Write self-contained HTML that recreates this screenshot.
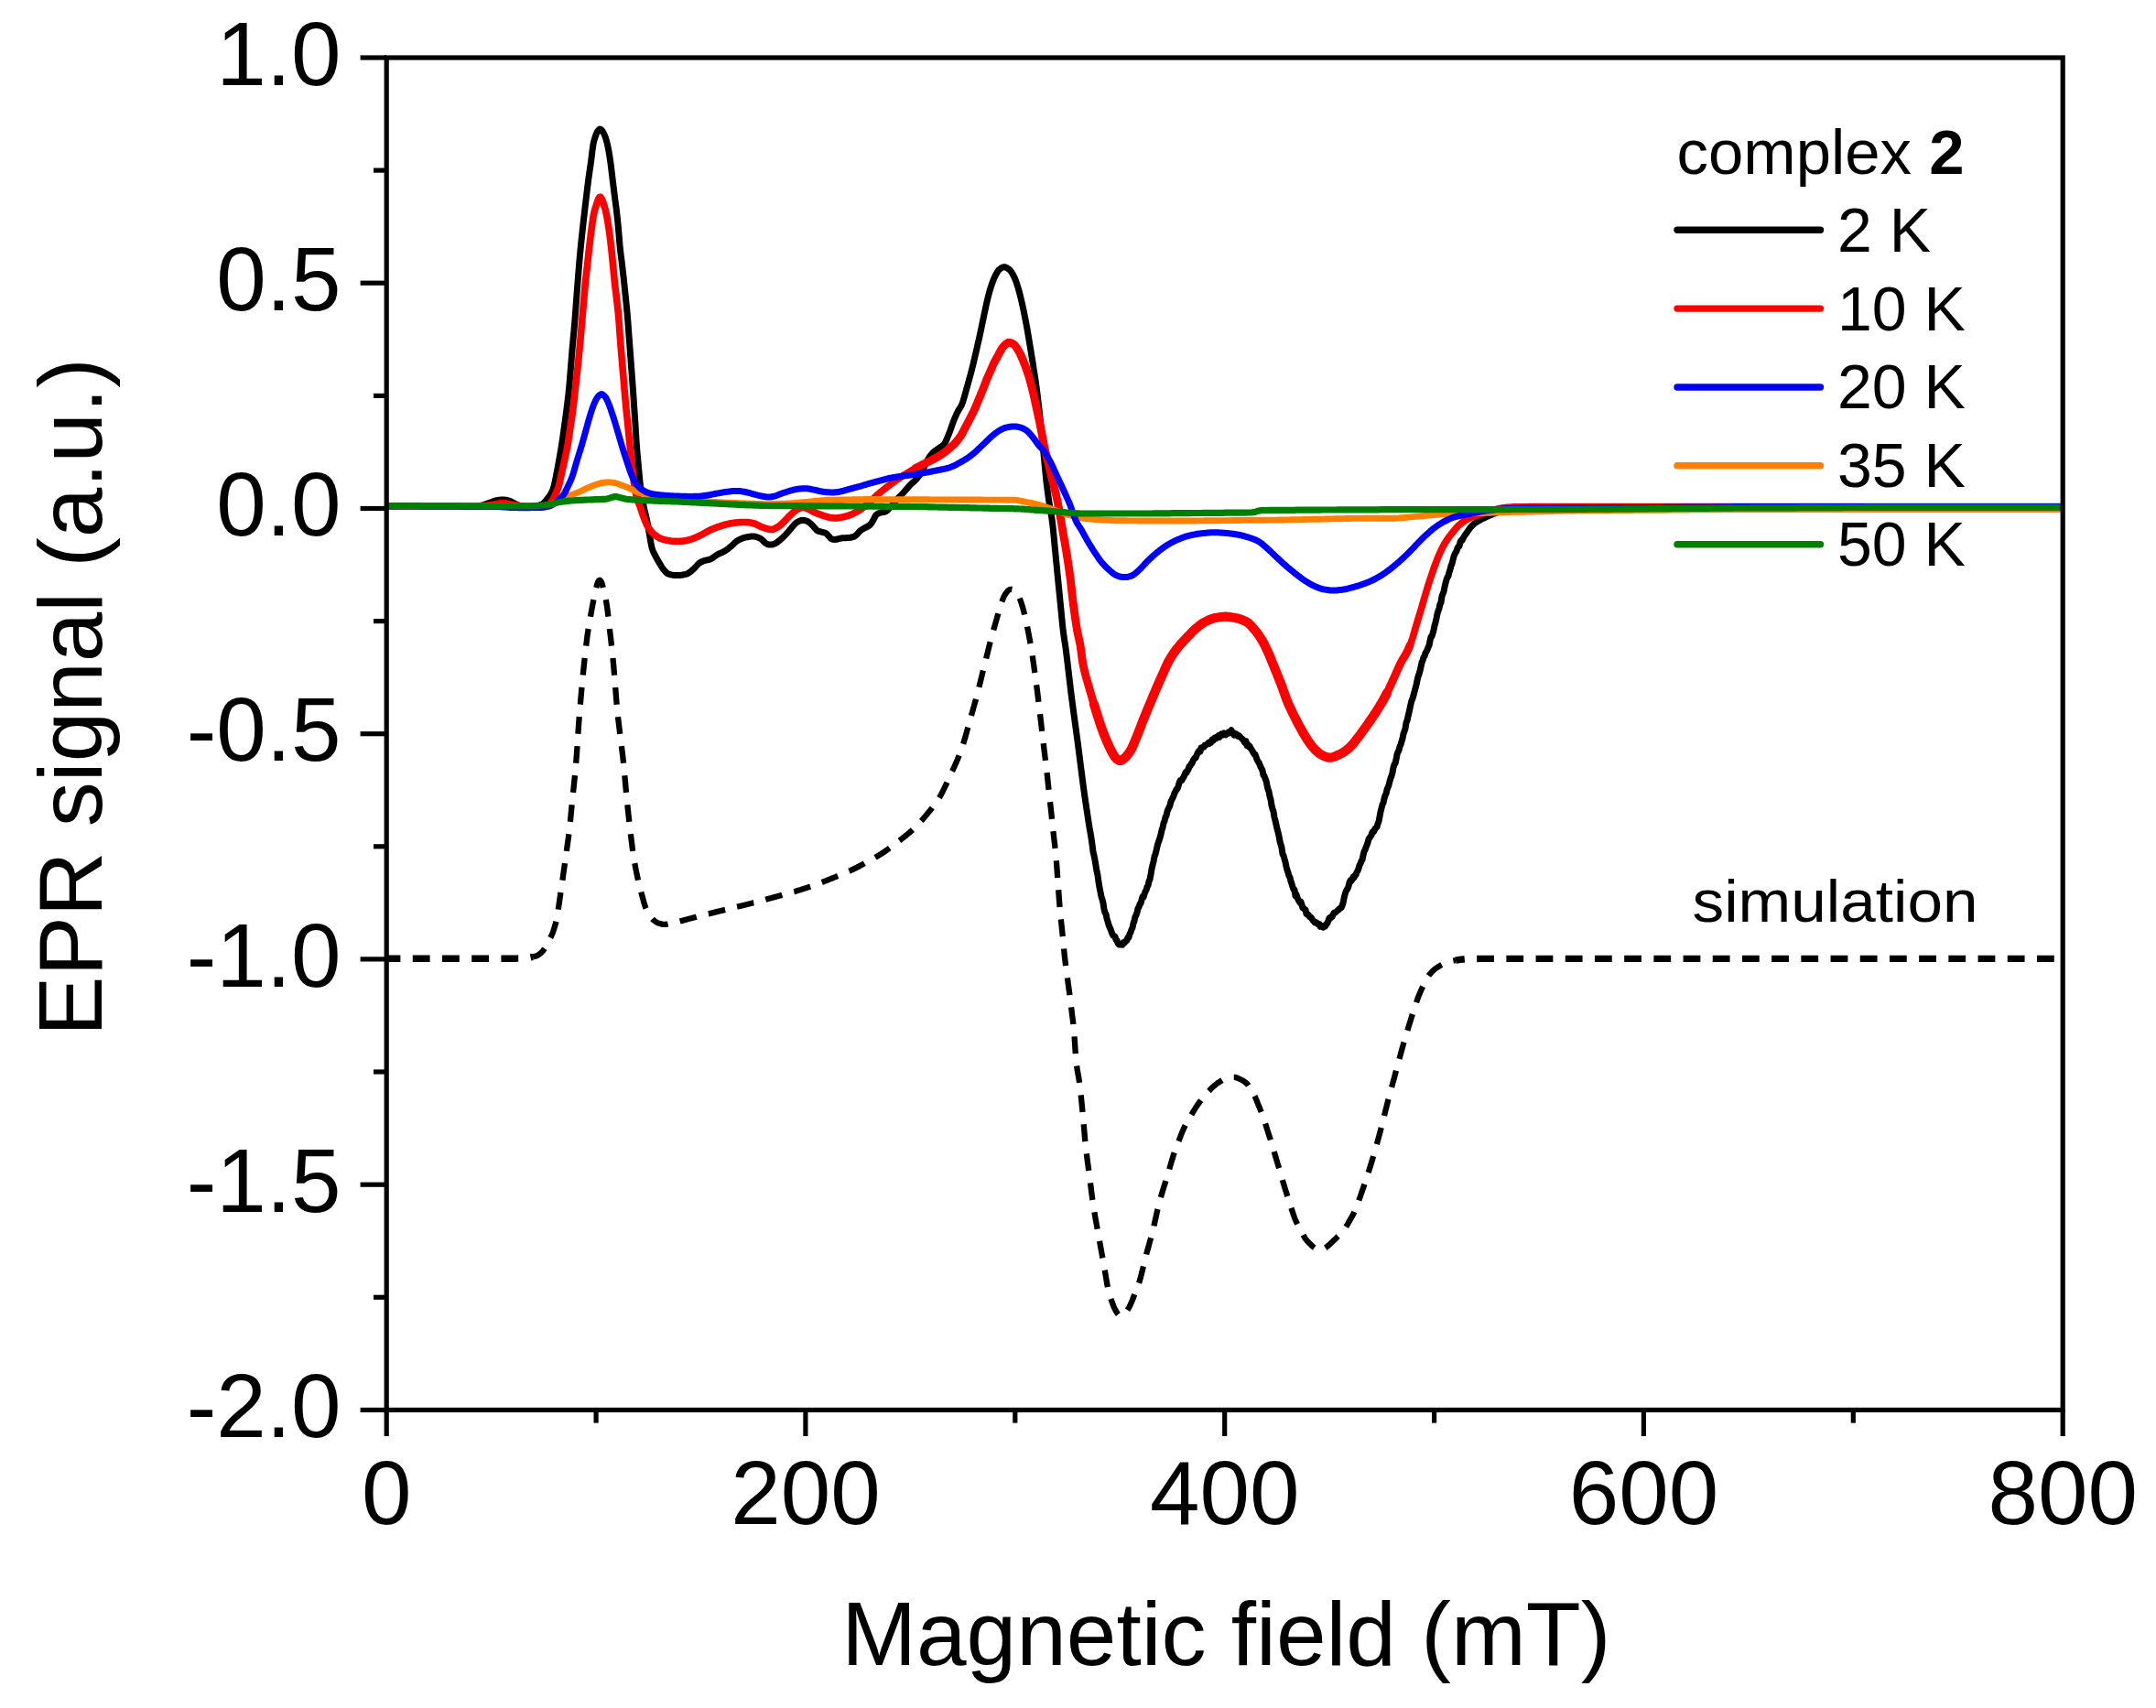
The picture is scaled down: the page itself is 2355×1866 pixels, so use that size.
<!DOCTYPE html>
<html><head><meta charset="utf-8"><title>EPR signal</title>
<style>html,body{margin:0;padding:0;background:#fff}svg{display:block}text{font-family:"Liberation Sans",sans-serif;fill:#000}</style></head><body>
<svg width="2355" height="1866" viewBox="0 0 2355 1866">
<rect width="2355" height="1866" fill="#fff"/>
<g fill="none" stroke-linejoin="round" stroke-linecap="butt">
<path d="M422.0 1047.2 L423.0 1047.2 L424.0 1047.2 L425.0 1047.2 L426.0 1047.2 L427.0 1047.2 L428.0 1047.2 L429.0 1047.2 L430.0 1047.2 L431.0 1047.2 L432.0 1047.2 L433.0 1047.2 L434.0 1047.2 L435.0 1047.2 L436.0 1047.2 L437.0 1047.2 L438.0 1047.2 L439.0 1047.2 L440.0 1047.2 L441.0 1047.2 L442.0 1047.2 L443.0 1047.2 L444.0 1047.2 L445.0 1047.2 L446.0 1047.2 L447.0 1047.2 L448.0 1047.2 L449.0 1047.2 L450.0 1047.2 L451.0 1047.2 L452.0 1047.2 L453.0 1047.2 L454.0 1047.2 L455.0 1047.2 L456.0 1047.2 L457.0 1047.2 L458.0 1047.2 L459.0 1047.2 L460.0 1047.2 L461.0 1047.2 L462.0 1047.2 L463.0 1047.2 L464.0 1047.2 L465.0 1047.2 L466.0 1047.2 L467.0 1047.2 L468.0 1047.2 L469.0 1047.2 L470.0 1047.2 L471.0 1047.2 L472.0 1047.2 L473.0 1047.2 L474.0 1047.2 L475.0 1047.2 L476.0 1047.2 L477.0 1047.2 L478.0 1047.2 L479.0 1047.2 L480.0 1047.2 L481.0 1047.2 L482.0 1047.2 L483.0 1047.2 L484.0 1047.2 L485.0 1047.2 L486.0 1047.2 L487.0 1047.2 L488.0 1047.2 L489.0 1047.2 L490.0 1047.2 L491.0 1047.2 L492.0 1047.2 L493.0 1047.2 L494.0 1047.2 L495.0 1047.2 L496.0 1047.2 L497.0 1047.2 L498.0 1047.2 L499.0 1047.2 L500.0 1047.2 L501.0 1047.2 L502.0 1047.2 L503.0 1047.2 L504.0 1047.2 L505.0 1047.2 L506.0 1047.2 L507.0 1047.2 L508.0 1047.2 L509.0 1047.2 L510.0 1047.2 L511.0 1047.2 L512.0 1047.2 L513.0 1047.2 L514.0 1047.2 L515.0 1047.2 L516.0 1047.2 L517.0 1047.2 L518.0 1047.2 L519.0 1047.2 L520.0 1047.2 L521.0 1047.2 L522.0 1047.2 L523.0 1047.2 L524.0 1047.2 L525.0 1047.2 L526.0 1047.2 L527.0 1047.2 L528.0 1047.2 L529.0 1047.2 L530.0 1047.2 L531.0 1047.2 L532.0 1047.2 L533.0 1047.2 L534.0 1047.2 L535.0 1047.2 L536.0 1047.2 L537.0 1047.2 L538.0 1047.2 L539.0 1047.2 L540.0 1047.2 L541.0 1047.2 L542.0 1047.2 L543.0 1047.2 L544.0 1047.2 L545.0 1047.2 L546.0 1047.2 L547.0 1047.2 L548.0 1047.2 L549.0 1047.2 L550.0 1047.2 L551.0 1047.2 L552.0 1047.2 L553.0 1047.2 L554.0 1047.2 L555.0 1047.2 L556.0 1047.2 L557.0 1047.2 L558.0 1047.2 L559.0 1047.2 L560.0 1047.2 L561.0 1047.2 L562.0 1047.2 L563.0 1047.2 L564.0 1047.1 L565.0 1047.1 L566.0 1047.0 L567.0 1047.0 L568.0 1046.9 L569.0 1046.9 L570.0 1046.8 L571.0 1046.7 L572.0 1046.7 L573.0 1046.6 L574.0 1046.6 L575.0 1046.5 L576.0 1046.4 L577.0 1046.3 L578.0 1046.2 L579.0 1046.0 L580.0 1045.8 L581.0 1045.6 L582.0 1045.4" stroke="#000" stroke-width="7.4" stroke-dasharray="18.8 13.4" stroke-dashoffset="3.40"/>
<path d="M582.0 1045.4 L583.0 1045.1 L584.0 1044.9 L585.0 1044.6 L586.0 1044.4 L587.0 1043.9 L588.0 1043.3 L589.0 1042.6 L590.0 1041.8 L591.0 1040.9 L592.0 1040.0 L593.0 1038.9 L594.0 1037.5 L595.0 1035.9 L596.0 1034.2 L597.0 1032.5 L598.0 1030.7 L599.0 1028.9 L600.0 1027.0 L601.0 1025.0 L602.0 1023.0 L603.0 1020.8 L604.0 1018.4 L605.0 1015.3 L606.0 1012.0 L607.0 1008.7 L608.0 1004.8 L609.0 998.9 L610.0 992.0 L611.0 985.1 L612.0 978.1 L613.0 971.1 L614.0 964.2 L615.0 957.2 L616.0 950.1 L617.0 943.0 L618.0 935.8 L619.0 928.6 L620.0 921.4 L621.0 914.4 L622.0 906.5 L623.0 896.6 L624.0 886.0 L625.0 876.0 L626.0 866.2 L627.0 856.7 L628.0 847.0 L629.0 836.2 L630.0 823.2 L631.0 808.2 L632.0 792.6 L633.0 779.8 L634.0 768.0 L635.0 756.4 L636.0 745.4 L637.0 735.1 L638.0 725.2 L639.0 716.0 L640.0 707.2 L641.0 698.8 L642.0 691.2 L643.0 684.8 L644.0 678.9 L645.0 673.4 L646.0 668.0 L647.0 662.5 L648.0 657.1 L649.0 652.0 L650.0 647.2 L651.0 642.9 L652.0 639.2 L653.0 636.1 L654.0 634.3 L655.0 633.8 L656.0 634.4 L657.0 636.0 L658.0 638.9 L659.0 642.9 L660.0 647.0 L661.0 651.4 L662.0 656.4 L663.0 662.3 L664.0 670.0 L665.0 679.0 L666.0 688.0 L667.0 696.5 L668.0 705.2 L669.0 714.4 L670.0 724.8 L671.0 736.6 L672.0 748.7 L673.0 761.7 L674.0 773.5 L675.0 783.1 L676.0 791.6 L677.0 800.0 L678.0 808.2 L679.0 816.1 L680.0 824.2 L681.0 833.0 L682.0 843.3 L683.0 854.7 L684.0 865.8 L685.0 876.0 L686.0 885.7 L687.0 894.9 L688.0 903.7 L689.0 912.2 L690.0 920.5 L691.0 928.4 L692.0 935.5 L693.0 941.6 L694.0 947.0 L695.0 952.0 L696.0 956.9 L697.0 961.6 L698.0 965.9 L699.0 969.9 L700.0 973.6 L701.0 977.2 L702.0 980.8 L703.0 984.6 L704.0 988.1 L705.0 991.1 L706.0 993.4 L707.0 995.5 L708.0 997.4 L709.0 999.0 L710.0 1000.5 L711.0 1002.0 L712.0 1003.3 L713.0 1004.4 L714.0 1005.3 L715.0 1006.1 L716.0 1006.9 L717.0 1007.5 L718.0 1008.1 L719.0 1008.5 L720.0 1008.8 L721.0 1009.1 L722.0 1009.4 L723.0 1009.6 L724.0 1009.8 L725.0 1009.9 L726.0 1009.9 L727.0 1009.8 L728.0 1009.7 L729.0 1009.6 L730.0 1009.4 L731.0 1009.2 L732.0 1009.0 L733.0 1008.8 L734.0 1008.6 L735.0 1008.4 L736.0 1008.2 L737.0 1008.0 L738.0 1007.7 L739.0 1007.5 L740.0 1007.2 L741.0 1007.0 L742.0 1006.7 L743.0 1006.4 L744.0 1006.2 L745.0 1005.9 L746.0 1005.6 L747.0 1005.4 L748.0 1005.1 L749.0 1004.8 L750.0 1004.6 L751.0 1004.3 L752.0 1004.0 L753.0 1003.7 L754.0 1003.5 L755.0 1003.2 L756.0 1002.9 L757.0 1002.7 L758.0 1002.4 L759.0 1002.1 L760.0 1001.9 L761.0 1001.6 L762.0 1001.4 L763.0 1001.1 L764.0 1000.8 L765.0 1000.6 L766.0 1000.3 L767.0 1000.1 L768.0 999.8 L769.0 999.6 L770.0 999.3 L771.0 999.1 L772.0 998.8 L773.0 998.6 L774.0 998.4 L775.0 998.1 L776.0 997.9 L777.0 997.6 L778.0 997.4 L779.0 997.1 L780.0 996.9 L781.0 996.6 L782.0 996.4 L783.0 996.1 L784.0 995.9 L785.0 995.6 L786.0 995.4 L787.0 995.2 L788.0 994.9 L789.0 994.7 L790.0 994.4 L791.0 994.2 L792.0 993.9 L793.0 993.7 L794.0 993.4 L795.0 993.2 L796.0 992.9 L797.0 992.7 L798.0 992.5 L799.0 992.2 L800.0 992.0 L801.0 991.7 L802.0 991.5 L803.0 991.2 L804.0 991.0 L805.0 990.7 L806.0 990.5 L807.0 990.2 L808.0 990.0 L809.0 989.8 L810.0 989.5 L811.0 989.3 L812.0 989.0 L813.0 988.8 L814.0 988.5 L815.0 988.3 L816.0 988.0 L817.0 987.8 L818.0 987.5 L819.0 987.3 L820.0 987.0 L821.0 986.8 L822.0 986.5 L823.0 986.2 L824.0 986.0 L825.0 985.7 L826.0 985.5 L827.0 985.2 L828.0 984.9 L829.0 984.7 L830.0 984.4 L831.0 984.1 L832.0 983.9 L833.0 983.6 L834.0 983.3 L835.0 983.1 L836.0 982.8 L837.0 982.5 L838.0 982.3 L839.0 982.0 L840.0 981.7 L841.0 981.5 L842.0 981.2 L843.0 980.9 L844.0 980.6 L845.0 980.4 L846.0 980.1 L847.0 979.8 L848.0 979.6 L849.0 979.3 L850.0 979.0 L851.0 978.7 L852.0 978.4 L853.0 978.2 L854.0 977.9 L855.0 977.6 L856.0 977.3 L857.0 977.1 L858.0 976.8 L859.0 976.5 L860.0 976.2 L861.0 975.9 L862.0 975.7 L863.0 975.4 L864.0 975.1 L865.0 974.8 L866.0 974.5 L867.0 974.2 L868.0 974.0 L869.0 973.7 L870.0 973.4 L871.0 973.1 L872.0 972.8 L873.0 972.5 L874.0 972.2 L875.0 971.9 L876.0 971.6 L877.0 971.2 L878.0 970.9 L879.0 970.6 L880.0 970.3 L881.0 970.0 L882.0 969.6 L883.0 969.3 L884.0 969.0 L885.0 968.6 L886.0 968.3 L887.0 967.9 L888.0 967.6 L889.0 967.2 L890.0 966.8 L891.0 966.5 L892.0 966.1 L893.0 965.7 L894.0 965.4 L895.0 965.0 L896.0 964.6 L897.0 964.3 L898.0 963.9 L899.0 963.5 L900.0 963.1 L901.0 962.7 L902.0 962.3 L903.0 961.9 L904.0 961.5 L905.0 961.1 L906.0 960.7 L907.0 960.3 L908.0 959.9 L909.0 959.5 L910.0 959.1 L911.0 958.7 L912.0 958.3 L913.0 957.9 L914.0 957.5 L915.0 957.1 L916.0 956.7 L917.0 956.3 L918.0 955.8 L919.0 955.4 L920.0 955.0 L921.0 954.6 L922.0 954.1 L923.0 953.7 L924.0 953.3 L925.0 952.8 L926.0 952.4 L927.0 951.9 L928.0 951.5 L929.0 951.0 L930.0 950.5 L931.0 950.1 L932.0 949.6 L933.0 949.1 L934.0 948.6 L935.0 948.1 L936.0 947.6 L937.0 947.1 L938.0 946.6 L939.0 946.1 L940.0 945.5 L941.0 945.0 L942.0 944.5 L943.0 943.9 L944.0 943.4 L945.0 942.8 L946.0 942.3 L947.0 941.7 L948.0 941.2 L949.0 940.7 L950.0 940.1 L951.0 939.6 L952.0 939.0 L953.0 938.5 L954.0 937.9 L955.0 937.3 L956.0 936.8 L957.0 936.2 L958.0 935.6 L959.0 935.0 L960.0 934.4 L961.0 933.8 L962.0 933.2 L963.0 932.6 L964.0 931.9 L965.0 931.2 L966.0 930.6 L967.0 929.9 L968.0 929.2 L969.0 928.5 L970.0 927.8 L971.0 927.0 L972.0 926.3 L973.0 925.6 L974.0 924.8 L975.0 924.1 L976.0 923.3 L977.0 922.5 L978.0 921.8 L979.0 921.0 L980.0 920.3 L981.0 919.5 L982.0 918.7 L983.0 918.0 L984.0 917.2 L985.0 916.4 L986.0 915.6 L987.0 914.9 L988.0 914.1 L989.0 913.3 L990.0 912.4 L991.0 911.6 L992.0 910.8 L993.0 910.0 L994.0 909.1 L995.0 908.2 L996.0 907.4 L997.0 906.5 L998.0 905.6 L999.0 904.6 L1000.0 903.7 L1001.0 902.7 L1002.0 901.7 L1003.0 900.7 L1004.0 899.6 L1005.0 898.5 L1006.0 897.3 L1007.0 896.2 L1008.0 895.0 L1009.0 893.8 L1010.0 892.6 L1011.0 891.4 L1012.0 890.2 L1013.0 889.0 L1014.0 887.8 L1015.0 886.6 L1016.0 885.4 L1017.0 884.1 L1018.0 882.9 L1019.0 881.6 L1020.0 880.3 L1021.0 879.0 L1022.0 877.6 L1023.0 876.2 L1024.0 874.7 L1025.0 873.2 L1026.0 871.6 L1027.0 869.9 L1028.0 868.0 L1029.0 866.1 L1030.0 864.1 L1031.0 862.0 L1032.0 860.0 L1033.0 858.0 L1034.0 855.9 L1035.0 853.7 L1036.0 851.6 L1037.0 849.4 L1038.0 847.3 L1039.0 845.1 L1040.0 842.9 L1041.0 840.7 L1042.0 838.5 L1043.0 836.3 L1044.0 834.0 L1045.0 831.7 L1046.0 829.4 L1047.0 827.0 L1048.0 824.6 L1049.0 822.0 L1050.0 819.3 L1051.0 816.3 L1052.0 813.1 L1053.0 809.9 L1054.0 806.5 L1055.0 803.1 L1056.0 799.5 L1057.0 795.9 L1058.0 792.3 L1059.0 788.7 L1060.0 785.2 L1061.0 781.6 L1062.0 778.1 L1063.0 774.5 L1064.0 771.0 L1065.0 767.4 L1066.0 763.8 L1067.0 760.0 L1068.0 756.2 L1069.0 752.3 L1070.0 748.3 L1071.0 744.3 L1072.0 740.2 L1073.0 736.1 L1074.0 732.0 L1075.0 728.0 L1076.0 723.9 L1077.0 719.9 L1078.0 715.9 L1079.0 711.9 L1080.0 707.9 L1081.0 703.8 L1082.0 699.8 L1083.0 696.0 L1084.0 692.4 L1085.0 688.9 L1086.0 685.5 L1087.0 682.1 L1088.0 678.7 L1089.0 675.2 L1090.0 671.6 L1091.0 667.9 L1092.0 664.3 L1093.0 661.1 L1094.0 658.2 L1095.0 655.6 L1096.0 653.1 L1097.0 651.0 L1098.0 649.2 L1099.0 647.8 L1100.0 646.5 L1101.0 645.4 L1102.0 644.5 L1103.0 644.0 L1104.0 643.8 L1105.0 643.8 L1106.0 644.0 L1107.0 644.3 L1108.0 644.8 L1109.0 645.6 L1110.0 646.7 L1111.0 647.9 L1112.0 649.5 L1113.0 651.6 L1114.0 654.2 L1115.0 657.0 L1116.0 660.0 L1117.0 663.3 L1118.0 667.0 L1119.0 671.0 L1120.0 675.1 L1121.0 679.6 L1122.0 684.5 L1123.0 689.5 L1124.0 694.6 L1125.0 700.0 L1126.0 705.6 L1127.0 711.7 L1128.0 718.5 L1129.0 725.4 L1130.0 732.6 L1131.0 739.9 L1132.0 747.3 L1133.0 755.0 L1134.0 763.1 L1135.0 771.5 L1136.0 780.0 L1137.0 788.6 L1138.0 797.3 L1139.0 806.0 L1140.0 814.6 L1141.0 822.9 L1142.0 831.0 L1143.0 839.4 L1144.0 848.2 L1145.0 857.7 L1146.0 867.3 L1147.0 876.0 L1148.0 884.9 L1149.0 894.5 L1150.0 904.2 L1151.0 913.5 L1152.0 921.9 L1153.0 930.9 L1154.0 942.2 L1155.0 956.1 L1156.0 969.9 L1157.0 983.8 L1158.0 995.7 L1159.0 1005.7 L1160.0 1015.1 L1161.0 1025.2 L1162.0 1035.8 L1163.0 1045.7 L1164.0 1054.1 L1165.0 1061.6 L1166.0 1069.0 L1167.0 1076.4 L1168.0 1083.7 L1169.0 1091.4 L1170.0 1099.6 L1171.0 1108.0 L1172.0 1115.7 L1173.0 1124.3 L1174.0 1138.7 L1175.0 1154.6 L1176.0 1164.0 L1177.0 1170.4 L1178.0 1175.9 L1179.0 1182.1 L1180.0 1190.4 L1181.0 1199.6 L1182.0 1209.6 L1183.0 1219.9 L1184.0 1231.5 L1185.0 1243.5 L1186.0 1253.5 L1187.0 1261.9 L1188.0 1269.6 L1189.0 1277.0 L1190.0 1284.5 L1191.0 1292.5 L1192.0 1300.5 L1193.0 1308.3 L1194.0 1315.4 L1195.0 1321.8 L1196.0 1327.8 L1197.0 1333.5 L1198.0 1339.0 L1199.0 1344.5 L1200.0 1350.1 L1201.0 1355.7 L1202.0 1361.3 L1203.0 1366.8 L1204.0 1372.3 L1205.0 1377.8 L1206.0 1383.4 L1207.0 1389.3 L1208.0 1395.3 L1209.0 1401.1 L1210.0 1406.5 L1211.0 1411.0 L1212.0 1414.7 L1213.0 1417.8 L1214.0 1420.7 L1215.0 1423.4 L1216.0 1426.1 L1217.0 1428.7 L1218.0 1430.7 L1219.0 1432.4 L1220.0 1434.1 L1221.0 1435.5 L1222.0 1436.7 L1223.0 1437.5 L1224.0 1437.7 L1225.0 1437.5 L1226.0 1437.0 L1227.0 1436.3 L1228.0 1435.5 L1229.0 1434.5 L1230.0 1433.3 L1231.0 1432.0 L1232.0 1430.5 L1233.0 1428.8 L1234.0 1427.0 L1235.0 1424.9 L1236.0 1422.5 L1237.0 1420.1 L1238.0 1417.5 L1239.0 1415.0 L1240.0 1412.5 L1241.0 1410.0 L1242.0 1407.5 L1243.0 1404.8 L1244.0 1401.9 L1245.0 1398.8 L1246.0 1395.2 L1247.0 1391.3 L1248.0 1387.2 L1249.0 1383.2 L1250.0 1379.0 L1251.0 1374.8 L1252.0 1370.8 L1253.0 1367.2 L1254.0 1363.6 L1255.0 1360.1 L1256.0 1356.5 L1257.0 1353.0 L1258.0 1349.4 L1259.0 1345.5 L1260.0 1341.3 L1261.0 1336.8 L1262.0 1332.3 L1263.0 1327.8 L1264.0 1323.2 L1265.0 1318.7 L1266.0 1314.6 L1267.0 1311.0 L1268.0 1307.6 L1269.0 1304.3 L1270.0 1301.0 L1271.0 1297.8 L1272.0 1294.6 L1273.0 1291.5 L1274.0 1288.3 L1275.0 1285.0 L1276.0 1281.6 L1277.0 1278.1 L1278.0 1274.7 L1279.0 1271.3 L1280.0 1267.9 L1281.0 1264.5 L1282.0 1261.3 L1283.0 1258.3 L1284.0 1255.5 L1285.0 1252.9 L1286.0 1250.3 L1287.0 1247.8 L1288.0 1245.3 L1289.0 1242.7 L1290.0 1240.2 L1291.0 1237.7 L1292.0 1235.2 L1293.0 1232.9 L1294.0 1230.8 L1295.0 1228.8 L1296.0 1227.0 L1297.0 1225.2 L1298.0 1223.5 L1299.0 1221.8 L1300.0 1220.2 L1301.0 1218.5 L1302.0 1216.8 L1303.0 1215.1 L1304.0 1213.5 L1305.0 1211.8 L1306.0 1210.2 L1307.0 1208.7 L1308.0 1207.2 L1309.0 1205.8 L1310.0 1204.4 L1311.0 1203.1 L1312.0 1201.8 L1313.0 1200.6 L1314.0 1199.3 L1315.0 1198.1 L1316.0 1197.0 L1317.0 1195.8 L1318.0 1194.7 L1319.0 1193.5 L1320.0 1192.4 L1321.0 1191.4 L1322.0 1190.3 L1323.0 1189.3 L1324.0 1188.3 L1325.0 1187.4 L1326.0 1186.5 L1327.0 1185.7 L1328.0 1184.9 L1329.0 1184.1 L1330.0 1183.3 L1331.0 1182.6 L1332.0 1182.0 L1333.0 1181.4 L1334.0 1180.8 L1335.0 1180.2 L1336.0 1179.6 L1337.0 1179.1 L1338.0 1178.6 L1339.0 1178.3 L1340.0 1177.9 L1341.0 1177.6 L1342.0 1177.4 L1343.0 1177.2 L1344.0 1177.0 L1345.0 1176.9 L1346.0 1176.8 L1347.0 1176.8 L1348.0 1176.8 L1349.0 1176.9 L1350.0 1177.1 L1351.0 1177.5 L1352.0 1177.9 L1353.0 1178.3 L1354.0 1178.8 L1355.0 1179.2 L1356.0 1179.7 L1357.0 1180.2 L1358.0 1180.8 L1359.0 1181.4 L1360.0 1182.2 L1361.0 1183.0 L1362.0 1183.9 L1363.0 1185.1 L1364.0 1186.6 L1365.0 1188.1 L1366.0 1189.6 L1367.0 1191.1 L1368.0 1192.8 L1369.0 1194.5 L1370.0 1196.4 L1371.0 1198.5 L1372.0 1200.9 L1373.0 1203.3 L1374.0 1205.8 L1375.0 1208.2 L1376.0 1210.7 L1377.0 1213.1 L1378.0 1215.6 L1379.0 1218.3 L1380.0 1221.0 L1381.0 1224.0 L1382.0 1227.1 L1383.0 1230.3 L1384.0 1233.4 L1385.0 1236.6 L1386.0 1239.7 L1387.0 1242.8 L1388.0 1246.0 L1389.0 1249.2 L1390.0 1252.4 L1391.0 1255.8 L1392.0 1259.2 L1393.0 1262.6 L1394.0 1266.0 L1395.0 1269.3 L1396.0 1272.6 L1397.0 1275.9 L1398.0 1279.2 L1399.0 1282.7 L1400.0 1286.1 L1401.0 1289.6 L1402.0 1293.0 L1403.0 1296.3 L1404.0 1299.6 L1405.0 1302.8 L1406.0 1306.0 L1407.0 1309.2 L1408.0 1312.4 L1409.0 1315.5 L1410.0 1318.5 L1411.0 1321.5 L1412.0 1324.5 L1413.0 1327.5 L1414.0 1330.3 L1415.0 1332.8 L1416.0 1335.0 L1417.0 1337.1 L1418.0 1339.0 L1419.0 1340.9 L1420.0 1342.8 L1421.0 1344.6 L1422.0 1346.5 L1423.0 1348.4 L1424.0 1350.2 L1425.0 1351.9 L1426.0 1353.4 L1427.0 1354.7 L1428.0 1355.9 L1429.0 1357.0 L1430.0 1358.0 L1431.0 1359.0 L1432.0 1359.9 L1433.0 1360.9 L1434.0 1361.8 L1435.0 1362.6 L1436.0 1363.3 L1437.0 1363.9 L1438.0 1364.6 L1439.0 1365.2 L1440.0 1365.6 L1441.0 1365.9 L1442.0 1366.0 L1443.0 1365.9 L1444.0 1365.5 L1445.0 1365.1 L1446.0 1364.5 L1447.0 1363.9 L1448.0 1363.2 L1449.0 1362.4 L1450.0 1361.5 L1451.0 1360.7 L1452.0 1359.8 L1453.0 1358.9 L1454.0 1358.0 L1455.0 1357.0 L1456.0 1356.1 L1457.0 1355.1 L1458.0 1354.2 L1459.0 1353.2 L1460.0 1352.2 L1461.0 1351.2 L1462.0 1350.3 L1463.0 1349.3 L1464.0 1348.3 L1465.0 1347.2 L1466.0 1346.1 L1467.0 1345.0 L1468.0 1343.8 L1469.0 1342.4 L1470.0 1340.9 L1471.0 1339.2 L1472.0 1337.5 L1473.0 1335.7 L1474.0 1333.9 L1475.0 1332.1 L1476.0 1330.4 L1477.0 1328.6 L1478.0 1326.7 L1479.0 1324.8 L1480.0 1322.7 L1481.0 1320.5 L1482.0 1318.1 L1483.0 1315.3 L1484.0 1312.4 L1485.0 1309.5 L1486.0 1306.7 L1487.0 1303.8 L1488.0 1300.9 L1489.0 1298.0 L1490.0 1295.1 L1491.0 1292.1 L1492.0 1289.1 L1493.0 1286.1 L1494.0 1283.0 L1495.0 1279.9 L1496.0 1276.7 L1497.0 1273.5 L1498.0 1270.3 L1499.0 1267.0 L1500.0 1263.7 L1501.0 1260.3 L1502.0 1256.8 L1503.0 1253.2 L1504.0 1249.6 L1505.0 1245.9 L1506.0 1242.2 L1507.0 1238.6 L1508.0 1234.8 L1509.0 1231.0 L1510.0 1227.1 L1511.0 1223.1 L1512.0 1219.0 L1513.0 1215.0 L1514.0 1210.9 L1515.0 1206.9 L1516.0 1203.0 L1517.0 1199.2 L1518.0 1195.5 L1519.0 1191.9 L1520.0 1188.2 L1521.0 1184.5 L1522.0 1180.9 L1523.0 1177.2 L1524.0 1173.5 L1525.0 1169.8 L1526.0 1166.1 L1527.0 1162.4 L1528.0 1158.7 L1529.0 1155.0 L1530.0 1151.3 L1531.0 1147.7 L1532.0 1144.0 L1533.0 1140.5 L1534.0 1137.0 L1535.0 1133.7 L1536.0 1130.3 L1537.0 1127.0 L1538.0 1123.7 L1539.0 1120.4 L1540.0 1117.2 L1541.0 1114.0 L1542.0 1110.8 L1543.0 1107.7 L1544.0 1104.6 L1545.0 1101.5 L1546.0 1098.5 L1547.0 1095.4 L1548.0 1092.5 L1549.0 1089.6 L1550.0 1087.1 L1551.0 1084.7 L1552.0 1082.4 L1553.0 1080.2 L1554.0 1078.1 L1555.0 1076.1 L1556.0 1074.1 L1557.0 1072.1 L1558.0 1070.2 L1559.0 1068.3 L1560.0 1066.7 L1561.0 1065.3 L1562.0 1064.1 L1563.0 1062.9 L1564.0 1061.8 L1565.0 1060.8 L1566.0 1059.9 L1567.0 1059.0 L1568.0 1058.2 L1569.0 1057.5 L1570.0 1056.8 L1571.0 1056.2 L1572.0 1055.6 L1573.0 1055.0 L1574.0 1054.4 L1575.0 1053.9 L1576.0 1053.4 L1577.0 1052.9 L1578.0 1052.5 L1579.0 1052.2 L1580.0 1051.8 L1581.0 1051.4 L1582.0 1051.1 L1583.0 1050.8 L1584.0 1050.5 L1585.0 1050.2 L1586.0 1049.9 L1587.0 1049.7 L1588.0 1049.5 L1589.0 1049.3 L1590.0 1049.2" stroke="#000" stroke-width="6.3" stroke-dasharray="18.8 13.4" stroke-dashoffset="2.52"/>
<path d="M1590.0 1049.2 L1591.0 1049.0 L1592.0 1048.8 L1593.0 1048.7 L1594.0 1048.5 L1595.0 1048.4 L1596.0 1048.2 L1597.0 1048.1 L1598.0 1048.0 L1599.0 1048.0 L1600.0 1047.9 L1601.0 1047.9 L1602.0 1047.8 L1603.0 1047.8 L1604.0 1047.8 L1605.0 1047.7 L1606.0 1047.7 L1607.0 1047.7 L1608.0 1047.6 L1609.0 1047.6 L1610.0 1047.6 L1611.0 1047.5 L1612.0 1047.5 L1613.0 1047.5 L1614.0 1047.5 L1615.0 1047.4 L1616.0 1047.4 L1617.0 1047.4 L1618.0 1047.4 L1619.0 1047.4 L1620.0 1047.4 L1621.0 1047.4 L1622.0 1047.4 L1623.0 1047.4 L1624.0 1047.4 L1625.0 1047.4 L1626.0 1047.4 L1627.0 1047.4 L1628.0 1047.4 L1629.0 1047.4 L1630.0 1047.4 L1631.0 1047.4 L1632.0 1047.4 L1633.0 1047.4 L1634.0 1047.4 L1635.0 1047.4 L1636.0 1047.4 L1637.0 1047.4 L1638.0 1047.4 L1639.0 1047.4 L1640.0 1047.4 L1641.0 1047.4 L1642.0 1047.4 L1643.0 1047.4 L1644.0 1047.4 L1645.0 1047.4 L1646.0 1047.4 L1647.0 1047.4 L1648.0 1047.4 L1649.0 1047.4 L1650.0 1047.4 L1651.0 1047.4 L1652.0 1047.4 L1653.0 1047.4 L1654.0 1047.4 L1655.0 1047.4 L1656.0 1047.4 L1657.0 1047.4 L1658.0 1047.4 L1659.0 1047.4 L1660.0 1047.4 L1661.0 1047.4 L1662.0 1047.4 L1663.0 1047.4 L1664.0 1047.4 L1665.0 1047.4 L1666.0 1047.4 L1667.0 1047.4 L1668.0 1047.4 L1669.0 1047.4 L1670.0 1047.4 L1671.0 1047.4 L1672.0 1047.4 L1673.0 1047.4 L1674.0 1047.4 L1675.0 1047.4 L1676.0 1047.4 L1677.0 1047.4 L1678.0 1047.4 L1679.0 1047.4 L1680.0 1047.4 L1681.0 1047.4 L1682.0 1047.4 L1683.0 1047.4 L1684.0 1047.4 L1685.0 1047.4 L1686.0 1047.4 L1687.0 1047.4 L1688.0 1047.4 L1689.0 1047.4 L1690.0 1047.4 L1691.0 1047.4 L1692.0 1047.4 L1693.0 1047.4 L1694.0 1047.4 L1695.0 1047.4 L1696.0 1047.4 L1697.0 1047.4 L1698.0 1047.4 L1699.0 1047.4 L1700.0 1047.4 L1701.0 1047.4 L1702.0 1047.4 L1703.0 1047.4 L1704.0 1047.4 L1705.0 1047.4 L1706.0 1047.4 L1707.0 1047.4 L1708.0 1047.4 L1709.0 1047.4 L1710.0 1047.4 L1711.0 1047.4 L1712.0 1047.4 L1713.0 1047.4 L1714.0 1047.4 L1715.0 1047.4 L1716.0 1047.4 L1717.0 1047.4 L1718.0 1047.4 L1719.0 1047.4 L1720.0 1047.4 L1721.0 1047.4 L1722.0 1047.4 L1723.0 1047.4 L1724.0 1047.4 L1725.0 1047.4 L1726.0 1047.4 L1727.0 1047.4 L1728.0 1047.4 L1729.0 1047.4 L1730.0 1047.4 L1731.0 1047.4 L1732.0 1047.4 L1733.0 1047.4 L1734.0 1047.4 L1735.0 1047.4 L1736.0 1047.4 L1737.0 1047.4 L1738.0 1047.4 L1739.0 1047.4 L1740.0 1047.4 L1741.0 1047.4 L1742.0 1047.4 L1743.0 1047.4 L1744.0 1047.4 L1745.0 1047.4 L1746.0 1047.4 L1747.0 1047.4 L1748.0 1047.4 L1749.0 1047.4 L1750.0 1047.4 L1751.0 1047.4 L1752.0 1047.4 L1753.0 1047.4 L1754.0 1047.4 L1755.0 1047.4 L1756.0 1047.4 L1757.0 1047.4 L1758.0 1047.4 L1759.0 1047.4 L1760.0 1047.4 L1761.0 1047.4 L1762.0 1047.4 L1763.0 1047.4 L1764.0 1047.4 L1765.0 1047.4 L1766.0 1047.4 L1767.0 1047.4 L1768.0 1047.4 L1769.0 1047.4 L1770.0 1047.4 L1771.0 1047.4 L1772.0 1047.4 L1773.0 1047.4 L1774.0 1047.4 L1775.0 1047.4 L1776.0 1047.4 L1777.0 1047.4 L1778.0 1047.4 L1779.0 1047.4 L1780.0 1047.4 L1781.0 1047.4 L1782.0 1047.4 L1783.0 1047.4 L1784.0 1047.4 L1785.0 1047.4 L1786.0 1047.4 L1787.0 1047.4 L1788.0 1047.4 L1789.0 1047.4 L1790.0 1047.4 L1791.0 1047.4 L1792.0 1047.4 L1793.0 1047.4 L1794.0 1047.4 L1795.0 1047.4 L1796.0 1047.4 L1797.0 1047.4 L1798.0 1047.4 L1799.0 1047.4 L1800.0 1047.4 L1801.0 1047.4 L1802.0 1047.4 L1803.0 1047.4 L1804.0 1047.4 L1805.0 1047.4 L1806.0 1047.4 L1807.0 1047.4 L1808.0 1047.4 L1809.0 1047.4 L1810.0 1047.4 L1811.0 1047.4 L1812.0 1047.4 L1813.0 1047.4 L1814.0 1047.4 L1815.0 1047.4 L1816.0 1047.4 L1817.0 1047.4 L1818.0 1047.4 L1819.0 1047.4 L1820.0 1047.4 L1821.0 1047.4 L1822.0 1047.4 L1823.0 1047.4 L1824.0 1047.4 L1825.0 1047.4 L1826.0 1047.4 L1827.0 1047.4 L1828.0 1047.4 L1829.0 1047.4 L1830.0 1047.4 L1831.0 1047.4 L1832.0 1047.4 L1833.0 1047.4 L1834.0 1047.4 L1835.0 1047.4 L1836.0 1047.4 L1837.0 1047.4 L1838.0 1047.4 L1839.0 1047.4 L1840.0 1047.4 L1841.0 1047.4 L1842.0 1047.4 L1843.0 1047.4 L1844.0 1047.4 L1845.0 1047.4 L1846.0 1047.4 L1847.0 1047.4 L1848.0 1047.4 L1849.0 1047.4 L1850.0 1047.4 L1851.0 1047.4 L1852.0 1047.4 L1853.0 1047.4 L1854.0 1047.4 L1855.0 1047.4 L1856.0 1047.4 L1857.0 1047.4 L1858.0 1047.4 L1859.0 1047.4 L1860.0 1047.4 L1861.0 1047.4 L1862.0 1047.4 L1863.0 1047.4 L1864.0 1047.4 L1865.0 1047.4 L1866.0 1047.4 L1867.0 1047.4 L1868.0 1047.4 L1869.0 1047.4 L1870.0 1047.4 L1871.0 1047.4 L1872.0 1047.4 L1873.0 1047.4 L1874.0 1047.4 L1875.0 1047.4 L1876.0 1047.4 L1877.0 1047.4 L1878.0 1047.4 L1879.0 1047.4 L1880.0 1047.4 L1881.0 1047.4 L1882.0 1047.4 L1883.0 1047.4 L1884.0 1047.4 L1885.0 1047.4 L1886.0 1047.4 L1887.0 1047.4 L1888.0 1047.4 L1889.0 1047.4 L1890.0 1047.4 L1891.0 1047.4 L1892.0 1047.4 L1893.0 1047.4 L1894.0 1047.4 L1895.0 1047.4 L1896.0 1047.4 L1897.0 1047.4 L1898.0 1047.4 L1899.0 1047.4 L1900.0 1047.4 L1901.0 1047.4 L1902.0 1047.4 L1903.0 1047.4 L1904.0 1047.4 L1905.0 1047.4 L1906.0 1047.4 L1907.0 1047.4 L1908.0 1047.4 L1909.0 1047.4 L1910.0 1047.4 L1911.0 1047.4 L1912.0 1047.4 L1913.0 1047.4 L1914.0 1047.4 L1915.0 1047.4 L1916.0 1047.4 L1917.0 1047.4 L1918.0 1047.4 L1919.0 1047.4 L1920.0 1047.4 L1921.0 1047.4 L1922.0 1047.4 L1923.0 1047.4 L1924.0 1047.4 L1925.0 1047.4 L1926.0 1047.4 L1927.0 1047.4 L1928.0 1047.4 L1929.0 1047.4 L1930.0 1047.4 L1931.0 1047.4 L1932.0 1047.4 L1933.0 1047.4 L1934.0 1047.4 L1935.0 1047.4 L1936.0 1047.4 L1937.0 1047.4 L1938.0 1047.4 L1939.0 1047.4 L1940.0 1047.4 L1941.0 1047.4 L1942.0 1047.4 L1943.0 1047.4 L1944.0 1047.4 L1945.0 1047.4 L1946.0 1047.4 L1947.0 1047.4 L1948.0 1047.4 L1949.0 1047.4 L1950.0 1047.4 L1951.0 1047.4 L1952.0 1047.4 L1953.0 1047.4 L1954.0 1047.4 L1955.0 1047.4 L1956.0 1047.4 L1957.0 1047.4 L1958.0 1047.4 L1959.0 1047.4 L1960.0 1047.4 L1961.0 1047.4 L1962.0 1047.4 L1963.0 1047.4 L1964.0 1047.4 L1965.0 1047.4 L1966.0 1047.4 L1967.0 1047.4 L1968.0 1047.4 L1969.0 1047.4 L1970.0 1047.4 L1971.0 1047.4 L1972.0 1047.4 L1973.0 1047.4 L1974.0 1047.4 L1975.0 1047.4 L1976.0 1047.4 L1977.0 1047.4 L1978.0 1047.4 L1979.0 1047.4 L1980.0 1047.4 L1981.0 1047.4 L1982.0 1047.4 L1983.0 1047.4 L1984.0 1047.4 L1985.0 1047.4 L1986.0 1047.4 L1987.0 1047.4 L1988.0 1047.4 L1989.0 1047.4 L1990.0 1047.4 L1991.0 1047.4 L1992.0 1047.4 L1993.0 1047.4 L1994.0 1047.4 L1995.0 1047.4 L1996.0 1047.4 L1997.0 1047.4 L1998.0 1047.4 L1999.0 1047.4 L2000.0 1047.4 L2001.0 1047.4 L2002.0 1047.4 L2003.0 1047.4 L2004.0 1047.4 L2005.0 1047.4 L2006.0 1047.4 L2007.0 1047.4 L2008.0 1047.4 L2009.0 1047.4 L2010.0 1047.4 L2011.0 1047.4 L2012.0 1047.4 L2013.0 1047.4 L2014.0 1047.4 L2015.0 1047.4 L2016.0 1047.4 L2017.0 1047.4 L2018.0 1047.4 L2019.0 1047.4 L2020.0 1047.4 L2021.0 1047.4 L2022.0 1047.4 L2023.0 1047.4 L2024.0 1047.4 L2025.0 1047.4 L2026.0 1047.4 L2027.0 1047.4 L2028.0 1047.4 L2029.0 1047.4 L2030.0 1047.4 L2031.0 1047.4 L2032.0 1047.4 L2033.0 1047.4 L2034.0 1047.4 L2035.0 1047.4 L2036.0 1047.4 L2037.0 1047.4 L2038.0 1047.4 L2039.0 1047.4 L2040.0 1047.4 L2041.0 1047.4 L2042.0 1047.4 L2043.0 1047.4 L2044.0 1047.4 L2045.0 1047.4 L2046.0 1047.4 L2047.0 1047.4 L2048.0 1047.4 L2049.0 1047.4 L2050.0 1047.4 L2051.0 1047.4 L2052.0 1047.4 L2053.0 1047.4 L2054.0 1047.4 L2055.0 1047.4 L2056.0 1047.4 L2057.0 1047.4 L2058.0 1047.4 L2059.0 1047.4 L2060.0 1047.4 L2061.0 1047.4 L2062.0 1047.4 L2063.0 1047.4 L2064.0 1047.4 L2065.0 1047.4 L2066.0 1047.4 L2067.0 1047.4 L2068.0 1047.4 L2069.0 1047.4 L2070.0 1047.4 L2071.0 1047.4 L2072.0 1047.4 L2073.0 1047.4 L2074.0 1047.4 L2075.0 1047.4 L2076.0 1047.4 L2077.0 1047.4 L2078.0 1047.4 L2079.0 1047.4 L2080.0 1047.4 L2081.0 1047.4 L2082.0 1047.4 L2083.0 1047.4 L2084.0 1047.4 L2085.0 1047.4 L2086.0 1047.4 L2087.0 1047.4 L2088.0 1047.4 L2089.0 1047.4 L2090.0 1047.4 L2091.0 1047.4 L2092.0 1047.4 L2093.0 1047.4 L2094.0 1047.4 L2095.0 1047.4 L2096.0 1047.4 L2097.0 1047.4 L2098.0 1047.4 L2099.0 1047.4 L2100.0 1047.4 L2101.0 1047.4 L2102.0 1047.4 L2103.0 1047.4 L2104.0 1047.4 L2105.0 1047.4 L2106.0 1047.4 L2107.0 1047.4 L2108.0 1047.4 L2109.0 1047.4 L2110.0 1047.4 L2111.0 1047.4 L2112.0 1047.4 L2113.0 1047.4 L2114.0 1047.4 L2115.0 1047.4 L2116.0 1047.4 L2117.0 1047.4 L2118.0 1047.4 L2119.0 1047.4 L2120.0 1047.4 L2121.0 1047.4 L2122.0 1047.4 L2123.0 1047.4 L2124.0 1047.4 L2125.0 1047.4 L2126.0 1047.4 L2127.0 1047.4 L2128.0 1047.4 L2129.0 1047.4 L2130.0 1047.4 L2131.0 1047.4 L2132.0 1047.4 L2133.0 1047.4 L2134.0 1047.4 L2135.0 1047.4 L2136.0 1047.4 L2137.0 1047.4 L2138.0 1047.4 L2139.0 1047.4 L2140.0 1047.4 L2141.0 1047.4 L2142.0 1047.4 L2143.0 1047.4 L2144.0 1047.4 L2145.0 1047.4 L2146.0 1047.4 L2147.0 1047.4 L2148.0 1047.4 L2149.0 1047.4 L2150.0 1047.4 L2151.0 1047.4 L2152.0 1047.4 L2153.0 1047.4 L2154.0 1047.4 L2155.0 1047.4 L2156.0 1047.4 L2157.0 1047.4 L2158.0 1047.4 L2159.0 1047.4 L2160.0 1047.4 L2161.0 1047.4 L2162.0 1047.4 L2163.0 1047.4 L2164.0 1047.4 L2165.0 1047.4 L2166.0 1047.4 L2167.0 1047.4 L2168.0 1047.4 L2169.0 1047.4 L2170.0 1047.4 L2171.0 1047.4 L2172.0 1047.4 L2173.0 1047.4 L2174.0 1047.4 L2175.0 1047.4 L2176.0 1047.4 L2177.0 1047.4 L2178.0 1047.4 L2179.0 1047.4 L2180.0 1047.4 L2181.0 1047.4 L2182.0 1047.4 L2183.0 1047.4 L2184.0 1047.4 L2185.0 1047.4 L2186.0 1047.4 L2187.0 1047.4 L2188.0 1047.4 L2189.0 1047.4 L2190.0 1047.4 L2191.0 1047.4 L2192.0 1047.4 L2193.0 1047.4 L2194.0 1047.4 L2195.0 1047.4 L2196.0 1047.4 L2197.0 1047.4 L2198.0 1047.4 L2199.0 1047.4 L2200.0 1047.4 L2201.0 1047.4 L2202.0 1047.4 L2203.0 1047.4 L2204.0 1047.4 L2205.0 1047.4 L2206.0 1047.4 L2207.0 1047.4 L2208.0 1047.4 L2209.0 1047.4 L2210.0 1047.4 L2211.0 1047.4 L2212.0 1047.4 L2213.0 1047.4 L2214.0 1047.4 L2215.0 1047.4 L2216.0 1047.4 L2217.0 1047.4 L2218.0 1047.4 L2219.0 1047.4 L2220.0 1047.4 L2221.0 1047.4 L2222.0 1047.4 L2223.0 1047.4 L2224.0 1047.4 L2225.0 1047.4 L2226.0 1047.4 L2227.0 1047.4 L2228.0 1047.4 L2229.0 1047.4 L2230.0 1047.4 L2231.0 1047.4 L2232.0 1047.4 L2233.0 1047.4 L2234.0 1047.4 L2235.0 1047.4 L2236.0 1047.4 L2237.0 1047.4 L2238.0 1047.4 L2239.0 1047.4 L2240.0 1047.4 L2241.0 1047.4 L2242.0 1047.4 L2243.0 1047.4 L2244.0 1047.4 L2245.0 1047.4 L2246.0 1047.4 L2247.0 1047.4 L2248.0 1047.4 L2249.0 1047.4 L2250.0 1047.4 L2251.0 1047.4 L2252.0 1047.4 L2253.0 1047.4" stroke="#000" stroke-width="7.4" stroke-dasharray="18.8 13.4" stroke-dashoffset="8.91"/>
<path d="M422.0 553.0 L423.0 553.0 L424.0 553.0 L425.0 553.0 L426.0 553.0 L427.0 553.0 L428.0 553.0 L429.0 553.0 L430.0 553.0 L431.0 553.0 L432.0 553.0 L433.0 553.0 L434.0 553.0 L435.0 553.0 L436.0 553.0 L437.0 553.0 L438.0 553.0 L439.0 553.0 L440.0 553.0 L441.0 553.0 L442.0 553.0 L443.0 553.0 L444.0 553.0 L445.0 553.0 L446.0 553.0 L447.0 553.0 L448.0 553.0 L449.0 553.0 L450.0 553.0 L451.0 553.0 L452.0 553.0 L453.0 553.0 L454.0 553.0 L455.0 553.0 L456.0 553.0 L457.0 553.0 L458.0 553.0 L459.0 553.0 L460.0 553.0 L461.0 553.0 L462.0 553.0 L463.0 553.0 L464.0 553.0 L465.0 553.0 L466.0 553.0 L467.0 553.0 L468.0 553.0 L469.0 553.0 L470.0 553.0 L471.0 553.0 L472.0 553.0 L473.0 553.0 L474.0 553.0 L475.0 553.0 L476.0 553.0 L477.0 553.0 L478.0 553.0 L479.0 553.0 L480.0 553.0 L481.0 553.0 L482.0 553.0 L483.0 553.0 L484.0 553.0 L485.0 553.0 L486.0 553.0 L487.0 553.0 L488.0 553.0 L489.0 553.0 L490.0 553.0 L491.0 553.0 L492.0 553.0 L493.0 553.0 L494.0 553.0 L495.0 553.0 L496.0 553.0 L497.0 553.0 L498.0 553.0 L499.0 553.0 L500.0 553.0 L501.0 553.0 L502.0 553.0 L503.0 553.0 L504.0 553.0 L505.0 553.0 L506.0 553.0 L507.0 553.0 L508.0 553.0 L509.0 553.0 L510.0 553.0 L511.0 553.0 L512.0 553.0 L513.0 553.0 L514.0 553.0 L515.0 552.9 L516.0 552.9 L517.0 552.9 L518.0 552.8 L519.0 552.8 L520.0 552.7 L521.0 552.7 L522.0 552.6 L523.0 552.6 L524.0 552.5 L525.0 552.4 L526.0 552.2 L527.0 551.9 L528.0 551.6 L529.0 551.3 L530.0 550.9 L531.0 550.6 L532.0 550.2 L533.0 549.8 L534.0 549.5 L535.0 549.2 L536.0 548.8 L537.0 548.4 L538.0 548.0 L539.0 547.7 L540.0 547.3 L541.0 547.0 L542.0 546.8 L543.0 546.6 L544.0 546.4 L545.0 546.3 L546.0 546.2 L547.0 546.1 L548.0 546.0 L549.0 546.0 L550.0 546.0 L551.0 546.1 L552.0 546.2 L553.0 546.3 L554.0 546.5 L555.0 546.8 L556.0 547.0 L557.0 547.3 L558.0 547.8 L559.0 548.3 L560.0 548.9 L561.0 549.5 L562.0 550.0 L563.0 550.5 L564.0 550.9 L565.0 551.4 L566.0 551.8 L567.0 552.2 L568.0 552.5 L569.0 552.8 L570.0 553.0 L571.0 553.1 L572.0 553.2 L573.0 553.3 L574.0 553.3 L575.0 553.4 L576.0 553.4 L577.0 553.4 L578.0 553.3 L579.0 553.3 L580.0 553.3 L581.0 553.2 L582.0 553.1 L583.0 553.1 L584.0 553.0 L585.0 552.9 L586.0 552.8 L587.0 552.6 L588.0 552.3 L589.0 552.1 L590.0 551.7 L591.0 551.4 L592.0 551.0 L593.0 550.4 L594.0 549.5 L595.0 548.4 L596.0 547.2 L597.0 546.0 L598.0 544.8 L599.0 543.6 L600.0 542.2 L601.0 540.8 L602.0 539.1 L603.0 537.0 L604.0 534.4 L605.0 531.3 L606.0 527.3 L607.0 522.2 L608.0 517.0 L609.0 511.8 L610.0 506.4 L611.0 500.9 L612.0 495.2 L613.0 489.3 L614.0 482.9 L615.0 475.9 L616.0 468.7 L617.0 461.6 L618.0 454.3 L619.0 446.7 L620.0 438.7 L621.0 429.9 L622.0 419.5 L623.0 407.4 L624.0 394.9 L625.0 382.4 L626.0 371.6 L627.0 360.6 L628.0 348.7 L629.0 335.6 L630.0 322.0 L631.0 308.8 L632.0 296.2 L633.0 284.3 L634.0 273.1 L635.0 263.1 L636.0 253.7 L637.0 244.7 L638.0 235.9 L639.0 227.2 L640.0 218.7 L641.0 210.4 L642.0 202.1 L643.0 194.3 L644.0 187.2 L645.0 180.5 L646.0 173.0 L647.0 164.4 L648.0 157.5 L649.0 153.2 L650.0 150.0 L651.0 147.3 L652.0 144.8 L653.0 143.0 L654.0 141.9 L655.0 141.1 L656.0 141.3 L657.0 142.1 L658.0 143.2 L659.0 144.8 L660.0 146.8 L661.0 149.1 L662.0 152.2 L663.0 155.9 L664.0 160.2 L665.0 165.4 L666.0 171.6 L667.0 178.3 L668.0 186.5 L669.0 195.0 L670.0 203.2 L671.0 211.3 L672.0 219.1 L673.0 226.7 L674.0 235.0 L675.0 244.7 L676.0 255.6 L677.0 267.9 L678.0 277.1 L679.0 284.9 L680.0 293.3 L681.0 302.1 L682.0 311.3 L683.0 321.1 L684.0 330.8 L685.0 340.6 L686.0 352.8 L687.0 366.7 L688.0 379.8 L689.0 393.0 L690.0 406.4 L691.0 420.0 L692.0 434.6 L693.0 449.3 L694.0 464.0 L695.0 480.9 L696.0 494.1 L697.0 504.7 L698.0 515.6 L699.0 526.7 L700.0 535.1 L701.0 541.6 L702.0 547.3 L703.0 552.6 L704.0 557.3 L705.0 561.4 L706.0 565.4 L707.0 570.0 L708.0 575.6 L709.0 581.6 L710.0 587.4 L711.0 593.4 L712.0 598.3 L713.0 601.4 L714.0 603.7 L715.0 605.6 L716.0 607.5 L717.0 609.4 L718.0 611.2 L719.0 613.0 L720.0 614.7 L721.0 616.3 L722.0 618.0 L723.0 619.6 L724.0 621.1 L725.0 622.4 L726.0 623.6 L727.0 624.7 L728.0 625.7 L729.0 626.5 L730.0 627.0 L731.0 627.3 L732.0 627.6 L733.0 627.9 L734.0 628.1 L735.0 628.3 L736.0 628.4 L737.0 628.5 L738.0 628.6 L739.0 628.6 L740.0 628.6 L741.0 628.6 L742.0 628.5 L743.0 628.4 L744.0 628.3 L745.0 628.2 L746.0 628.0 L747.0 627.8 L748.0 627.6 L749.0 627.4 L750.0 627.1 L751.0 626.7 L752.0 626.1 L753.0 625.4 L754.0 624.7 L755.0 623.9 L756.0 623.1 L757.0 622.2 L758.0 621.3 L759.0 620.2 L760.0 619.1 L761.0 618.0 L762.0 616.9 L763.0 615.9 L764.0 615.1 L765.0 614.5 L766.0 614.0 L767.0 613.5 L768.0 613.1 L769.0 612.7 L770.0 612.4 L771.0 612.1 L772.0 611.9 L773.0 611.7 L774.0 611.5 L775.0 611.3 L776.0 610.9 L777.0 610.4 L778.0 609.8 L779.0 609.1 L780.0 608.4 L781.0 607.7 L782.0 607.0 L783.0 606.3 L784.0 605.7 L785.0 605.2 L786.0 604.7 L787.0 604.3 L788.0 603.8 L789.0 603.4 L790.0 602.9 L791.0 602.4 L792.0 601.8 L793.0 601.2 L794.0 600.5 L795.0 599.7 L796.0 598.9 L797.0 598.1 L798.0 597.2 L799.0 596.4 L800.0 595.5 L801.0 594.6 L802.0 593.6 L803.0 592.7 L804.0 591.8 L805.0 591.0 L806.0 590.4 L807.0 589.8 L808.0 589.3 L809.0 588.9 L810.0 588.5 L811.0 588.1 L812.0 587.7 L813.0 587.4 L814.0 587.2 L815.0 586.9 L816.0 586.7 L817.0 586.5 L818.0 586.4 L819.0 586.2 L820.0 586.1 L821.0 586.0 L822.0 586.0 L823.0 586.0 L824.0 586.1 L825.0 586.3 L826.0 586.5 L827.0 586.8 L828.0 587.2 L829.0 587.6 L830.0 588.1 L831.0 588.6 L832.0 589.3 L833.0 590.2 L834.0 591.3 L835.0 592.3 L836.0 593.2 L837.0 593.8 L838.0 594.3 L839.0 594.8 L840.0 595.0 L841.0 595.1 L842.0 595.1 L843.0 595.0 L844.0 594.8 L845.0 594.5 L846.0 594.1 L847.0 593.7 L848.0 593.1 L849.0 592.4 L850.0 591.6 L851.0 590.8 L852.0 589.9 L853.0 589.1 L854.0 588.2 L855.0 587.3 L856.0 586.3 L857.0 585.3 L858.0 584.3 L859.0 583.2 L860.0 582.1 L861.0 580.9 L862.0 579.8 L863.0 578.6 L864.0 577.4 L865.0 576.1 L866.0 574.9 L867.0 573.7 L868.0 572.7 L869.0 571.8 L870.0 571.0 L871.0 570.3 L872.0 569.7 L873.0 569.3 L874.0 568.9 L875.0 568.6 L876.0 568.4 L877.0 568.3 L878.0 568.4 L879.0 568.6 L880.0 568.9 L881.0 569.2 L882.0 569.6 L883.0 570.2 L884.0 570.9 L885.0 571.7 L886.0 572.6 L887.0 573.7 L888.0 574.8 L889.0 575.8 L890.0 576.9 L891.0 578.0 L892.0 579.1 L893.0 579.8 L894.0 580.3 L895.0 580.6 L896.0 580.8 L897.0 581.0 L898.0 581.3 L899.0 581.6 L900.0 581.8 L901.0 582.1 L902.0 582.5 L903.0 583.2 L904.0 584.2 L905.0 585.4 L906.0 586.6 L907.0 587.8 L908.0 588.7 L909.0 589.0 L910.0 589.2 L911.0 589.4 L912.0 589.4 L913.0 589.3 L914.0 589.2 L915.0 589.0 L916.0 588.7 L917.0 588.4 L918.0 588.2 L919.0 588.0 L920.0 587.8 L921.0 587.7 L922.0 587.7 L923.0 587.7 L924.0 587.7 L925.0 587.6 L926.0 587.6 L927.0 587.5 L928.0 587.4 L929.0 587.2 L930.0 587.0 L931.0 586.8 L932.0 586.6 L933.0 586.2 L934.0 585.6 L935.0 584.8 L936.0 584.0 L937.0 582.9 L938.0 581.6 L939.0 580.4 L940.0 579.5 L941.0 578.9 L942.0 578.2 L943.0 577.7 L944.0 577.1 L945.0 576.5 L946.0 576.0 L947.0 575.5 L948.0 575.0 L949.0 574.5 L950.0 573.8 L951.0 572.7 L952.0 571.3 L953.0 569.8 L954.0 568.1 L955.0 566.0 L956.0 563.9 L957.0 562.5 L958.0 561.8 L959.0 561.2 L960.0 560.7 L961.0 560.3 L962.0 560.0 L963.0 559.8 L964.0 559.6 L965.0 559.5 L966.0 559.3 L967.0 559.0 L968.0 558.5 L969.0 557.8 L970.0 556.9 L971.0 555.8 L972.0 554.7 L973.0 553.6 L974.0 552.4 L975.0 551.3 L976.0 550.1 L977.0 548.8 L978.0 547.6 L979.0 546.5 L980.0 545.3 L981.0 544.3 L982.0 543.2 L983.0 542.2 L984.0 541.2 L985.0 540.1 L986.0 539.1 L987.0 538.0 L988.0 536.9 L989.0 535.7 L990.0 534.6 L991.0 533.4 L992.0 532.2 L993.0 531.1 L994.0 530.0 L995.0 529.0 L996.0 528.1 L997.0 527.2 L998.0 526.4 L999.0 525.5 L1000.0 524.5 L1001.0 523.4 L1002.0 522.2 L1003.0 520.9 L1004.0 519.5 L1005.0 518.0 L1006.0 516.4 L1007.0 514.6 L1008.0 512.8 L1009.0 510.9 L1010.0 509.0 L1011.0 507.1 L1012.0 505.0 L1013.0 503.0 L1014.0 501.1 L1015.0 499.5 L1016.0 498.1 L1017.0 496.8 L1018.0 495.7 L1019.0 494.6 L1020.0 493.7 L1021.0 492.9 L1022.0 492.2 L1023.0 491.5 L1024.0 490.7 L1025.0 490.0 L1026.0 489.3 L1027.0 488.6 L1028.0 488.0 L1029.0 487.3 L1030.0 486.5 L1031.0 485.6 L1032.0 484.3 L1033.0 482.4 L1034.0 480.2 L1035.0 477.7 L1036.0 475.2 L1037.0 472.8 L1038.0 470.1 L1039.0 467.3 L1040.0 464.4 L1041.0 461.6 L1042.0 459.0 L1043.0 456.6 L1044.0 454.3 L1045.0 452.1 L1046.0 450.0 L1047.0 448.2 L1048.0 446.6 L1049.0 445.1 L1050.0 443.3 L1051.0 441.0 L1052.0 438.1 L1053.0 434.8 L1054.0 431.2 L1055.0 427.6 L1056.0 424.0 L1057.0 420.5 L1058.0 416.9 L1059.0 413.3 L1060.0 409.6 L1061.0 405.8 L1062.0 401.9 L1063.0 397.8 L1064.0 393.6 L1065.0 389.3 L1066.0 385.0 L1067.0 380.7 L1068.0 376.3 L1069.0 371.9 L1070.0 367.4 L1071.0 362.7 L1072.0 358.0 L1073.0 353.1 L1074.0 348.4 L1075.0 343.6 L1076.0 338.9 L1077.0 334.2 L1078.0 329.7 L1079.0 325.6 L1080.0 321.7 L1081.0 318.0 L1082.0 314.6 L1083.0 311.5 L1084.0 308.7 L1085.0 306.0 L1086.0 303.5 L1087.0 301.5 L1088.0 299.7 L1089.0 297.9 L1090.0 296.3 L1091.0 294.9 L1092.0 294.0 L1093.0 293.3 L1094.0 292.7 L1095.0 292.2 L1096.0 291.8 L1097.0 291.7 L1098.0 291.8 L1099.0 292.2 L1100.0 292.8 L1101.0 293.4 L1102.0 294.1 L1103.0 294.9 L1104.0 296.1 L1105.0 297.5 L1106.0 299.2 L1107.0 301.1 L1108.0 303.0 L1109.0 305.3 L1110.0 308.0 L1111.0 311.1 L1112.0 314.3 L1113.0 317.7 L1114.0 321.5 L1115.0 325.5 L1116.0 329.8 L1117.0 334.2 L1118.0 338.8 L1119.0 343.7 L1120.0 348.7 L1121.0 354.0 L1122.0 359.5 L1123.0 365.4 L1124.0 371.4 L1125.0 377.4 L1126.0 383.4 L1127.0 389.6 L1128.0 395.8 L1129.0 402.2 L1130.0 408.7 L1131.0 415.3 L1132.0 422.4 L1133.0 430.0 L1134.0 438.3 L1135.0 447.0 L1136.0 456.3 L1137.0 466.1 L1138.0 476.0 L1139.0 485.9 L1140.0 496.0 L1141.0 506.1 L1142.0 516.6 L1143.0 526.4 L1144.0 534.6 L1145.0 541.9 L1146.0 548.7 L1147.0 555.1 L1148.0 560.8 L1149.0 567.0 L1150.0 575.0 L1151.0 585.0 L1152.0 595.6 L1153.0 605.8 L1154.0 616.2 L1155.0 626.5 L1156.0 636.6 L1157.0 646.6 L1158.0 656.5 L1159.0 666.7 L1160.0 677.1 L1161.0 686.7 L1162.0 694.6 L1163.0 701.2 L1164.0 707.8 L1165.0 715.5 L1166.0 723.8 L1167.0 732.3 L1168.0 740.9 L1169.0 749.4 L1170.0 757.6 L1171.0 765.4 L1172.0 773.0 L1173.0 780.4 L1174.0 787.7 L1175.0 795.0 L1176.0 802.3 L1177.0 809.7 L1178.0 817.4 L1179.0 825.2 L1180.0 833.1 L1181.0 841.0 L1182.0 848.8 L1183.0 856.5 L1184.0 863.9 L1185.0 870.9 L1186.0 877.8 L1187.0 884.6 L1188.0 891.2 L1189.0 897.7 L1190.0 904.1 L1191.0 909.4 L1192.0 915.8 L1193.0 922.6 L1194.0 930.7 L1195.0 934.6 L1196.0 939.7 L1197.0 945.8 L1198.0 951.8 L1199.0 956.2 L1200.0 963.6 L1201.0 969.7 L1202.0 974.6 L1203.0 979.7 L1204.0 982.6 L1205.0 986.6 L1206.0 993.4 L1207.0 997.1 L1208.0 998.4 L1209.0 1003.5 L1210.0 1006.7 L1211.0 1010.4 L1212.0 1012.9 L1213.0 1014.9 L1214.0 1018.0 L1215.0 1020.4 L1216.0 1022.4 L1217.0 1022.7 L1218.0 1023.3 L1219.0 1026.7 L1220.0 1027.4 L1221.0 1030.4 L1222.0 1031.8 L1223.0 1032.1 L1224.0 1031.7 L1225.0 1031.8 L1226.0 1032.2 L1227.0 1029.8 L1228.0 1030.3 L1229.0 1029.1 L1230.0 1027.7 L1231.0 1027.6 L1232.0 1024.2 L1233.0 1024.0 L1234.0 1020.5 L1235.0 1018.5 L1236.0 1015.5 L1237.0 1013.5 L1238.0 1008.7 L1239.0 1006.0 L1240.0 1001.5 L1241.0 999.8 L1242.0 996.9 L1243.0 992.3 L1244.0 991.0 L1245.0 987.7 L1246.0 987.1 L1247.0 983.2 L1248.0 979.6 L1249.0 980.3 L1250.0 976.9 L1251.0 974.1 L1252.0 972.4 L1253.0 969.1 L1254.0 967.4 L1255.0 962.8 L1256.0 960.8 L1257.0 955.7 L1258.0 949.4 L1259.0 945.1 L1260.0 941.4 L1261.0 935.8 L1262.0 933.3 L1263.0 929.3 L1264.0 924.7 L1265.0 921.1 L1266.0 918.3 L1267.0 915.4 L1268.0 911.8 L1269.0 906.9 L1270.0 904.1 L1271.0 899.2 L1272.0 897.1 L1273.0 892.7 L1274.0 891.2 L1275.0 886.5 L1276.0 883.9 L1277.0 882.0 L1278.0 879.8 L1279.0 875.4 L1280.0 873.6 L1281.0 871.7 L1282.0 869.4 L1283.0 866.2 L1284.0 864.9 L1285.0 862.4 L1286.0 861.9 L1287.0 859.1 L1288.0 855.5 L1289.0 852.9 L1290.0 853.2 L1291.0 852.5 L1292.0 850.0 L1293.0 849.1 L1294.0 846.3 L1295.0 843.9 L1296.0 844.2 L1297.0 842.0 L1298.0 840.8 L1299.0 837.3 L1300.0 837.0 L1301.0 834.6 L1302.0 834.2 L1303.0 831.3 L1304.0 829.6 L1305.0 828.0 L1306.0 828.1 L1307.0 825.4 L1308.0 823.1 L1309.0 821.4 L1310.0 820.0 L1311.0 821.0 L1312.0 816.8 L1313.0 816.5 L1314.0 816.7 L1315.0 816.2 L1316.0 814.1 L1317.0 814.1 L1318.0 813.3 L1319.0 812.9 L1320.0 811.4 L1321.0 812.3 L1322.0 810.4 L1323.0 811.0 L1324.0 808.1 L1325.0 809.3 L1326.0 806.7 L1327.0 805.9 L1328.0 807.0 L1329.0 805.2 L1330.0 805.7 L1331.0 803.7 L1332.0 805.5 L1333.0 803.5 L1334.0 802.0 L1335.0 802.7 L1336.0 802.9 L1337.0 801.0 L1338.0 801.8 L1339.0 802.8 L1340.0 801.4 L1341.0 800.4 L1342.0 799.8 L1343.0 800.8 L1344.0 798.9 L1345.0 797.8 L1346.0 800.2 L1347.0 800.2 L1348.0 803.2 L1349.0 802.2 L1350.0 801.8 L1351.0 802.2 L1352.0 804.2 L1353.0 803.6 L1354.0 804.4 L1355.0 805.6 L1356.0 806.5 L1357.0 807.4 L1358.0 808.3 L1359.0 810.3 L1360.0 811.6 L1361.0 809.6 L1362.0 814.4 L1363.0 813.3 L1364.0 815.6 L1365.0 815.1 L1366.0 817.4 L1367.0 818.8 L1368.0 820.2 L1369.0 822.4 L1370.0 823.9 L1371.0 824.2 L1372.0 826.9 L1373.0 829.7 L1374.0 831.7 L1375.0 832.9 L1376.0 835.3 L1377.0 837.9 L1378.0 839.5 L1379.0 841.9 L1380.0 847.0 L1381.0 847.7 L1382.0 850.8 L1383.0 852.9 L1384.0 858.0 L1385.0 862.2 L1386.0 864.8 L1387.0 870.0 L1388.0 873.4 L1389.0 880.0 L1390.0 883.7 L1391.0 886.5 L1392.0 892.9 L1393.0 896.5 L1394.0 901.1 L1395.0 905.5 L1396.0 909.1 L1397.0 913.6 L1398.0 919.0 L1399.0 922.7 L1400.0 926.1 L1401.0 932.9 L1402.0 934.9 L1403.0 938.4 L1404.0 941.9 L1405.0 946.8 L1406.0 950.5 L1407.0 953.3 L1408.0 957.2 L1409.0 958.5 L1410.0 962.7 L1411.0 965.7 L1412.0 968.9 L1413.0 971.8 L1414.0 971.9 L1415.0 978.7 L1416.0 977.2 L1417.0 980.4 L1418.0 982.8 L1419.0 984.8 L1420.0 986.2 L1421.0 985.3 L1422.0 988.7 L1423.0 992.0 L1424.0 992.1 L1425.0 993.5 L1426.0 993.8 L1427.0 998.4 L1428.0 999.1 L1429.0 999.2 L1430.0 1001.0 L1431.0 1002.1 L1432.0 1002.2 L1433.0 1003.9 L1434.0 1005.3 L1435.0 1006.4 L1436.0 1007.9 L1437.0 1007.6 L1438.0 1007.9 L1439.0 1009.4 L1440.0 1009.2 L1441.0 1009.4 L1442.0 1012.3 L1443.0 1011.6 L1444.0 1012.5 L1445.0 1013.1 L1446.0 1011.4 L1447.0 1012.4 L1448.0 1011.2 L1449.0 1009.4 L1450.0 1008.3 L1451.0 1005.8 L1452.0 1003.0 L1453.0 1003.4 L1454.0 1001.5 L1455.0 1001.6 L1456.0 999.6 L1457.0 997.5 L1458.0 996.7 L1459.0 996.9 L1460.0 995.9 L1461.0 994.7 L1462.0 994.2 L1463.0 992.9 L1464.0 992.2 L1465.0 991.8 L1466.0 989.5 L1467.0 986.8 L1468.0 981.6 L1469.0 977.5 L1470.0 974.3 L1471.0 972.3 L1472.0 970.9 L1473.0 968.2 L1474.0 964.1 L1475.0 961.9 L1476.0 962.6 L1477.0 961.0 L1478.0 958.1 L1479.0 958.9 L1480.0 956.6 L1481.0 955.8 L1482.0 952.9 L1483.0 951.4 L1484.0 948.7 L1485.0 945.3 L1486.0 943.6 L1487.0 940.7 L1488.0 939.4 L1489.0 934.4 L1490.0 930.3 L1491.0 928.7 L1492.0 925.8 L1493.0 923.3 L1494.0 920.8 L1495.0 916.5 L1496.0 915.4 L1497.0 913.8 L1498.0 912.6 L1499.0 909.0 L1500.0 909.1 L1501.0 907.7 L1502.0 905.0 L1503.0 904.3 L1504.0 903.4 L1505.0 900.1 L1506.0 897.4 L1507.0 892.4 L1508.0 886.9 L1509.0 883.0 L1510.0 878.9 L1511.0 877.2 L1512.0 872.5 L1513.0 869.1 L1514.0 867.2 L1515.0 862.7 L1516.0 860.4 L1517.0 857.7 L1518.0 853.5 L1519.0 850.2 L1520.0 847.5 L1521.0 844.0 L1522.0 838.5 L1523.0 835.2 L1524.0 834.1 L1525.0 829.8 L1526.0 824.1 L1527.0 821.5 L1528.0 819.6 L1529.0 815.5 L1530.0 813.7 L1531.0 810.0 L1532.0 806.9 L1533.0 801.6 L1534.0 799.1 L1535.0 796.1 L1536.0 789.4 L1537.0 787.2 L1538.0 782.9 L1539.0 778.6 L1540.0 774.0 L1541.0 769.1 L1542.0 765.4 L1543.0 763.1 L1544.0 759.5 L1545.0 756.0 L1546.0 752.1 L1547.0 748.3 L1548.0 743.5 L1549.0 739.1 L1550.0 736.6 L1551.0 733.0 L1552.0 728.9 L1553.0 724.0 L1554.0 721.7 L1555.0 718.0 L1556.0 716.9 L1557.0 713.5 L1558.0 712.0 L1559.0 710.0 L1560.0 707.1 L1561.0 705.3 L1562.0 700.0 L1563.0 695.8 L1564.0 695.2 L1565.0 692.0 L1566.0 688.4 L1567.0 683.5 L1568.0 679.9 L1569.0 675.7 L1570.0 670.5 L1571.0 667.4 L1572.0 664.6 L1573.0 659.9 L1574.0 658.3 L1575.0 651.5 L1576.0 648.8 L1577.0 646.4 L1578.0 641.1 L1579.0 637.0 L1580.0 633.3 L1581.0 630.6 L1582.0 629.3 L1583.0 625.1 L1584.0 622.1 L1585.0 618.0 L1586.0 615.9 L1587.0 612.0 L1588.0 608.0 L1589.0 605.5 L1590.0 603.5 L1591.0 602.0 L1592.0 598.7 L1593.0 597.2 L1594.0 596.7 L1595.0 592.3 L1596.0 590.2 L1597.0 590.5 L1598.0 588.4 L1599.0 586.4 L1600.0 584.9 L1601.0 583.5 L1602.0 582.1 L1603.0 580.7 L1604.0 579.2 L1605.0 577.9 L1606.0 576.5 L1607.0 575.3 L1608.0 574.2 L1609.0 573.2 L1610.0 572.4 L1611.0 571.6 L1612.0 571.0 L1613.0 570.3 L1614.0 569.7 L1615.0 569.1 L1616.0 568.5 L1617.0 568.0 L1618.0 567.4 L1619.0 566.9 L1620.0 566.4 L1621.0 566.0 L1622.0 565.5 L1623.0 565.0 L1624.0 564.6 L1625.0 564.1 L1626.0 563.7 L1627.0 563.2 L1628.0 562.8 L1629.0 562.4 L1630.0 562.0 L1631.0 561.6 L1632.0 561.2 L1633.0 560.8 L1634.0 560.5 L1635.0 560.1 L1636.0 559.7 L1637.0 559.4 L1638.0 559.1 L1639.0 558.8 L1640.0 558.5 L1641.0 558.2 L1642.0 558.0 L1643.0 557.8 L1644.0 557.5 L1645.0 557.3 L1646.0 557.1 L1647.0 556.9 L1648.0 556.7 L1649.0 556.6 L1650.0 556.5 L1651.0 556.4 L1652.0 556.3 L1653.0 556.2 L1654.0 556.1 L1655.0 556.0 L1656.0 556.0 L1657.0 555.9 L1658.0 555.8 L1659.0 555.7 L1660.0 555.7 L1661.0 555.6 L1662.0 555.6 L1663.0 555.5 L1664.0 555.5 L1665.0 555.5 L1666.0 555.5 L1667.0 555.5 L1668.0 555.5 L1669.0 555.5 L1670.0 555.5 L1671.0 555.5 L1672.0 555.5 L1673.0 555.5 L1674.0 555.5 L1675.0 555.5 L1676.0 555.5 L1677.0 555.5 L1678.0 555.5 L1679.0 555.4 L1680.0 555.4 L1681.0 555.4 L1682.0 555.4 L1683.0 555.4 L1684.0 555.4 L1685.0 555.4 L1686.0 555.4 L1687.0 555.4 L1688.0 555.4 L1689.0 555.4 L1690.0 555.4 L1691.0 555.4 L1692.0 555.4 L1693.0 555.4 L1694.0 555.4 L1695.0 555.4 L1696.0 555.4 L1697.0 555.4 L1698.0 555.4 L1699.0 555.4 L1700.0 555.4 L1701.0 555.4 L1702.0 555.4 L1703.0 555.4 L1704.0 555.4 L1705.0 555.4 L1706.0 555.3 L1707.0 555.3 L1708.0 555.3 L1709.0 555.3 L1710.0 555.3 L1711.0 555.3 L1712.0 555.3 L1713.0 555.3 L1714.0 555.3 L1715.0 555.3 L1716.0 555.3 L1717.0 555.3 L1718.0 555.3 L1719.0 555.3 L1720.0 555.3 L1721.0 555.3 L1722.0 555.3 L1723.0 555.3 L1724.0 555.3 L1725.0 555.3 L1726.0 555.3 L1727.0 555.3 L1728.0 555.3 L1729.0 555.3 L1730.0 555.3 L1731.0 555.3 L1732.0 555.3 L1733.0 555.2 L1734.0 555.2 L1735.0 555.2 L1736.0 555.2 L1737.0 555.2 L1738.0 555.2 L1739.0 555.2 L1740.0 555.2 L1741.0 555.2 L1742.0 555.2 L1743.0 555.2 L1744.0 555.2 L1745.0 555.2 L1746.0 555.2 L1747.0 555.2 L1748.0 555.2 L1749.0 555.2 L1750.0 555.2 L1751.0 555.2 L1752.0 555.2 L1753.0 555.2 L1754.0 555.2 L1755.0 555.2 L1756.0 555.2 L1757.0 555.2 L1758.0 555.2 L1759.0 555.2 L1760.0 555.1 L1761.0 555.1 L1762.0 555.1 L1763.0 555.1 L1764.0 555.1 L1765.0 555.1 L1766.0 555.1 L1767.0 555.1 L1768.0 555.1 L1769.0 555.1 L1770.0 555.1 L1771.0 555.1 L1772.0 555.1 L1773.0 555.1 L1774.0 555.1 L1775.0 555.1 L1776.0 555.1 L1777.0 555.1 L1778.0 555.1 L1779.0 555.1 L1780.0 555.1 L1781.0 555.1 L1782.0 555.1 L1783.0 555.1 L1784.0 555.1 L1785.0 555.1 L1786.0 555.0 L1787.0 555.0 L1788.0 555.0 L1789.0 555.0 L1790.0 555.0 L1791.0 555.0 L1792.0 555.0 L1793.0 555.0 L1794.0 555.0 L1795.0 555.0 L1796.0 555.0 L1797.0 555.0 L1798.0 555.0 L1799.0 555.0 L1800.0 555.0 L1801.0 555.0 L1802.0 555.0 L1803.0 555.0 L1804.0 555.0 L1805.0 555.0 L1806.0 555.0 L1807.0 555.0 L1808.0 555.0 L1809.0 555.0 L1810.0 555.0 L1811.0 555.0 L1812.0 555.0 L1813.0 555.0 L1814.0 555.0 L1815.0 555.0 L1816.0 555.0 L1817.0 555.0 L1818.0 555.0 L1819.0 555.0 L1820.0 555.0 L1821.0 555.0 L1822.0 555.0 L1823.0 555.0 L1824.0 555.0 L1825.0 555.0 L1826.0 555.0 L1827.0 555.0 L1828.0 555.0 L1829.0 555.0 L1830.0 555.0 L1831.0 555.0 L1832.0 555.0 L1833.0 555.0 L1834.0 555.0 L1835.0 555.0 L1836.0 555.0 L1837.0 555.0 L1838.0 555.0 L1839.0 555.0 L1840.0 555.0 L1841.0 555.0 L1842.0 555.0 L1843.0 555.0 L1844.0 555.0 L1845.0 555.0 L1846.0 555.0 L1847.0 555.0 L1848.0 555.0 L1849.0 555.0 L1850.0 555.0 L1851.0 555.0 L1852.0 555.0 L1853.0 555.0 L1854.0 555.0 L1855.0 555.0 L1856.0 555.0 L1857.0 555.0 L1858.0 555.0 L1859.0 555.0 L1860.0 555.0 L1861.0 555.0 L1862.0 555.0 L1863.0 555.0 L1864.0 555.0 L1865.0 555.0 L1866.0 555.0 L1867.0 555.0 L1868.0 555.0 L1869.0 555.0 L1870.0 555.0 L1871.0 555.0 L1872.0 555.0 L1873.0 555.0 L1874.0 555.0 L1875.0 555.0 L1876.0 555.0 L1877.0 555.0 L1878.0 555.0 L1879.0 555.0 L1880.0 555.0 L1881.0 555.0 L1882.0 555.0 L1883.0 555.0 L1884.0 555.0 L1885.0 555.0 L1886.0 555.0 L1887.0 555.0 L1888.0 555.0 L1889.0 555.0 L1890.0 555.0 L1891.0 555.0 L1892.0 555.0 L1893.0 555.0 L1894.0 555.0 L1895.0 555.0 L1896.0 555.0 L1897.0 555.0 L1898.0 555.0 L1899.0 555.0 L1900.0 555.0 L1901.0 555.0 L1902.0 555.0 L1903.0 555.0 L1904.0 555.0 L1905.0 555.0 L1906.0 555.0 L1907.0 555.0 L1908.0 555.0 L1909.0 555.0 L1910.0 555.0 L1911.0 555.0 L1912.0 555.0 L1913.0 555.0 L1914.0 555.0 L1915.0 555.0 L1916.0 555.0 L1917.0 555.0 L1918.0 555.0 L1919.0 555.0 L1920.0 555.0 L1921.0 555.0 L1922.0 555.0 L1923.0 555.0 L1924.0 555.0 L1925.0 555.0 L1926.0 555.0 L1927.0 555.0 L1928.0 555.0 L1929.0 555.0 L1930.0 555.0 L1931.0 555.0 L1932.0 555.0 L1933.0 555.0 L1934.0 555.0 L1935.0 555.0 L1936.0 555.0 L1937.0 555.0 L1938.0 555.0 L1939.0 555.0 L1940.0 555.0 L1941.0 555.0 L1942.0 555.0 L1943.0 555.0 L1944.0 555.0 L1945.0 555.0 L1946.0 555.0 L1947.0 555.0 L1948.0 555.0 L1949.0 555.0 L1950.0 555.0 L1951.0 555.0 L1952.0 555.0 L1953.0 555.0 L1954.0 555.0 L1955.0 555.0 L1956.0 555.0 L1957.0 555.0 L1958.0 555.0 L1959.0 555.0 L1960.0 555.0 L1961.0 555.0 L1962.0 555.0 L1963.0 555.0 L1964.0 555.0 L1965.0 555.0 L1966.0 555.0 L1967.0 555.0 L1968.0 555.0 L1969.0 555.0 L1970.0 555.0 L1971.0 555.0 L1972.0 555.0 L1973.0 555.0 L1974.0 555.0 L1975.0 555.0 L1976.0 555.0 L1977.0 555.0 L1978.0 555.0 L1979.0 555.0 L1980.0 555.0 L1981.0 555.0 L1982.0 555.0 L1983.0 555.0 L1984.0 555.0 L1985.0 555.0 L1986.0 555.0 L1987.0 555.0 L1988.0 555.0 L1989.0 555.0 L1990.0 555.0 L1991.0 555.0 L1992.0 555.0 L1993.0 555.0 L1994.0 555.0 L1995.0 555.0 L1996.0 555.0 L1997.0 555.0 L1998.0 555.0 L1999.0 555.0 L2000.0 555.0 L2001.0 555.0 L2002.0 555.0 L2003.0 555.0 L2004.0 555.0 L2005.0 555.0 L2006.0 555.0 L2007.0 555.0 L2008.0 555.0 L2009.0 555.0 L2010.0 555.0 L2011.0 555.0 L2012.0 555.0 L2013.0 555.0 L2014.0 555.0 L2015.0 555.0 L2016.0 555.0 L2017.0 555.0 L2018.0 555.0 L2019.0 555.0 L2020.0 555.0 L2021.0 555.0 L2022.0 555.0 L2023.0 555.0 L2024.0 555.0 L2025.0 555.0 L2026.0 555.0 L2027.0 555.0 L2028.0 555.0 L2029.0 555.0 L2030.0 555.0 L2031.0 555.0 L2032.0 555.0 L2033.0 555.0 L2034.0 555.0 L2035.0 555.0 L2036.0 555.0 L2037.0 555.0 L2038.0 555.0 L2039.0 555.0 L2040.0 555.0 L2041.0 555.0 L2042.0 555.0 L2043.0 555.0 L2044.0 555.0 L2045.0 555.0 L2046.0 555.0 L2047.0 555.0 L2048.0 555.0 L2049.0 555.0 L2050.0 555.0 L2051.0 555.0 L2052.0 555.0 L2053.0 555.0 L2054.0 555.0 L2055.0 555.0 L2056.0 555.0 L2057.0 555.0 L2058.0 555.0 L2059.0 555.0 L2060.0 555.0 L2061.0 555.0 L2062.0 555.0 L2063.0 555.0 L2064.0 555.0 L2065.0 555.0 L2066.0 555.0 L2067.0 555.0 L2068.0 555.0 L2069.0 555.0 L2070.0 555.0 L2071.0 555.0 L2072.0 555.0 L2073.0 555.0 L2074.0 555.0 L2075.0 555.0 L2076.0 555.0 L2077.0 555.0 L2078.0 555.0 L2079.0 555.0 L2080.0 555.0 L2081.0 555.0 L2082.0 555.0 L2083.0 555.0 L2084.0 555.0 L2085.0 555.0 L2086.0 555.0 L2087.0 555.0 L2088.0 555.0 L2089.0 555.0 L2090.0 555.0 L2091.0 555.0 L2092.0 555.0 L2093.0 555.0 L2094.0 555.0 L2095.0 555.0 L2096.0 555.0 L2097.0 555.0 L2098.0 555.0 L2099.0 555.0 L2100.0 555.0 L2101.0 555.0 L2102.0 555.0 L2103.0 555.0 L2104.0 555.0 L2105.0 555.0 L2106.0 555.0 L2107.0 555.0 L2108.0 555.0 L2109.0 555.0 L2110.0 555.0 L2111.0 555.0 L2112.0 555.0 L2113.0 555.0 L2114.0 555.0 L2115.0 555.0 L2116.0 555.0 L2117.0 555.0 L2118.0 555.0 L2119.0 555.0 L2120.0 555.0 L2121.0 555.0 L2122.0 555.0 L2123.0 555.0 L2124.0 555.0 L2125.0 555.0 L2126.0 555.0 L2127.0 555.0 L2128.0 555.0 L2129.0 555.0 L2130.0 555.0 L2131.0 555.0 L2132.0 555.0 L2133.0 555.0 L2134.0 555.0 L2135.0 555.0 L2136.0 555.0 L2137.0 555.0 L2138.0 555.0 L2139.0 555.0 L2140.0 555.0 L2141.0 555.0 L2142.0 555.0 L2143.0 555.0 L2144.0 555.0 L2145.0 555.0 L2146.0 555.0 L2147.0 555.0 L2148.0 555.0 L2149.0 555.0 L2150.0 555.0 L2151.0 555.0 L2152.0 555.0 L2153.0 555.0 L2154.0 555.0 L2155.0 555.0 L2156.0 555.0 L2157.0 555.0 L2158.0 555.0 L2159.0 555.0 L2160.0 555.0 L2161.0 555.0 L2162.0 555.0 L2163.0 555.0 L2164.0 555.0 L2165.0 555.0 L2166.0 555.0 L2167.0 555.0 L2168.0 555.0 L2169.0 555.0 L2170.0 555.0 L2171.0 555.0 L2172.0 555.0 L2173.0 555.0 L2174.0 555.0 L2175.0 555.0 L2176.0 555.0 L2177.0 555.0 L2178.0 555.0 L2179.0 555.0 L2180.0 555.0 L2181.0 555.0 L2182.0 555.0 L2183.0 555.0 L2184.0 555.0 L2185.0 555.0 L2186.0 555.0 L2187.0 555.0 L2188.0 555.0 L2189.0 555.0 L2190.0 555.0 L2191.0 555.0 L2192.0 555.0 L2193.0 555.0 L2194.0 555.0 L2195.0 555.0 L2196.0 555.0 L2197.0 555.0 L2198.0 555.0 L2199.0 555.0 L2200.0 555.0 L2201.0 555.0 L2202.0 555.0 L2203.0 555.0 L2204.0 555.0 L2205.0 555.0 L2206.0 555.0 L2207.0 555.0 L2208.0 555.0 L2209.0 555.0 L2210.0 555.0 L2211.0 555.0 L2212.0 555.0 L2213.0 555.0 L2214.0 555.0 L2215.0 555.0 L2216.0 555.0 L2217.0 555.0 L2218.0 555.0 L2219.0 555.0 L2220.0 555.0 L2221.0 555.0 L2222.0 555.0 L2223.0 555.0 L2224.0 555.0 L2225.0 555.0 L2226.0 555.0 L2227.0 555.0 L2228.0 555.0 L2229.0 555.0 L2230.0 555.0 L2231.0 555.0 L2232.0 555.0 L2233.0 555.0 L2234.0 555.0 L2235.0 555.0 L2236.0 555.0 L2237.0 555.0 L2238.0 555.0 L2239.0 555.0 L2240.0 555.0 L2241.0 555.0 L2242.0 555.0 L2243.0 555.0 L2244.0 555.0 L2245.0 555.0 L2246.0 555.0 L2247.0 555.0 L2248.0 555.0 L2249.0 555.0 L2250.0 555.0 L2251.0 555.0 L2252.0 555.0 L2253.0 555.0" stroke="#000" stroke-width="7.0"/>
<path d="M422.0 553.0 L423.0 553.0 L424.0 553.0 L425.0 553.0 L426.0 553.0 L427.0 553.0 L428.0 553.0 L429.0 553.0 L430.0 553.0 L431.0 553.0 L432.0 553.0 L433.0 553.0 L434.0 553.0 L435.0 553.0 L436.0 553.0 L437.0 553.0 L438.0 553.0 L439.0 553.0 L440.0 553.0 L441.0 553.0 L442.0 553.0 L443.0 553.0 L444.0 553.0 L445.0 553.0 L446.0 553.0 L447.0 553.0 L448.0 553.0 L449.0 553.0 L450.0 553.0 L451.0 553.0 L452.0 553.0 L453.0 553.0 L454.0 553.0 L455.0 553.0 L456.0 553.0 L457.0 553.0 L458.0 553.0 L459.0 553.0 L460.0 553.0 L461.0 553.0 L462.0 553.0 L463.0 553.0 L464.0 553.0 L465.0 553.0 L466.0 553.0 L467.0 553.0 L468.0 553.0 L469.0 553.0 L470.0 553.0 L471.0 553.0 L472.0 553.0 L473.0 553.0 L474.0 553.0 L475.0 553.0 L476.0 553.0 L477.0 553.0 L478.0 553.0 L479.0 553.0 L480.0 553.0 L481.0 553.0 L482.0 553.0 L483.0 553.0 L484.0 553.0 L485.0 553.0 L486.0 553.0 L487.0 553.0 L488.0 553.0 L489.0 553.0 L490.0 553.0 L491.0 553.0 L492.0 553.0 L493.0 553.0 L494.0 553.0 L495.0 553.0 L496.0 553.0 L497.0 553.0 L498.0 553.0 L499.0 553.0 L500.0 553.0 L501.0 553.0 L502.0 553.0 L503.0 553.0 L504.0 553.0 L505.0 553.0 L506.0 553.0 L507.0 553.0 L508.0 553.0 L509.0 553.0 L510.0 553.0 L511.0 553.0 L512.0 553.0 L513.0 553.0 L514.0 553.0 L515.0 553.0 L516.0 553.0 L517.0 553.0 L518.0 553.0 L519.0 553.0 L520.0 553.0 L521.0 553.0 L522.0 553.0 L523.0 553.0 L524.0 553.0 L525.0 553.0 L526.0 553.0 L527.0 552.9 L528.0 552.9 L529.0 552.8 L530.0 552.6 L531.0 552.5 L532.0 552.4 L533.0 552.2 L534.0 552.0 L535.0 551.8 L536.0 551.7 L537.0 551.5 L538.0 551.3 L539.0 551.2 L540.0 551.0 L541.0 550.8 L542.0 550.6 L543.0 550.4 L544.0 550.2 L545.0 550.0 L546.0 549.8 L547.0 549.6 L548.0 549.5 L549.0 549.5 L550.0 549.5 L551.0 549.6 L552.0 549.8 L553.0 550.0 L554.0 550.2 L555.0 550.4 L556.0 550.6 L557.0 550.8 L558.0 551.0 L559.0 551.2 L560.0 551.4 L561.0 551.5 L562.0 551.7 L563.0 551.9 L564.0 552.1 L565.0 552.3 L566.0 552.5 L567.0 552.6 L568.0 552.8 L569.0 552.9 L570.0 553.0 L571.0 553.1 L572.0 553.1 L573.0 553.2 L574.0 553.2 L575.0 553.3 L576.0 553.3 L577.0 553.3 L578.0 553.3 L579.0 553.3 L580.0 553.3 L581.0 553.2 L582.0 553.2 L583.0 553.2 L584.0 553.2 L585.0 553.1 L586.0 553.1 L587.0 553.1 L588.0 553.0 L589.0 553.0 L590.0 553.0 L591.0 553.0 L592.0 552.9 L593.0 552.8 L594.0 552.7 L595.0 552.5 L596.0 552.4 L597.0 552.2 L598.0 552.0 L599.0 551.6 L600.0 550.7 L601.0 549.6 L602.0 548.3 L603.0 547.0 L604.0 545.5 L605.0 543.6 L606.0 541.5 L607.0 539.5 L608.0 537.3 L609.0 534.8 L610.0 531.9 L611.0 528.4 L612.0 524.0 L613.0 519.3 L614.0 514.8 L615.0 510.3 L616.0 505.7 L617.0 501.1 L618.0 496.6 L619.0 492.0 L620.0 486.8 L621.0 480.6 L622.0 473.5 L623.0 466.7 L624.0 460.2 L625.0 453.6 L626.0 446.1 L627.0 437.6 L628.0 428.6 L629.0 419.6 L630.0 410.5 L631.0 401.2 L632.0 391.5 L633.0 381.4 L634.0 370.7 L635.0 359.3 L636.0 347.3 L637.0 336.0 L638.0 324.9 L639.0 312.9 L640.0 302.8 L641.0 294.2 L642.0 285.4 L643.0 276.2 L644.0 267.4 L645.0 258.8 L646.0 251.0 L647.0 243.7 L648.0 237.1 L649.0 232.0 L650.0 228.3 L651.0 225.1 L652.0 222.1 L653.0 219.0 L654.0 216.7 L655.0 215.3 L656.0 215.4 L657.0 217.0 L658.0 219.0 L659.0 221.8 L660.0 224.9 L661.0 228.4 L662.0 232.4 L663.0 237.3 L664.0 243.2 L665.0 249.7 L666.0 256.7 L667.0 264.8 L668.0 273.7 L669.0 283.9 L670.0 294.2 L671.0 304.6 L672.0 313.6 L673.0 321.8 L674.0 330.2 L675.0 339.0 L676.0 349.9 L677.0 364.0 L678.0 377.3 L679.0 389.5 L680.0 401.0 L681.0 412.9 L682.0 424.7 L683.0 436.5 L684.0 447.0 L685.0 456.4 L686.0 466.0 L687.0 476.5 L688.0 486.8 L689.0 496.4 L690.0 505.5 L691.0 514.6 L692.0 523.8 L693.0 531.3 L694.0 536.8 L695.0 541.4 L696.0 545.0 L697.0 547.9 L698.0 550.5 L699.0 553.1 L700.0 556.0 L701.0 559.0 L702.0 562.1 L703.0 564.9 L704.0 567.5 L705.0 570.0 L706.0 572.2 L707.0 574.2 L708.0 575.9 L709.0 577.4 L710.0 578.8 L711.0 580.2 L712.0 581.4 L713.0 582.5 L714.0 583.4 L715.0 584.2 L716.0 584.9 L717.0 585.6 L718.0 586.3 L719.0 587.0 L720.0 587.6 L721.0 588.1 L722.0 588.5 L723.0 588.9 L724.0 589.2 L725.0 589.4 L726.0 589.7 L727.0 589.9 L728.0 590.2 L729.0 590.4 L730.0 590.6 L731.0 590.8 L732.0 590.9 L733.0 591.1 L734.0 591.2 L735.0 591.2 L736.0 591.3 L737.0 591.4 L738.0 591.4 L739.0 591.4 L740.0 591.5 L741.0 591.5 L742.0 591.4 L743.0 591.4 L744.0 591.4 L745.0 591.3 L746.0 591.1 L747.0 591.0 L748.0 590.8 L749.0 590.6 L750.0 590.4 L751.0 590.2 L752.0 589.9 L753.0 589.7 L754.0 589.4 L755.0 589.1 L756.0 588.8 L757.0 588.4 L758.0 588.0 L759.0 587.6 L760.0 587.2 L761.0 586.8 L762.0 586.3 L763.0 585.9 L764.0 585.4 L765.0 584.9 L766.0 584.4 L767.0 583.9 L768.0 583.3 L769.0 582.7 L770.0 582.1 L771.0 581.6 L772.0 581.0 L773.0 580.5 L774.0 579.9 L775.0 579.4 L776.0 579.0 L777.0 578.5 L778.0 578.1 L779.0 577.7 L780.0 577.3 L781.0 576.9 L782.0 576.5 L783.0 576.1 L784.0 575.7 L785.0 575.4 L786.0 575.1 L787.0 574.7 L788.0 574.4 L789.0 574.1 L790.0 573.8 L791.0 573.5 L792.0 573.2 L793.0 572.9 L794.0 572.7 L795.0 572.4 L796.0 572.2 L797.0 572.0 L798.0 571.8 L799.0 571.7 L800.0 571.5 L801.0 571.4 L802.0 571.2 L803.0 571.1 L804.0 571.0 L805.0 570.9 L806.0 570.8 L807.0 570.7 L808.0 570.6 L809.0 570.6 L810.0 570.5 L811.0 570.5 L812.0 570.5 L813.0 570.5 L814.0 570.5 L815.0 570.6 L816.0 570.6 L817.0 570.6 L818.0 570.7 L819.0 570.9 L820.0 571.1 L821.0 571.3 L822.0 571.5 L823.0 571.7 L824.0 572.0 L825.0 572.4 L826.0 572.8 L827.0 573.3 L828.0 573.9 L829.0 574.4 L830.0 574.9 L831.0 575.3 L832.0 575.7 L833.0 576.1 L834.0 576.4 L835.0 576.8 L836.0 577.1 L837.0 577.4 L838.0 577.7 L839.0 577.9 L840.0 578.2 L841.0 578.3 L842.0 578.5 L843.0 578.5 L844.0 578.5 L845.0 578.2 L846.0 577.7 L847.0 577.1 L848.0 576.5 L849.0 576.0 L850.0 575.4 L851.0 574.8 L852.0 574.0 L853.0 573.2 L854.0 572.3 L855.0 571.3 L856.0 570.2 L857.0 569.2 L858.0 568.2 L859.0 567.1 L860.0 566.1 L861.0 565.0 L862.0 564.0 L863.0 563.0 L864.0 562.1 L865.0 561.1 L866.0 560.2 L867.0 559.4 L868.0 558.5 L869.0 557.7 L870.0 557.0 L871.0 556.4 L872.0 555.9 L873.0 555.4 L874.0 555.0 L875.0 554.7 L876.0 554.4 L877.0 554.4 L878.0 554.5 L879.0 554.7 L880.0 555.0 L881.0 555.4 L882.0 555.8 L883.0 556.2 L884.0 556.7 L885.0 557.2 L886.0 557.8 L887.0 558.4 L888.0 559.0 L889.0 559.4 L890.0 559.9 L891.0 560.3 L892.0 560.7 L893.0 561.1 L894.0 561.4 L895.0 561.8 L896.0 562.2 L897.0 562.5 L898.0 562.9 L899.0 563.2 L900.0 563.6 L901.0 563.9 L902.0 564.2 L903.0 564.5 L904.0 564.7 L905.0 565.0 L906.0 565.2 L907.0 565.4 L908.0 565.6 L909.0 565.7 L910.0 565.8 L911.0 565.9 L912.0 566.0 L913.0 566.0 L914.0 565.9 L915.0 565.8 L916.0 565.7 L917.0 565.5 L918.0 565.4 L919.0 565.2 L920.0 565.0 L921.0 564.8 L922.0 564.6 L923.0 564.3 L924.0 564.1 L925.0 563.8 L926.0 563.5 L927.0 563.2 L928.0 562.8 L929.0 562.4 L930.0 562.0 L931.0 561.6 L932.0 561.1 L933.0 560.6 L934.0 560.0 L935.0 559.5 L936.0 559.0 L937.0 558.4 L938.0 557.8 L939.0 557.1 L940.0 556.5 L941.0 555.8 L942.0 555.1 L943.0 554.4 L944.0 553.6 L945.0 552.9 L946.0 552.1 L947.0 551.2 L948.0 550.4 L949.0 549.5 L950.0 548.6 L951.0 547.7 L952.0 546.7 L953.0 545.7 L954.0 544.7 L955.0 543.7 L956.0 542.7 L957.0 541.8 L958.0 540.9 L959.0 540.0 L960.0 539.2 L961.0 538.3 L962.0 537.5 L963.0 536.7 L964.0 535.9 L965.0 535.1 L966.0 534.3 L967.0 533.5 L968.0 532.7 L969.0 532.0 L970.0 531.2 L971.0 530.4 L972.0 529.7 L973.0 529.0 L974.0 528.2 L975.0 527.5 L976.0 526.8 L977.0 526.1 L978.0 525.4 L979.0 524.6 L980.0 524.0 L981.0 523.3 L982.0 522.6 L983.0 521.9 L984.0 521.2 L985.0 520.5 L986.0 519.9 L987.0 519.2 L988.0 518.6 L989.0 518.0 L990.0 517.4 L991.0 516.8 L992.0 516.2 L993.0 515.6 L994.0 515.0 L995.0 514.4 L996.0 513.8 L997.0 513.2 L998.0 512.6 L999.0 512.0 L1000.0 511.5 L1001.0 511.0 L1002.0 510.5 L1003.0 509.9 L1004.0 509.4 L1005.0 509.0 L1006.0 508.5 L1007.0 508.0 L1008.0 507.5 L1009.0 507.0 L1010.0 506.5 L1011.0 506.0 L1012.0 505.5 L1013.0 505.0 L1014.0 504.5 L1015.0 504.0 L1016.0 503.5 L1017.0 503.0 L1018.0 502.5 L1019.0 502.0 L1020.0 501.5 L1021.0 500.9 L1022.0 500.4 L1023.0 499.8 L1024.0 499.2 L1025.0 498.7 L1026.0 498.1 L1027.0 497.4 L1028.0 496.8 L1029.0 496.1 L1030.0 495.4 L1031.0 494.7 L1032.0 494.0 L1033.0 493.2 L1034.0 492.4 L1035.0 491.5 L1036.0 490.7 L1037.0 489.9 L1038.0 489.0 L1039.0 488.1 L1040.0 487.2 L1041.0 486.3 L1042.0 485.3 L1043.0 484.3 L1044.0 483.2 L1045.0 482.1 L1046.0 480.9 L1047.0 479.6 L1048.0 478.3 L1049.0 476.9 L1050.0 475.3 L1051.0 473.5 L1052.0 471.7 L1053.0 469.8 L1054.0 467.8 L1055.0 465.9 L1056.0 463.9 L1057.0 462.1 L1058.0 460.2 L1059.0 458.3 L1060.0 456.4 L1061.0 454.4 L1062.0 452.4 L1063.0 450.4 L1064.0 448.3 L1065.0 446.1 L1066.0 443.8 L1067.0 441.4 L1068.0 438.9 L1069.0 436.5 L1070.0 434.0 L1071.0 431.7 L1072.0 429.3 L1073.0 426.9 L1074.0 424.5 L1075.0 421.9 L1076.0 419.2 L1077.0 416.5 L1078.0 414.0 L1079.0 411.7 L1080.0 409.4 L1081.0 407.2 L1082.0 405.0 L1083.0 402.7 L1084.0 400.4 L1085.0 398.1 L1086.0 396.0 L1087.0 394.1 L1088.0 392.3 L1089.0 390.6 L1090.0 388.7 L1091.0 386.8 L1092.0 384.8 L1093.0 383.0 L1094.0 381.4 L1095.0 379.9 L1096.0 378.6 L1097.0 377.5 L1098.0 376.6 L1099.0 375.7 L1100.0 375.0 L1101.0 374.4 L1102.0 374.2 L1103.0 374.3 L1104.0 374.5 L1105.0 374.9 L1106.0 375.4 L1107.0 376.0 L1108.0 376.8 L1109.0 377.9 L1110.0 379.3 L1111.0 380.8 L1112.0 382.4 L1113.0 384.0 L1114.0 385.9 L1115.0 388.0 L1116.0 390.3 L1117.0 392.6 L1118.0 395.0 L1119.0 397.5 L1120.0 400.1 L1121.0 402.9 L1122.0 405.8 L1123.0 408.8 L1124.0 412.0 L1125.0 415.4 L1126.0 419.1 L1127.0 423.0 L1128.0 427.0 L1129.0 431.2 L1130.0 435.6 L1131.0 440.2 L1132.0 444.8 L1133.0 449.4 L1134.0 454.0 L1135.0 458.7 L1136.0 463.5 L1137.0 468.5 L1138.0 473.9 L1139.0 479.4 L1140.0 484.6 L1141.0 489.3 L1142.0 493.6 L1143.0 497.8 L1144.0 501.9 L1145.0 506.0 L1146.0 510.2 L1147.0 514.5 L1148.0 518.7 L1149.0 522.8 L1150.0 526.7 L1151.0 530.4 L1152.0 534.1 L1153.0 538.1 L1154.0 542.6 L1155.0 547.4 L1156.0 552.5 L1157.0 557.9 L1158.0 563.3 L1159.0 569.0 L1160.0 575.0 L1161.0 581.1 L1162.0 586.8 L1163.0 592.3 L1164.0 597.9 L1165.0 604.0 L1166.0 610.3 L1167.0 616.8 L1168.0 623.8 L1169.0 631.1 L1170.0 639.6 L1171.0 648.6 L1172.0 657.2 L1173.0 664.7 L1174.0 672.0 L1175.0 678.8 L1176.0 685.2 L1177.0 690.9 L1178.0 695.6 L1179.0 699.9 L1180.0 705.0 L1181.0 712.0 L1182.0 719.7 L1183.0 726.0 L1184.0 730.6 L1185.0 734.7 L1186.0 738.6 L1187.0 742.1 L1188.0 745.6 L1189.0 749.0 L1190.0 752.4 L1191.0 755.9 L1192.0 759.3 L1193.0 762.8 L1194.0 766.1 L1195.0 769.5 L1196.0 772.8 L1197.0 776.0 L1198.0 779.2 L1199.0 782.4 L1200.0 785.6 L1201.0 788.7 L1202.0 791.7 L1203.0 794.6 L1204.0 797.4 L1205.0 800.1 L1206.0 802.7 L1207.0 805.2 L1208.0 807.6 L1209.0 809.9 L1210.0 812.1 L1211.0 814.3 L1212.0 816.5 L1213.0 818.6 L1214.0 820.5 L1215.0 822.4 L1216.0 824.1 L1217.0 825.8 L1218.0 827.3 L1219.0 828.5 L1220.0 829.4 L1221.0 830.1 L1222.0 830.7 L1223.0 831.0 L1224.0 830.9 L1225.0 830.6 L1226.0 830.0 L1227.0 829.2 L1228.0 828.4 L1229.0 827.5 L1230.0 826.6 L1231.0 825.5 L1232.0 824.2 L1233.0 822.8 L1234.0 821.3 L1235.0 819.7 L1236.0 817.9 L1237.0 815.9 L1238.0 813.7 L1239.0 811.3 L1240.0 808.9 L1241.0 806.4 L1242.0 804.0 L1243.0 801.5 L1244.0 799.0 L1245.0 796.4 L1246.0 793.8 L1247.0 791.1 L1248.0 788.5 L1249.0 786.0 L1250.0 783.5 L1251.0 781.1 L1252.0 778.6 L1253.0 776.2 L1254.0 773.8 L1255.0 771.4 L1256.0 769.0 L1257.0 766.6 L1258.0 764.2 L1259.0 761.8 L1260.0 759.4 L1261.0 757.1 L1262.0 754.7 L1263.0 752.4 L1264.0 750.1 L1265.0 747.8 L1266.0 745.5 L1267.0 743.2 L1268.0 741.0 L1269.0 738.7 L1270.0 736.5 L1271.0 734.3 L1272.0 732.0 L1273.0 729.7 L1274.0 727.5 L1275.0 725.4 L1276.0 723.3 L1277.0 721.5 L1278.0 719.8 L1279.0 718.1 L1280.0 716.5 L1281.0 715.0 L1282.0 713.5 L1283.0 712.1 L1284.0 710.7 L1285.0 709.4 L1286.0 708.1 L1287.0 706.9 L1288.0 705.7 L1289.0 704.5 L1290.0 703.4 L1291.0 702.3 L1292.0 701.2 L1293.0 700.1 L1294.0 699.0 L1295.0 698.0 L1296.0 696.9 L1297.0 695.9 L1298.0 694.8 L1299.0 693.8 L1300.0 692.8 L1301.0 691.7 L1302.0 690.7 L1303.0 689.7 L1304.0 688.7 L1305.0 687.8 L1306.0 686.9 L1307.0 686.1 L1308.0 685.2 L1309.0 684.4 L1310.0 683.6 L1311.0 682.8 L1312.0 682.1 L1313.0 681.3 L1314.0 680.7 L1315.0 680.1 L1316.0 679.5 L1317.0 679.0 L1318.0 678.5 L1319.0 678.0 L1320.0 677.6 L1321.0 677.1 L1322.0 676.7 L1323.0 676.3 L1324.0 675.9 L1325.0 675.6 L1326.0 675.3 L1327.0 675.1 L1328.0 674.9 L1329.0 674.7 L1330.0 674.6 L1331.0 674.4 L1332.0 674.2 L1333.0 674.1 L1334.0 674.0 L1335.0 673.9 L1336.0 673.8 L1337.0 673.7 L1338.0 673.7 L1339.0 673.7 L1340.0 673.7 L1341.0 673.8 L1342.0 673.9 L1343.0 674.0 L1344.0 674.2 L1345.0 674.3 L1346.0 674.5 L1347.0 674.7 L1348.0 674.8 L1349.0 675.0 L1350.0 675.2 L1351.0 675.4 L1352.0 675.6 L1353.0 675.9 L1354.0 676.2 L1355.0 676.5 L1356.0 676.9 L1357.0 677.3 L1358.0 677.7 L1359.0 678.2 L1360.0 678.6 L1361.0 679.1 L1362.0 679.6 L1363.0 680.3 L1364.0 681.1 L1365.0 682.0 L1366.0 683.0 L1367.0 684.1 L1368.0 685.2 L1369.0 686.4 L1370.0 687.5 L1371.0 688.7 L1372.0 689.9 L1373.0 691.2 L1374.0 692.6 L1375.0 694.0 L1376.0 695.5 L1377.0 697.1 L1378.0 698.7 L1379.0 700.3 L1380.0 702.1 L1381.0 704.0 L1382.0 706.0 L1383.0 708.1 L1384.0 710.2 L1385.0 712.4 L1386.0 714.6 L1387.0 716.9 L1388.0 719.3 L1389.0 721.8 L1390.0 724.3 L1391.0 726.8 L1392.0 729.3 L1393.0 731.7 L1394.0 734.2 L1395.0 736.6 L1396.0 739.1 L1397.0 741.6 L1398.0 744.1 L1399.0 746.7 L1400.0 749.3 L1401.0 752.1 L1402.0 754.9 L1403.0 757.7 L1404.0 760.5 L1405.0 763.2 L1406.0 765.8 L1407.0 768.2 L1408.0 770.5 L1409.0 772.7 L1410.0 774.8 L1411.0 776.9 L1412.0 779.0 L1413.0 781.0 L1414.0 783.0 L1415.0 785.0 L1416.0 786.9 L1417.0 788.9 L1418.0 790.8 L1419.0 792.7 L1420.0 794.5 L1421.0 796.3 L1422.0 798.1 L1423.0 799.9 L1424.0 801.6 L1425.0 803.3 L1426.0 804.9 L1427.0 806.5 L1428.0 808.1 L1429.0 809.6 L1430.0 811.0 L1431.0 812.4 L1432.0 813.7 L1433.0 815.1 L1434.0 816.3 L1435.0 817.5 L1436.0 818.6 L1437.0 819.6 L1438.0 820.5 L1439.0 821.4 L1440.0 822.2 L1441.0 823.0 L1442.0 823.8 L1443.0 824.4 L1444.0 825.0 L1445.0 825.5 L1446.0 825.9 L1447.0 826.3 L1448.0 826.7 L1449.0 827.1 L1450.0 827.4 L1451.0 827.6 L1452.0 827.7 L1453.0 827.7 L1454.0 827.6 L1455.0 827.4 L1456.0 827.1 L1457.0 826.8 L1458.0 826.4 L1459.0 826.0 L1460.0 825.6 L1461.0 825.1 L1462.0 824.7 L1463.0 824.2 L1464.0 823.8 L1465.0 823.3 L1466.0 822.7 L1467.0 822.1 L1468.0 821.5 L1469.0 820.8 L1470.0 820.1 L1471.0 819.3 L1472.0 818.5 L1473.0 817.7 L1474.0 816.8 L1475.0 815.9 L1476.0 814.8 L1477.0 813.7 L1478.0 812.5 L1479.0 811.3 L1480.0 810.0 L1481.0 808.7 L1482.0 807.4 L1483.0 806.1 L1484.0 804.9 L1485.0 803.6 L1486.0 802.2 L1487.0 800.9 L1488.0 799.5 L1489.0 798.1 L1490.0 796.7 L1491.0 795.3 L1492.0 793.9 L1493.0 792.5 L1494.0 791.1 L1495.0 789.7 L1496.0 788.2 L1497.0 786.8 L1498.0 785.3 L1499.0 783.8 L1500.0 782.4 L1501.0 780.8 L1502.0 779.3 L1503.0 777.8 L1504.0 776.2 L1505.0 774.6 L1506.0 773.0 L1507.0 771.4 L1508.0 769.7 L1509.0 768.1 L1510.0 766.3 L1511.0 764.6 L1512.0 762.8 L1513.0 760.9 L1514.0 759.0 L1515.0 757.0 L1516.0 754.9 L1517.0 752.8 L1518.0 750.6 L1519.0 748.4 L1520.0 746.3 L1521.0 744.1 L1522.0 741.9 L1523.0 739.7 L1524.0 737.5 L1525.0 735.2 L1526.0 732.9 L1527.0 730.7 L1528.0 728.5 L1529.0 726.4 L1530.0 724.3 L1531.0 722.4 L1532.0 720.6 L1533.0 719.0 L1534.0 717.4 L1535.0 715.7 L1536.0 713.9 L1537.0 712.0 L1538.0 709.9 L1539.0 707.6 L1540.0 705.1 L1541.0 702.5 L1542.0 699.7 L1543.0 696.7 L1544.0 693.4 L1545.0 689.9 L1546.0 686.4 L1547.0 683.0 L1548.0 679.7 L1549.0 676.4 L1550.0 673.1 L1551.0 669.8 L1552.0 666.5 L1553.0 663.1 L1554.0 659.6 L1555.0 656.1 L1556.0 652.7 L1557.0 649.3 L1558.0 646.0 L1559.0 642.6 L1560.0 639.4 L1561.0 636.2 L1562.0 633.1 L1563.0 630.1 L1564.0 627.1 L1565.0 624.2 L1566.0 621.4 L1567.0 618.6 L1568.0 615.9 L1569.0 613.3 L1570.0 610.7 L1571.0 608.2 L1572.0 605.9 L1573.0 603.6 L1574.0 601.5 L1575.0 599.4 L1576.0 597.4 L1577.0 595.6 L1578.0 593.8 L1579.0 592.2 L1580.0 590.6 L1581.0 589.1 L1582.0 587.7 L1583.0 586.3 L1584.0 585.0 L1585.0 583.7 L1586.0 582.5 L1587.0 581.2 L1588.0 580.0 L1589.0 578.8 L1590.0 577.6 L1591.0 576.5 L1592.0 575.4 L1593.0 574.4 L1594.0 573.5 L1595.0 572.6 L1596.0 571.8 L1597.0 571.0 L1598.0 570.3 L1599.0 569.5 L1600.0 568.9 L1601.0 568.2 L1602.0 567.6 L1603.0 567.0 L1604.0 566.5 L1605.0 566.1 L1606.0 565.6 L1607.0 565.2 L1608.0 564.8 L1609.0 564.4 L1610.0 564.1 L1611.0 563.7 L1612.0 563.3 L1613.0 563.0 L1614.0 562.7 L1615.0 562.3 L1616.0 562.0 L1617.0 561.7 L1618.0 561.4 L1619.0 561.0 L1620.0 560.7 L1621.0 560.4 L1622.0 560.1 L1623.0 559.8 L1624.0 559.5 L1625.0 559.1 L1626.0 558.8 L1627.0 558.5 L1628.0 558.1 L1629.0 557.8 L1630.0 557.5 L1631.0 557.3 L1632.0 557.0 L1633.0 556.8 L1634.0 556.5 L1635.0 556.3 L1636.0 556.0 L1637.0 555.8 L1638.0 555.6 L1639.0 555.4 L1640.0 555.2 L1641.0 555.0 L1642.0 554.8 L1643.0 554.7 L1644.0 554.6 L1645.0 554.5 L1646.0 554.4 L1647.0 554.3 L1648.0 554.3 L1649.0 554.2 L1650.0 554.1 L1651.0 554.1 L1652.0 554.0 L1653.0 553.9 L1654.0 553.9 L1655.0 553.8 L1656.0 553.8 L1657.0 553.8 L1658.0 553.7 L1659.0 553.7 L1660.0 553.7 L1661.0 553.7 L1662.0 553.7 L1663.0 553.7 L1664.0 553.7 L1665.0 553.7 L1666.0 553.7 L1667.0 553.7 L1668.0 553.7 L1669.0 553.7 L1670.0 553.6 L1671.0 553.6 L1672.0 553.6 L1673.0 553.6 L1674.0 553.6 L1675.0 553.6 L1676.0 553.6 L1677.0 553.6 L1678.0 553.6 L1679.0 553.6 L1680.0 553.6 L1681.0 553.6 L1682.0 553.6 L1683.0 553.6 L1684.0 553.6 L1685.0 553.6 L1686.0 553.6 L1687.0 553.6 L1688.0 553.6 L1689.0 553.5 L1690.0 553.5 L1691.0 553.5 L1692.0 553.5 L1693.0 553.5 L1694.0 553.5 L1695.0 553.5 L1696.0 553.5 L1697.0 553.5 L1698.0 553.5 L1699.0 553.5 L1700.0 553.5 L1701.0 553.5 L1702.0 553.5 L1703.0 553.5 L1704.0 553.5 L1705.0 553.5 L1706.0 553.5 L1707.0 553.5 L1708.0 553.5 L1709.0 553.5 L1710.0 553.5 L1711.0 553.5 L1712.0 553.5 L1713.0 553.5 L1714.0 553.5 L1715.0 553.5 L1716.0 553.5 L1717.0 553.5 L1718.0 553.5 L1719.0 553.5 L1720.0 553.5 L1721.0 553.5 L1722.0 553.5 L1723.0 553.5 L1724.0 553.5 L1725.0 553.5 L1726.0 553.5 L1727.0 553.5 L1728.0 553.5 L1729.0 553.5 L1730.0 553.5 L1731.0 553.5 L1732.0 553.5 L1733.0 553.5 L1734.0 553.5 L1735.0 553.5 L1736.0 553.5 L1737.0 553.5 L1738.0 553.5 L1739.0 553.5 L1740.0 553.5 L1741.0 553.5 L1742.0 553.5 L1743.0 553.5 L1744.0 553.5 L1745.0 553.5 L1746.0 553.5 L1747.0 553.5 L1748.0 553.5 L1749.0 553.5 L1750.0 553.5 L1751.0 553.5 L1752.0 553.5 L1753.0 553.5 L1754.0 553.5 L1755.0 553.5 L1756.0 553.5 L1757.0 553.5 L1758.0 553.5 L1759.0 553.5 L1760.0 553.5 L1761.0 553.5 L1762.0 553.5 L1763.0 553.5 L1764.0 553.5 L1765.0 553.5 L1766.0 553.5 L1767.0 553.5 L1768.0 553.5 L1769.0 553.5 L1770.0 553.5 L1771.0 553.5 L1772.0 553.5 L1773.0 553.5 L1774.0 553.5 L1775.0 553.5 L1776.0 553.5 L1777.0 553.5 L1778.0 553.5 L1779.0 553.5 L1780.0 553.5 L1781.0 553.5 L1782.0 553.5 L1783.0 553.5 L1784.0 553.5 L1785.0 553.5 L1786.0 553.5 L1787.0 553.5 L1788.0 553.5 L1789.0 553.5 L1790.0 553.5 L1791.0 553.5 L1792.0 553.5 L1793.0 553.5 L1794.0 553.5 L1795.0 553.5 L1796.0 553.5 L1797.0 553.5 L1798.0 553.5 L1799.0 553.5 L1800.0 553.5 L1801.0 553.5 L1802.0 553.5 L1803.0 553.5 L1804.0 553.5 L1805.0 553.5 L1806.0 553.5 L1807.0 553.5 L1808.0 553.5 L1809.0 553.5 L1810.0 553.5 L1811.0 553.5 L1812.0 553.5 L1813.0 553.5 L1814.0 553.5 L1815.0 553.5 L1816.0 553.5 L1817.0 553.5 L1818.0 553.5 L1819.0 553.5 L1820.0 553.5 L1821.0 553.5 L1822.0 553.5 L1823.0 553.5 L1824.0 553.5 L1825.0 553.5 L1826.0 553.5 L1827.0 553.5 L1828.0 553.5 L1829.0 553.5 L1830.0 553.5 L1831.0 553.5 L1832.0 553.5 L1833.0 553.5 L1834.0 553.5 L1835.0 553.5 L1836.0 553.5 L1837.0 553.5 L1838.0 553.5 L1839.0 553.5 L1840.0 553.5 L1841.0 553.5 L1842.0 553.5 L1843.0 553.5 L1844.0 553.5 L1845.0 553.5 L1846.0 553.5 L1847.0 553.5 L1848.0 553.5 L1849.0 553.5 L1850.0 553.5 L1851.0 553.5 L1852.0 553.5 L1853.0 553.5 L1854.0 553.5 L1855.0 553.5 L1856.0 553.5 L1857.0 553.5 L1858.0 553.5 L1859.0 553.5 L1860.0 553.5 L1861.0 553.5 L1862.0 553.5 L1863.0 553.5 L1864.0 553.5 L1865.0 553.5 L1866.0 553.5 L1867.0 553.5 L1868.0 553.5 L1869.0 553.5 L1870.0 553.5 L1871.0 553.5 L1872.0 553.5 L1873.0 553.5 L1874.0 553.5 L1875.0 553.5 L1876.0 553.5 L1877.0 553.5 L1878.0 553.5 L1879.0 553.5 L1880.0 553.5 L1881.0 553.5 L1882.0 553.5 L1883.0 553.5 L1884.0 553.5 L1885.0 553.5 L1886.0 553.5 L1887.0 553.5 L1888.0 553.5 L1889.0 553.5 L1890.0 553.5 L1891.0 553.5 L1892.0 553.5 L1893.0 553.5 L1894.0 553.5 L1895.0 553.5 L1896.0 553.5 L1897.0 553.5 L1898.0 553.5 L1899.0 553.5 L1900.0 553.5 L1901.0 553.5 L1902.0 553.5 L1903.0 553.5 L1904.0 553.5 L1905.0 553.5 L1906.0 553.5 L1907.0 553.5 L1908.0 553.5 L1909.0 553.5 L1910.0 553.5 L1911.0 553.5 L1912.0 553.5 L1913.0 553.5 L1914.0 553.5 L1915.0 553.5 L1916.0 553.5 L1917.0 553.5 L1918.0 553.5 L1919.0 553.5 L1920.0 553.5 L1921.0 553.5 L1922.0 553.5 L1923.0 553.5 L1924.0 553.5 L1925.0 553.5 L1926.0 553.5 L1927.0 553.5 L1928.0 553.5 L1929.0 553.5 L1930.0 553.5 L1931.0 553.5 L1932.0 553.5 L1933.0 553.5 L1934.0 553.5 L1935.0 553.5 L1936.0 553.5 L1937.0 553.5 L1938.0 553.5 L1939.0 553.5 L1940.0 553.5 L1941.0 553.5 L1942.0 553.5 L1943.0 553.5 L1944.0 553.5 L1945.0 553.5 L1946.0 553.5 L1947.0 553.5 L1948.0 553.5 L1949.0 553.5 L1950.0 553.5 L1951.0 553.5 L1952.0 553.5 L1953.0 553.5 L1954.0 553.5 L1955.0 553.5 L1956.0 553.5 L1957.0 553.5 L1958.0 553.5 L1959.0 553.5 L1960.0 553.5 L1961.0 553.5 L1962.0 553.5 L1963.0 553.5 L1964.0 553.5 L1965.0 553.5 L1966.0 553.5 L1967.0 553.5 L1968.0 553.5 L1969.0 553.5 L1970.0 553.5 L1971.0 553.5 L1972.0 553.5 L1973.0 553.5 L1974.0 553.5 L1975.0 553.5 L1976.0 553.5 L1977.0 553.5 L1978.0 553.5 L1979.0 553.5 L1980.0 553.5 L1981.0 553.5 L1982.0 553.5 L1983.0 553.5 L1984.0 553.5 L1985.0 553.5 L1986.0 553.5 L1987.0 553.5 L1988.0 553.5 L1989.0 553.5 L1990.0 553.5 L1991.0 553.5 L1992.0 553.5 L1993.0 553.5 L1994.0 553.5 L1995.0 553.5 L1996.0 553.5 L1997.0 553.5 L1998.0 553.5 L1999.0 553.5 L2000.0 553.5 L2001.0 553.5 L2002.0 553.5 L2003.0 553.5 L2004.0 553.5 L2005.0 553.5 L2006.0 553.5 L2007.0 553.5 L2008.0 553.5 L2009.0 553.5 L2010.0 553.5 L2011.0 553.5 L2012.0 553.5 L2013.0 553.5 L2014.0 553.5 L2015.0 553.5 L2016.0 553.5 L2017.0 553.5 L2018.0 553.5 L2019.0 553.5 L2020.0 553.5 L2021.0 553.5 L2022.0 553.5 L2023.0 553.5 L2024.0 553.5 L2025.0 553.5 L2026.0 553.5 L2027.0 553.5 L2028.0 553.5 L2029.0 553.5 L2030.0 553.5 L2031.0 553.5 L2032.0 553.5 L2033.0 553.5 L2034.0 553.5 L2035.0 553.5 L2036.0 553.5 L2037.0 553.5 L2038.0 553.5 L2039.0 553.5 L2040.0 553.5 L2041.0 553.5 L2042.0 553.5 L2043.0 553.5 L2044.0 553.5 L2045.0 553.5 L2046.0 553.5 L2047.0 553.5 L2048.0 553.5 L2049.0 553.5 L2050.0 553.5 L2051.0 553.5 L2052.0 553.5 L2053.0 553.5 L2054.0 553.5 L2055.0 553.5 L2056.0 553.5 L2057.0 553.5 L2058.0 553.5 L2059.0 553.5 L2060.0 553.5 L2061.0 553.5 L2062.0 553.5 L2063.0 553.5 L2064.0 553.5 L2065.0 553.5 L2066.0 553.5 L2067.0 553.5 L2068.0 553.5 L2069.0 553.5 L2070.0 553.5 L2071.0 553.5 L2072.0 553.5 L2073.0 553.5 L2074.0 553.5 L2075.0 553.5 L2076.0 553.5 L2077.0 553.5 L2078.0 553.5 L2079.0 553.5 L2080.0 553.5 L2081.0 553.5 L2082.0 553.5 L2083.0 553.5 L2084.0 553.5 L2085.0 553.5 L2086.0 553.5 L2087.0 553.5 L2088.0 553.5 L2089.0 553.5 L2090.0 553.5 L2091.0 553.5 L2092.0 553.5 L2093.0 553.5 L2094.0 553.5 L2095.0 553.5 L2096.0 553.5 L2097.0 553.5 L2098.0 553.5 L2099.0 553.5 L2100.0 553.5 L2101.0 553.5 L2102.0 553.5 L2103.0 553.5 L2104.0 553.5 L2105.0 553.5 L2106.0 553.5 L2107.0 553.5 L2108.0 553.5 L2109.0 553.5 L2110.0 553.5 L2111.0 553.5 L2112.0 553.5 L2113.0 553.5 L2114.0 553.5 L2115.0 553.5 L2116.0 553.5 L2117.0 553.5 L2118.0 553.5 L2119.0 553.5 L2120.0 553.5 L2121.0 553.5 L2122.0 553.5 L2123.0 553.5 L2124.0 553.5 L2125.0 553.5 L2126.0 553.5 L2127.0 553.5 L2128.0 553.5 L2129.0 553.5 L2130.0 553.5 L2131.0 553.5 L2132.0 553.5 L2133.0 553.5 L2134.0 553.5 L2135.0 553.5 L2136.0 553.5 L2137.0 553.5 L2138.0 553.5 L2139.0 553.5 L2140.0 553.5 L2141.0 553.5 L2142.0 553.5 L2143.0 553.5 L2144.0 553.5 L2145.0 553.5 L2146.0 553.5 L2147.0 553.5 L2148.0 553.5 L2149.0 553.5 L2150.0 553.5 L2151.0 553.5 L2152.0 553.5 L2153.0 553.5 L2154.0 553.5 L2155.0 553.5 L2156.0 553.5 L2157.0 553.5 L2158.0 553.5 L2159.0 553.5 L2160.0 553.5 L2161.0 553.5 L2162.0 553.5 L2163.0 553.5 L2164.0 553.5 L2165.0 553.5 L2166.0 553.5 L2167.0 553.5 L2168.0 553.5 L2169.0 553.5 L2170.0 553.5 L2171.0 553.5 L2172.0 553.5 L2173.0 553.5 L2174.0 553.5 L2175.0 553.5 L2176.0 553.5 L2177.0 553.5 L2178.0 553.5 L2179.0 553.5 L2180.0 553.5 L2181.0 553.5 L2182.0 553.5 L2183.0 553.5 L2184.0 553.5 L2185.0 553.5 L2186.0 553.5 L2187.0 553.5 L2188.0 553.5 L2189.0 553.5 L2190.0 553.5 L2191.0 553.5 L2192.0 553.5 L2193.0 553.5 L2194.0 553.5 L2195.0 553.5 L2196.0 553.5 L2197.0 553.5 L2198.0 553.5 L2199.0 553.5 L2200.0 553.5 L2201.0 553.5 L2202.0 553.5 L2203.0 553.5 L2204.0 553.5 L2205.0 553.5 L2206.0 553.5 L2207.0 553.5 L2208.0 553.5 L2209.0 553.5 L2210.0 553.5 L2211.0 553.5 L2212.0 553.5 L2213.0 553.5 L2214.0 553.5 L2215.0 553.5 L2216.0 553.5 L2217.0 553.5 L2218.0 553.5 L2219.0 553.5 L2220.0 553.5 L2221.0 553.5 L2222.0 553.5 L2223.0 553.5 L2224.0 553.5 L2225.0 553.5 L2226.0 553.5 L2227.0 553.5 L2228.0 553.5 L2229.0 553.5 L2230.0 553.5 L2231.0 553.5 L2232.0 553.5 L2233.0 553.5 L2234.0 553.5 L2235.0 553.5 L2236.0 553.5 L2237.0 553.5 L2238.0 553.5 L2239.0 553.5 L2240.0 553.5 L2241.0 553.5 L2242.0 553.5 L2243.0 553.5 L2244.0 553.5 L2245.0 553.5 L2246.0 553.5 L2247.0 553.5 L2248.0 553.5 L2249.0 553.5 L2250.0 553.5 L2251.0 553.5 L2252.0 553.5 L2253.0 553.5" stroke="#ff0000" stroke-width="7.6"/>
<path d="M1000.0 511.5 L1001.0 511.0 L1002.0 510.5 L1003.0 509.9 L1004.0 509.4 L1005.0 509.0 L1006.0 508.5 L1007.0 508.0 L1008.0 507.5 L1009.0 507.0 L1010.0 506.5 L1011.0 506.0 L1012.0 505.5 L1013.0 505.0 L1014.0 504.5 L1015.0 504.0 L1016.0 503.5 L1017.0 503.0 L1018.0 502.5 L1019.0 502.0 L1020.0 501.5 L1021.0 500.9 L1022.0 500.4 L1023.0 499.8 L1024.0 499.2 L1025.0 498.7 L1026.0 498.1 L1027.0 497.4 L1028.0 496.8 L1029.0 496.1 L1030.0 495.4 L1031.0 494.7 L1032.0 494.0 L1033.0 493.2 L1034.0 492.4 L1035.0 491.5 L1036.0 490.7 L1037.0 489.9 L1038.0 489.0 L1039.0 488.1 L1040.0 487.2 L1041.0 486.3 L1042.0 485.3 L1043.0 484.3 L1044.0 483.2 L1045.0 482.1 L1046.0 480.9 L1047.0 479.6 L1048.0 478.3 L1049.0 476.9 L1050.0 475.3 L1051.0 473.5 L1052.0 471.7 L1053.0 469.8 L1054.0 467.8 L1055.0 465.9 L1056.0 463.9 L1057.0 462.1 L1058.0 460.2 L1059.0 458.3 L1060.0 456.4 L1061.0 454.4 L1062.0 452.4 L1063.0 450.4 L1064.0 448.3 L1065.0 446.1 L1066.0 443.8 L1067.0 441.4 L1068.0 438.9 L1069.0 436.5 L1070.0 434.0 L1071.0 431.7 L1072.0 429.3 L1073.0 426.9 L1074.0 424.5 L1075.0 421.9 L1076.0 419.2 L1077.0 416.5 L1078.0 414.0 L1079.0 411.7 L1080.0 409.4 L1081.0 407.2 L1082.0 405.0 L1083.0 402.7 L1084.0 400.4 L1085.0 398.1 L1086.0 396.0 L1087.0 394.1 L1088.0 392.3 L1089.0 390.6 L1090.0 388.7 L1091.0 386.8 L1092.0 384.8 L1093.0 383.0 L1094.0 381.4 L1095.0 379.9 L1096.0 378.6 L1097.0 377.5 L1098.0 376.6 L1099.0 375.7 L1100.0 375.0 L1101.0 374.4 L1102.0 374.2 L1103.0 374.3 L1104.0 374.5 L1105.0 374.9 L1106.0 375.4 L1107.0 376.0 L1108.0 376.8 L1109.0 377.9 L1110.0 379.3 L1111.0 380.8 L1112.0 382.4 L1113.0 384.0 L1114.0 385.9 L1115.0 388.0 L1116.0 390.3 L1117.0 392.6 L1118.0 395.0 L1119.0 397.5 L1120.0 400.1 L1121.0 402.9 L1122.0 405.8 L1123.0 408.8 L1124.0 412.0 L1125.0 415.4 L1126.0 419.1 L1127.0 423.0 L1128.0 427.0 L1129.0 431.2 L1130.0 435.6 L1131.0 440.2 L1132.0 444.8 L1133.0 449.4 L1134.0 454.0 L1135.0 458.7 L1136.0 463.5 L1137.0 468.5 L1138.0 473.9 L1139.0 479.4 L1140.0 484.6 L1141.0 489.3 L1142.0 493.6 L1143.0 497.8 L1144.0 501.9 L1145.0 506.0 L1146.0 510.2 L1147.0 514.5 L1148.0 518.7 L1149.0 522.8 L1150.0 526.7 L1151.0 530.4 L1152.0 534.1 L1153.0 538.1 L1154.0 542.6 L1155.0 547.4 L1156.0 552.5 L1157.0 557.9 L1158.0 563.3 L1159.0 569.0 L1160.0 575.0 L1161.0 581.1 L1162.0 586.8 L1163.0 592.3 L1164.0 597.9 L1165.0 604.0 L1166.0 610.3 L1167.0 616.8 L1168.0 623.8 L1169.0 631.1 L1170.0 639.6 L1171.0 648.6 L1172.0 657.2 L1173.0 664.7 L1174.0 672.0 L1175.0 678.8 L1176.0 685.2 L1177.0 690.9 L1178.0 695.6 L1179.0 699.9 L1180.0 705.0 L1181.0 712.0 L1182.0 719.7 L1183.0 726.0 L1184.0 730.6 L1185.0 734.7 L1186.0 738.6 L1187.0 742.1 L1188.0 745.6 L1189.0 749.0 L1190.0 752.4 L1191.0 755.9 L1192.0 759.3 L1193.0 762.8 L1194.0 766.1 L1195.0 769.5 L1196.0 772.8 L1197.0 776.0 L1198.0 779.2 L1199.0 782.4 L1200.0 785.6" stroke="#ff0000" stroke-width="8.8" stroke-linecap="round"/>
<path d="M1195.0 769.5 L1196.0 772.8 L1197.0 776.0 L1198.0 779.2 L1199.0 782.4 L1200.0 785.6 L1201.0 788.7 L1202.0 791.7 L1203.0 794.6 L1204.0 797.4 L1205.0 800.1 L1206.0 802.7 L1207.0 805.2 L1208.0 807.6 L1209.0 809.9 L1210.0 812.1 L1211.0 814.3 L1212.0 816.5 L1213.0 818.6 L1214.0 820.5 L1215.0 822.4 L1216.0 824.1 L1217.0 825.8 L1218.0 827.3 L1219.0 828.5 L1220.0 829.4 L1221.0 830.1 L1222.0 830.7 L1223.0 831.0 L1224.0 830.9 L1225.0 830.6 L1226.0 830.0 L1227.0 829.2 L1228.0 828.4 L1229.0 827.5 L1230.0 826.6 L1231.0 825.5 L1232.0 824.2 L1233.0 822.8 L1234.0 821.3 L1235.0 819.7 L1236.0 817.9 L1237.0 815.9 L1238.0 813.7 L1239.0 811.3 L1240.0 808.9 L1241.0 806.4 L1242.0 804.0 L1243.0 801.5 L1244.0 799.0 L1245.0 796.4 L1246.0 793.8 L1247.0 791.1 L1248.0 788.5 L1249.0 786.0 L1250.0 783.5 L1251.0 781.1 L1252.0 778.6 L1253.0 776.2 L1254.0 773.8 L1255.0 771.4 L1256.0 769.0 L1257.0 766.6 L1258.0 764.2 L1259.0 761.8 L1260.0 759.4 L1261.0 757.1 L1262.0 754.7 L1263.0 752.4 L1264.0 750.1 L1265.0 747.8 L1266.0 745.5 L1267.0 743.2 L1268.0 741.0 L1269.0 738.7 L1270.0 736.5 L1271.0 734.3 L1272.0 732.0 L1273.0 729.7 L1274.0 727.5 L1275.0 725.4 L1276.0 723.3 L1277.0 721.5 L1278.0 719.8 L1279.0 718.1 L1280.0 716.5 L1281.0 715.0 L1282.0 713.5 L1283.0 712.1 L1284.0 710.7 L1285.0 709.4 L1286.0 708.1 L1287.0 706.9 L1288.0 705.7 L1289.0 704.5 L1290.0 703.4 L1291.0 702.3 L1292.0 701.2 L1293.0 700.1 L1294.0 699.0 L1295.0 698.0 L1296.0 696.9 L1297.0 695.9 L1298.0 694.8 L1299.0 693.8 L1300.0 692.8 L1301.0 691.7 L1302.0 690.7 L1303.0 689.7 L1304.0 688.7 L1305.0 687.8 L1306.0 686.9 L1307.0 686.1 L1308.0 685.2 L1309.0 684.4 L1310.0 683.6 L1311.0 682.8 L1312.0 682.1 L1313.0 681.3 L1314.0 680.7 L1315.0 680.1 L1316.0 679.5 L1317.0 679.0 L1318.0 678.5 L1319.0 678.0 L1320.0 677.6 L1321.0 677.1 L1322.0 676.7 L1323.0 676.3 L1324.0 675.9 L1325.0 675.6 L1326.0 675.3 L1327.0 675.1 L1328.0 674.9 L1329.0 674.7 L1330.0 674.6 L1331.0 674.4 L1332.0 674.2 L1333.0 674.1 L1334.0 674.0 L1335.0 673.9 L1336.0 673.8 L1337.0 673.7 L1338.0 673.7 L1339.0 673.7 L1340.0 673.7 L1341.0 673.8 L1342.0 673.9 L1343.0 674.0 L1344.0 674.2 L1345.0 674.3 L1346.0 674.5 L1347.0 674.7 L1348.0 674.8 L1349.0 675.0 L1350.0 675.2 L1351.0 675.4 L1352.0 675.6 L1353.0 675.9 L1354.0 676.2 L1355.0 676.5 L1356.0 676.9 L1357.0 677.3 L1358.0 677.7 L1359.0 678.2 L1360.0 678.6 L1361.0 679.1 L1362.0 679.6 L1363.0 680.3 L1364.0 681.1 L1365.0 682.0 L1366.0 683.0 L1367.0 684.1 L1368.0 685.2 L1369.0 686.4 L1370.0 687.5 L1371.0 688.7 L1372.0 689.9 L1373.0 691.2 L1374.0 692.6 L1375.0 694.0 L1376.0 695.5 L1377.0 697.1 L1378.0 698.7 L1379.0 700.3 L1380.0 702.1 L1381.0 704.0 L1382.0 706.0 L1383.0 708.1 L1384.0 710.2 L1385.0 712.4 L1386.0 714.6 L1387.0 716.9 L1388.0 719.3 L1389.0 721.8 L1390.0 724.3 L1391.0 726.8 L1392.0 729.3 L1393.0 731.7 L1394.0 734.2 L1395.0 736.6 L1396.0 739.1 L1397.0 741.6 L1398.0 744.1 L1399.0 746.7 L1400.0 749.3 L1401.0 752.1 L1402.0 754.9 L1403.0 757.7 L1404.0 760.5 L1405.0 763.2 L1406.0 765.8 L1407.0 768.2 L1408.0 770.5 L1409.0 772.7 L1410.0 774.8 L1411.0 776.9 L1412.0 779.0 L1413.0 781.0 L1414.0 783.0 L1415.0 785.0 L1416.0 786.9 L1417.0 788.9 L1418.0 790.8 L1419.0 792.7 L1420.0 794.5 L1421.0 796.3 L1422.0 798.1 L1423.0 799.9 L1424.0 801.6 L1425.0 803.3 L1426.0 804.9 L1427.0 806.5 L1428.0 808.1 L1429.0 809.6 L1430.0 811.0 L1431.0 812.4 L1432.0 813.7 L1433.0 815.1 L1434.0 816.3 L1435.0 817.5 L1436.0 818.6 L1437.0 819.6 L1438.0 820.5 L1439.0 821.4 L1440.0 822.2 L1441.0 823.0 L1442.0 823.8 L1443.0 824.4 L1444.0 825.0 L1445.0 825.5 L1446.0 825.9 L1447.0 826.3 L1448.0 826.7 L1449.0 827.1 L1450.0 827.4 L1451.0 827.6 L1452.0 827.7 L1453.0 827.7 L1454.0 827.6 L1455.0 827.4 L1456.0 827.1 L1457.0 826.8 L1458.0 826.4 L1459.0 826.0 L1460.0 825.6 L1461.0 825.1 L1462.0 824.7 L1463.0 824.2 L1464.0 823.8 L1465.0 823.3 L1466.0 822.7 L1467.0 822.1 L1468.0 821.5 L1469.0 820.8 L1470.0 820.1 L1471.0 819.3 L1472.0 818.5 L1473.0 817.7 L1474.0 816.8 L1475.0 815.9 L1476.0 814.8 L1477.0 813.7 L1478.0 812.5 L1479.0 811.3 L1480.0 810.0 L1481.0 808.7 L1482.0 807.4 L1483.0 806.1 L1484.0 804.9 L1485.0 803.6 L1486.0 802.2 L1487.0 800.9 L1488.0 799.5 L1489.0 798.1 L1490.0 796.7 L1491.0 795.3 L1492.0 793.9 L1493.0 792.5 L1494.0 791.1 L1495.0 789.7 L1496.0 788.2 L1497.0 786.8 L1498.0 785.3 L1499.0 783.8 L1500.0 782.4 L1501.0 780.8 L1502.0 779.3 L1503.0 777.8 L1504.0 776.2 L1505.0 774.6 L1506.0 773.0 L1507.0 771.4 L1508.0 769.7 L1509.0 768.1 L1510.0 766.3 L1511.0 764.6 L1512.0 762.8 L1513.0 760.9 L1514.0 759.0 L1515.0 757.0" stroke="#ff0000" stroke-width="10.2" stroke-linecap="round"/>
<path d="M1510.0 766.3 L1511.0 764.6 L1512.0 762.8 L1513.0 760.9 L1514.0 759.0 L1515.0 757.0 L1516.0 754.9 L1517.0 752.8 L1518.0 750.6 L1519.0 748.4 L1520.0 746.3 L1521.0 744.1 L1522.0 741.9 L1523.0 739.7 L1524.0 737.5 L1525.0 735.2 L1526.0 732.9 L1527.0 730.7 L1528.0 728.5 L1529.0 726.4 L1530.0 724.3 L1531.0 722.4 L1532.0 720.6 L1533.0 719.0 L1534.0 717.4 L1535.0 715.7 L1536.0 713.9 L1537.0 712.0 L1538.0 709.9 L1539.0 707.6 L1540.0 705.1" stroke="#ff0000" stroke-width="8.8" stroke-linecap="round"/>
<path d="M422.0 553.0 L424.0 553.0 L426.0 553.0 L428.0 553.0 L430.0 553.0 L432.0 553.0 L434.0 553.0 L436.0 553.0 L438.0 553.0 L440.0 553.0 L442.0 553.0 L444.0 553.0 L446.0 553.0 L448.0 553.0 L450.0 553.0 L452.0 553.0 L454.0 553.0 L456.0 553.0 L458.0 553.0 L460.0 553.0 L462.0 553.0 L464.0 553.0 L466.0 553.0 L468.0 553.0 L470.0 553.0 L472.0 553.0 L474.0 553.0 L476.0 553.0 L478.0 553.0 L480.0 553.0 L482.0 553.0 L484.0 553.0 L486.0 553.0 L488.0 553.0 L490.0 553.0 L492.0 553.0 L494.0 553.0 L496.0 553.0 L498.0 553.0 L500.0 553.0 L502.0 553.0 L504.0 553.0 L506.0 553.0 L508.0 553.0 L510.0 553.0 L512.0 553.0 L514.0 553.0 L516.0 553.0 L518.0 553.0 L520.0 553.0 L522.0 553.0 L524.0 553.0 L526.0 553.0 L528.0 553.0 L530.0 553.0 L532.0 553.0 L534.0 553.0 L536.0 553.0 L538.0 553.0 L540.0 553.0 L542.0 553.0 L544.0 553.0 L546.0 553.0 L548.0 553.0 L550.0 553.0 L552.0 553.0 L554.0 553.0 L556.0 553.0 L558.0 553.0 L560.0 553.0 L562.0 553.0 L564.0 553.0 L566.0 553.0 L568.0 553.0 L570.0 553.0 L572.0 553.0 L574.0 552.9 L576.0 552.9 L578.0 552.9 L580.0 552.9 L582.0 552.9 L584.0 552.9 L586.0 552.8 L588.0 552.8 L590.0 552.8 L592.0 552.7 L594.0 552.5 L596.0 552.3 L598.0 551.9 L600.0 551.5 L602.0 550.9 L604.0 550.0 L606.0 548.9 L608.0 547.7 L610.0 546.6 L612.0 545.7 L614.0 544.8 L616.0 544.0 L618.0 543.1 L620.0 542.3 L622.0 541.5 L624.0 540.7 L626.0 540.0 L628.0 539.2 L630.0 538.5 L632.0 537.7 L634.0 536.8 L636.0 535.9 L638.0 534.9 L640.0 533.9 L642.0 533.0 L644.0 532.1 L646.0 531.3 L648.0 530.5 L650.0 529.8 L652.0 529.1 L654.0 528.5 L656.0 527.9 L658.0 527.5 L660.0 527.2 L662.0 527.0 L664.0 526.9 L666.0 526.9 L668.0 527.1 L670.0 527.4 L672.0 527.7 L674.0 528.3 L676.0 529.0 L678.0 529.7 L680.0 530.4 L682.0 531.2 L684.0 532.0 L686.0 532.8 L688.0 533.7 L690.0 534.7 L692.0 535.7 L694.0 536.7 L696.0 537.5 L698.0 538.3 L700.0 539.0 L702.0 539.7 L704.0 540.3 L706.0 541.0 L708.0 541.6 L710.0 542.1 L712.0 542.6 L714.0 543.0 L716.0 543.4 L718.0 543.7 L720.0 544.0 L722.0 544.3 L724.0 544.5 L726.0 544.7 L728.0 544.9 L730.0 545.0 L732.0 545.1 L734.0 545.2 L736.0 545.3 L738.0 545.4 L740.0 545.5 L742.0 545.6 L744.0 545.7 L746.0 545.9 L748.0 546.0 L750.0 546.2 L752.0 546.3 L754.0 546.5 L756.0 546.6 L758.0 546.8 L760.0 546.9 L762.0 547.1 L764.0 547.2 L766.0 547.4 L768.0 547.5 L770.0 547.7 L772.0 547.8 L774.0 548.0 L776.0 548.1 L778.0 548.3 L780.0 548.4 L782.0 548.5 L784.0 548.7 L786.0 548.8 L788.0 548.9 L790.0 549.0 L792.0 549.1 L794.0 549.2 L796.0 549.3 L798.0 549.3 L800.0 549.4 L802.0 549.5 L804.0 549.5 L806.0 549.6 L808.0 549.7 L810.0 549.8 L812.0 549.8 L814.0 549.9 L816.0 550.0 L818.0 550.1 L820.0 550.2 L822.0 550.2 L824.0 550.3 L826.0 550.4 L828.0 550.4 L830.0 550.5 L832.0 550.5 L834.0 550.6 L836.0 550.6 L838.0 550.6 L840.0 550.6 L842.0 550.6 L844.0 550.5 L846.0 550.5 L848.0 550.4 L850.0 550.4 L852.0 550.3 L854.0 550.2 L856.0 550.2 L858.0 550.1 L860.0 550.0 L862.0 549.9 L864.0 549.8 L866.0 549.6 L868.0 549.5 L870.0 549.3 L872.0 549.2 L874.0 549.0 L876.0 548.8 L878.0 548.6 L880.0 548.4 L882.0 548.3 L884.0 548.1 L886.0 547.9 L888.0 547.7 L890.0 547.5 L892.0 547.3 L894.0 547.1 L896.0 546.9 L898.0 546.7 L900.0 546.6 L902.0 546.4 L904.0 546.3 L906.0 546.3 L908.0 546.2 L910.0 546.2 L912.0 546.1 L914.0 546.1 L916.0 546.1 L918.0 546.0 L920.0 546.0 L922.0 546.0 L924.0 546.0 L926.0 545.9 L928.0 545.9 L930.0 545.9 L932.0 545.8 L934.0 545.8 L936.0 545.7 L938.0 545.7 L940.0 545.6 L942.0 545.6 L944.0 545.5 L946.0 545.5 L948.0 545.5 L950.0 545.5 L952.0 545.5 L954.0 545.5 L956.0 545.5 L958.0 545.5 L960.0 545.5 L962.0 545.6 L964.0 545.6 L966.0 545.6 L968.0 545.6 L970.0 545.6 L972.0 545.6 L974.0 545.6 L976.0 545.7 L978.0 545.7 L980.0 545.7 L982.0 545.7 L984.0 545.7 L986.0 545.7 L988.0 545.7 L990.0 545.7 L992.0 545.8 L994.0 545.8 L996.0 545.8 L998.0 545.8 L1000.0 545.8 L1002.0 545.8 L1004.0 545.8 L1006.0 545.8 L1008.0 545.8 L1010.0 545.8 L1012.0 545.8 L1014.0 545.8 L1016.0 545.9 L1018.0 545.9 L1020.0 545.9 L1022.0 545.9 L1024.0 545.9 L1026.0 545.9 L1028.0 545.9 L1030.0 545.9 L1032.0 545.9 L1034.0 545.9 L1036.0 545.9 L1038.0 545.9 L1040.0 545.9 L1042.0 545.9 L1044.0 545.9 L1046.0 546.0 L1048.0 546.0 L1050.0 546.0 L1052.0 546.0 L1054.0 546.0 L1056.0 546.0 L1058.0 546.0 L1060.0 546.0 L1062.0 546.0 L1064.0 546.0 L1066.0 546.0 L1068.0 546.0 L1070.0 546.0 L1072.0 546.0 L1074.0 546.1 L1076.0 546.1 L1078.0 546.1 L1080.0 546.1 L1082.0 546.1 L1084.0 546.1 L1086.0 546.1 L1088.0 546.1 L1090.0 546.1 L1092.0 546.1 L1094.0 546.1 L1096.0 546.1 L1098.0 546.2 L1100.0 546.2 L1102.0 546.2 L1104.0 546.2 L1106.0 546.2 L1108.0 546.2 L1110.0 546.4 L1112.0 546.7 L1114.0 547.1 L1116.0 547.5 L1118.0 547.9 L1120.0 548.3 L1122.0 548.7 L1124.0 549.1 L1126.0 549.5 L1128.0 549.9 L1130.0 550.4 L1132.0 550.8 L1134.0 551.3 L1136.0 551.9 L1138.0 552.5 L1140.0 553.1 L1142.0 553.7 L1144.0 554.4 L1146.0 555.1 L1148.0 555.8 L1150.0 556.5 L1152.0 557.2 L1154.0 557.9 L1156.0 558.6 L1158.0 559.3 L1160.0 560.1 L1162.0 560.8 L1164.0 561.5 L1166.0 562.1 L1168.0 562.7 L1170.0 563.3 L1172.0 563.8 L1174.0 564.4 L1176.0 564.9 L1178.0 565.3 L1180.0 565.7 L1182.0 566.0 L1184.0 566.3 L1186.0 566.5 L1188.0 566.7 L1190.0 566.9 L1192.0 567.1 L1194.0 567.3 L1196.0 567.5 L1198.0 567.6 L1200.0 567.7 L1202.0 567.8 L1204.0 568.0 L1206.0 568.1 L1208.0 568.2 L1210.0 568.3 L1212.0 568.4 L1214.0 568.5 L1216.0 568.6 L1218.0 568.7 L1220.0 568.7 L1222.0 568.7 L1224.0 568.8 L1226.0 568.8 L1228.0 568.8 L1230.0 568.8 L1232.0 568.9 L1234.0 568.9 L1236.0 568.9 L1238.0 568.9 L1240.0 568.9 L1242.0 569.0 L1244.0 569.0 L1246.0 569.0 L1248.0 569.0 L1250.0 569.0 L1252.0 569.0 L1254.0 569.0 L1256.0 569.0 L1258.0 569.0 L1260.0 569.0 L1262.0 569.0 L1264.0 569.0 L1266.0 569.0 L1268.0 569.0 L1270.0 569.0 L1272.0 569.0 L1274.0 569.0 L1276.0 569.0 L1278.0 569.0 L1280.0 569.0 L1282.0 569.0 L1284.0 569.0 L1286.0 569.0 L1288.0 569.0 L1290.0 569.0 L1292.0 569.0 L1294.0 569.0 L1296.0 569.0 L1298.0 569.0 L1300.0 569.0 L1302.0 569.0 L1304.0 569.0 L1306.0 569.0 L1308.0 568.9 L1310.0 568.9 L1312.0 568.9 L1314.0 568.9 L1316.0 568.8 L1318.0 568.8 L1320.0 568.8 L1322.0 568.8 L1324.0 568.8 L1326.0 568.7 L1328.0 568.7 L1330.0 568.7 L1332.0 568.7 L1334.0 568.7 L1336.0 568.6 L1338.0 568.6 L1340.0 568.6 L1342.0 568.6 L1344.0 568.6 L1346.0 568.5 L1348.0 568.5 L1350.0 568.5 L1352.0 568.5 L1354.0 568.5 L1356.0 568.4 L1358.0 568.4 L1360.0 568.4 L1362.0 568.4 L1364.0 568.4 L1366.0 568.3 L1368.0 568.3 L1370.0 568.3 L1372.0 568.3 L1374.0 568.3 L1376.0 568.2 L1378.0 568.2 L1380.0 568.2 L1382.0 568.2 L1384.0 568.2 L1386.0 568.1 L1388.0 568.1 L1390.0 568.1 L1392.0 568.1 L1394.0 568.1 L1396.0 568.0 L1398.0 568.0 L1400.0 568.0 L1402.0 568.0 L1404.0 567.9 L1406.0 567.9 L1408.0 567.9 L1410.0 567.8 L1412.0 567.8 L1414.0 567.7 L1416.0 567.7 L1418.0 567.6 L1420.0 567.6 L1422.0 567.6 L1424.0 567.5 L1426.0 567.5 L1428.0 567.4 L1430.0 567.4 L1432.0 567.4 L1434.0 567.3 L1436.0 567.3 L1438.0 567.2 L1440.0 567.2 L1442.0 567.2 L1444.0 567.1 L1446.0 567.1 L1448.0 567.0 L1450.0 567.0 L1452.0 567.0 L1454.0 566.9 L1456.0 566.9 L1458.0 566.8 L1460.0 566.8 L1462.0 566.7 L1464.0 566.7 L1466.0 566.6 L1468.0 566.6 L1470.0 566.5 L1472.0 566.5 L1474.0 566.5 L1476.0 566.4 L1478.0 566.4 L1480.0 566.4 L1482.0 566.4 L1484.0 566.4 L1486.0 566.4 L1488.0 566.4 L1490.0 566.3 L1492.0 566.3 L1494.0 566.3 L1496.0 566.3 L1498.0 566.3 L1500.0 566.3 L1502.0 566.3 L1504.0 566.3 L1506.0 566.3 L1508.0 566.3 L1510.0 566.3 L1512.0 566.3 L1514.0 566.2 L1516.0 566.2 L1518.0 566.2 L1520.0 566.2 L1522.0 566.2 L1524.0 566.2 L1526.0 566.1 L1528.0 566.0 L1530.0 565.8 L1532.0 565.7 L1534.0 565.5 L1536.0 565.3 L1538.0 565.1 L1540.0 564.9 L1542.0 564.8 L1544.0 564.6 L1546.0 564.4 L1548.0 564.2 L1550.0 564.1 L1552.0 563.9 L1554.0 563.7 L1556.0 563.5 L1558.0 563.2 L1560.0 563.0 L1562.0 562.9 L1564.0 562.7 L1566.0 562.5 L1568.0 562.3 L1570.0 562.2 L1572.0 562.1 L1574.0 561.9 L1576.0 561.9 L1578.0 561.8 L1580.0 561.7 L1582.0 561.6 L1584.0 561.5 L1586.0 561.4 L1588.0 561.4 L1590.0 561.3 L1592.0 561.2 L1594.0 561.2 L1596.0 561.1 L1598.0 561.1 L1600.0 561.0 L1602.0 560.9 L1604.0 560.9 L1606.0 560.8 L1608.0 560.8 L1610.0 560.7 L1612.0 560.6 L1614.0 560.6 L1616.0 560.5 L1618.0 560.5 L1620.0 560.4 L1622.0 560.3 L1624.0 560.3 L1626.0 560.2 L1628.0 560.2 L1630.0 560.1 L1632.0 560.0 L1634.0 560.0 L1636.0 559.9 L1638.0 559.8 L1640.0 559.8 L1642.0 559.7 L1644.0 559.7 L1646.0 559.6 L1648.0 559.6 L1650.0 559.5 L1652.0 559.4 L1654.0 559.4 L1656.0 559.4 L1658.0 559.3 L1660.0 559.3 L1662.0 559.2 L1664.0 559.2 L1666.0 559.1 L1668.0 559.1 L1670.0 559.0 L1672.0 559.0 L1674.0 559.0 L1676.0 558.9 L1678.0 558.9 L1680.0 558.8 L1682.0 558.8 L1684.0 558.7 L1686.0 558.7 L1688.0 558.6 L1690.0 558.6 L1692.0 558.5 L1694.0 558.5 L1696.0 558.5 L1698.0 558.4 L1700.0 558.4 L1702.0 558.3 L1704.0 558.2 L1706.0 558.2 L1708.0 558.1 L1710.0 558.1 L1712.0 558.1 L1714.0 558.0 L1716.0 558.0 L1718.0 558.0 L1720.0 558.0 L1722.0 557.9 L1724.0 557.9 L1726.0 557.9 L1728.0 557.9 L1730.0 557.9 L1732.0 557.9 L1734.0 557.9 L1736.0 557.8 L1738.0 557.8 L1740.0 557.8 L1742.0 557.8 L1744.0 557.8 L1746.0 557.8 L1748.0 557.7 L1750.0 557.7 L1752.0 557.7 L1754.0 557.7 L1756.0 557.7 L1758.0 557.7 L1760.0 557.6 L1762.0 557.6 L1764.0 557.6 L1766.0 557.6 L1768.0 557.6 L1770.0 557.6 L1772.0 557.5 L1774.0 557.5 L1776.0 557.5 L1778.0 557.5 L1780.0 557.5 L1782.0 557.5 L1784.0 557.4 L1786.0 557.4 L1788.0 557.4 L1790.0 557.4 L1792.0 557.4 L1794.0 557.4 L1796.0 557.3 L1798.0 557.3 L1800.0 557.3 L1802.0 557.3 L1804.0 557.3 L1806.0 557.3 L1808.0 557.2 L1810.0 557.2 L1812.0 557.2 L1814.0 557.2 L1816.0 557.2 L1818.0 557.2 L1820.0 557.2 L1822.0 557.1 L1824.0 557.1 L1826.0 557.1 L1828.0 557.1 L1830.0 557.1 L1832.0 557.1 L1834.0 557.0 L1836.0 557.0 L1838.0 557.0 L1840.0 557.0 L1842.0 557.0 L1844.0 557.0 L1846.0 556.9 L1848.0 556.9 L1850.0 556.9 L1852.0 556.9 L1854.0 556.9 L1856.0 556.9 L1858.0 556.8 L1860.0 556.8 L1862.0 556.8 L1864.0 556.8 L1866.0 556.8 L1868.0 556.8 L1870.0 556.7 L1872.0 556.7 L1874.0 556.7 L1876.0 556.7 L1878.0 556.7 L1880.0 556.7 L1882.0 556.6 L1884.0 556.6 L1886.0 556.6 L1888.0 556.6 L1890.0 556.6 L1892.0 556.5 L1894.0 556.5 L1896.0 556.5 L1898.0 556.5 L1900.0 556.5 L1902.0 556.5 L1904.0 556.5 L1906.0 556.5 L1908.0 556.5 L1910.0 556.5 L1912.0 556.5 L1914.0 556.5 L1916.0 556.5 L1918.0 556.5 L1920.0 556.5 L1922.0 556.5 L1924.0 556.5 L1926.0 556.5 L1928.0 556.5 L1930.0 556.5 L1932.0 556.5 L1934.0 556.5 L1936.0 556.5 L1938.0 556.5 L1940.0 556.5 L1942.0 556.5 L1944.0 556.5 L1946.0 556.5 L1948.0 556.5 L1950.0 556.5 L1952.0 556.5 L1954.0 556.5 L1956.0 556.5 L1958.0 556.5 L1960.0 556.5 L1962.0 556.5 L1964.0 556.5 L1966.0 556.5 L1968.0 556.5 L1970.0 556.5 L1972.0 556.5 L1974.0 556.5 L1976.0 556.5 L1978.0 556.5 L1980.0 556.5 L1982.0 556.5 L1984.0 556.5 L1986.0 556.5 L1988.0 556.5 L1990.0 556.5 L1992.0 556.5 L1994.0 556.5 L1996.0 556.5 L1998.0 556.5 L2000.0 556.5 L2002.0 556.5 L2004.0 556.5 L2006.0 556.5 L2008.0 556.5 L2010.0 556.5 L2012.0 556.5 L2014.0 556.5 L2016.0 556.5 L2018.0 556.5 L2020.0 556.5 L2022.0 556.5 L2024.0 556.5 L2026.0 556.5 L2028.0 556.5 L2030.0 556.5 L2032.0 556.5 L2034.0 556.5 L2036.0 556.5 L2038.0 556.5 L2040.0 556.5 L2042.0 556.5 L2044.0 556.5 L2046.0 556.5 L2048.0 556.5 L2050.0 556.5 L2052.0 556.5 L2054.0 556.5 L2056.0 556.5 L2058.0 556.5 L2060.0 556.5 L2062.0 556.5 L2064.0 556.5 L2066.0 556.5 L2068.0 556.5 L2070.0 556.5 L2072.0 556.5 L2074.0 556.5 L2076.0 556.5 L2078.0 556.5 L2080.0 556.5 L2082.0 556.5 L2084.0 556.5 L2086.0 556.5 L2088.0 556.5 L2090.0 556.5 L2092.0 556.5 L2094.0 556.5 L2096.0 556.5 L2098.0 556.5 L2100.0 556.5 L2102.0 556.5 L2104.0 556.5 L2106.0 556.5 L2108.0 556.5 L2110.0 556.5 L2112.0 556.5 L2114.0 556.5 L2116.0 556.5 L2118.0 556.5 L2120.0 556.5 L2122.0 556.5 L2124.0 556.5 L2126.0 556.5 L2128.0 556.5 L2130.0 556.5 L2132.0 556.5 L2134.0 556.5 L2136.0 556.5 L2138.0 556.5 L2140.0 556.5 L2142.0 556.5 L2144.0 556.5 L2146.0 556.5 L2148.0 556.5 L2150.0 556.5 L2152.0 556.5 L2154.0 556.5 L2156.0 556.5 L2158.0 556.5 L2160.0 556.5 L2162.0 556.5 L2164.0 556.5 L2166.0 556.5 L2168.0 556.5 L2170.0 556.5 L2172.0 556.5 L2174.0 556.5 L2176.0 556.5 L2178.0 556.5 L2180.0 556.5 L2182.0 556.5 L2184.0 556.5 L2186.0 556.5 L2188.0 556.5 L2190.0 556.5 L2192.0 556.5 L2194.0 556.5 L2196.0 556.5 L2198.0 556.5 L2200.0 556.5 L2202.0 556.5 L2204.0 556.5 L2206.0 556.5 L2208.0 556.5 L2210.0 556.5 L2212.0 556.5 L2214.0 556.5 L2216.0 556.5 L2218.0 556.5 L2220.0 556.5 L2222.0 556.5 L2224.0 556.5 L2226.0 556.5 L2228.0 556.5 L2230.0 556.5 L2232.0 556.5 L2234.0 556.5 L2236.0 556.5 L2238.0 556.5 L2240.0 556.5 L2242.0 556.5 L2244.0 556.5 L2246.0 556.5 L2248.0 556.5 L2250.0 556.5 L2252.0 556.5" stroke="#ff8000" stroke-width="6.9"/>
<path d="M422.0 553.0 L423.0 553.0 L424.0 553.0 L425.0 553.0 L426.0 553.0 L427.0 553.0 L428.0 553.0 L429.0 553.0 L430.0 553.0 L431.0 553.0 L432.0 553.0 L433.0 553.0 L434.0 553.1 L435.0 553.1 L436.0 553.1 L437.0 553.1 L438.0 553.1 L439.0 553.1 L440.0 553.1 L441.0 553.1 L442.0 553.1 L443.0 553.1 L444.0 553.1 L445.0 553.1 L446.0 553.1 L447.0 553.1 L448.0 553.1 L449.0 553.1 L450.0 553.1 L451.0 553.1 L452.0 553.1 L453.0 553.1 L454.0 553.1 L455.0 553.1 L456.0 553.1 L457.0 553.1 L458.0 553.2 L459.0 553.2 L460.0 553.2 L461.0 553.2 L462.0 553.2 L463.0 553.2 L464.0 553.2 L465.0 553.2 L466.0 553.2 L467.0 553.2 L468.0 553.2 L469.0 553.2 L470.0 553.2 L471.0 553.2 L472.0 553.2 L473.0 553.2 L474.0 553.2 L475.0 553.2 L476.0 553.2 L477.0 553.2 L478.0 553.2 L479.0 553.2 L480.0 553.2 L481.0 553.2 L482.0 553.3 L483.0 553.3 L484.0 553.3 L485.0 553.3 L486.0 553.3 L487.0 553.3 L488.0 553.3 L489.0 553.3 L490.0 553.3 L491.0 553.3 L492.0 553.3 L493.0 553.3 L494.0 553.3 L495.0 553.3 L496.0 553.3 L497.0 553.3 L498.0 553.3 L499.0 553.3 L500.0 553.3 L501.0 553.3 L502.0 553.3 L503.0 553.3 L504.0 553.3 L505.0 553.4 L506.0 553.4 L507.0 553.4 L508.0 553.4 L509.0 553.4 L510.0 553.4 L511.0 553.4 L512.0 553.4 L513.0 553.4 L514.0 553.4 L515.0 553.4 L516.0 553.4 L517.0 553.4 L518.0 553.4 L519.0 553.4 L520.0 553.4 L521.0 553.4 L522.0 553.4 L523.0 553.4 L524.0 553.4 L525.0 553.4 L526.0 553.4 L527.0 553.4 L528.0 553.4 L529.0 553.4 L530.0 553.5 L531.0 553.5 L532.0 553.5 L533.0 553.5 L534.0 553.5 L535.0 553.5 L536.0 553.5 L537.0 553.5 L538.0 553.5 L539.0 553.5 L540.0 553.5 L541.0 553.5 L542.0 553.5 L543.0 553.6 L544.0 553.6 L545.0 553.6 L546.0 553.7 L547.0 553.7 L548.0 553.8 L549.0 553.9 L550.0 553.9 L551.0 554.0 L552.0 554.1 L553.0 554.1 L554.0 554.2 L555.0 554.2 L556.0 554.3 L557.0 554.4 L558.0 554.4 L559.0 554.5 L560.0 554.5 L561.0 554.5 L562.0 554.6 L563.0 554.6 L564.0 554.6 L565.0 554.6 L566.0 554.7 L567.0 554.7 L568.0 554.7 L569.0 554.7 L570.0 554.7 L571.0 554.7 L572.0 554.7 L573.0 554.7 L574.0 554.7 L575.0 554.7 L576.0 554.7 L577.0 554.7 L578.0 554.7 L579.0 554.7 L580.0 554.6 L581.0 554.6 L582.0 554.6 L583.0 554.6 L584.0 554.6 L585.0 554.6 L586.0 554.6 L587.0 554.5 L588.0 554.5 L589.0 554.5 L590.0 554.5 L591.0 554.5 L592.0 554.4 L593.0 554.3 L594.0 554.2 L595.0 554.0 L596.0 553.8 L597.0 553.6 L598.0 553.4 L599.0 553.2 L600.0 553.0 L601.0 552.7 L602.0 552.3 L603.0 551.7 L604.0 551.1 L605.0 550.4 L606.0 549.7 L607.0 548.9 L608.0 548.1 L609.0 547.1 L610.0 546.0 L611.0 545.0 L612.0 544.1 L613.0 543.1 L614.0 542.2 L615.0 541.2 L616.0 539.9 L617.0 538.3 L618.0 536.4 L619.0 534.2 L620.0 532.1 L621.0 530.0 L622.0 527.8 L623.0 525.7 L624.0 523.3 L625.0 520.7 L626.0 517.8 L627.0 514.5 L628.0 511.0 L629.0 507.4 L630.0 504.0 L631.0 500.7 L632.0 497.5 L633.0 494.3 L634.0 491.1 L635.0 487.8 L636.0 484.4 L637.0 480.8 L638.0 477.2 L639.0 473.6 L640.0 470.0 L641.0 466.4 L642.0 462.8 L643.0 459.2 L644.0 455.7 L645.0 452.4 L646.0 449.3 L647.0 446.3 L648.0 443.5 L649.0 441.0 L650.0 438.8 L651.0 436.7 L652.0 434.8 L653.0 433.5 L654.0 432.5 L655.0 431.5 L656.0 430.9 L657.0 430.6 L658.0 430.8 L659.0 431.5 L660.0 432.4 L661.0 433.5 L662.0 434.9 L663.0 436.9 L664.0 439.1 L665.0 441.5 L666.0 444.0 L667.0 446.8 L668.0 449.8 L669.0 452.8 L670.0 455.9 L671.0 459.1 L672.0 462.3 L673.0 465.7 L674.0 469.0 L675.0 472.4 L676.0 475.8 L677.0 479.3 L678.0 482.8 L679.0 486.1 L680.0 489.4 L681.0 492.6 L682.0 495.8 L683.0 498.9 L684.0 502.0 L685.0 505.0 L686.0 508.0 L687.0 511.0 L688.0 513.9 L689.0 516.7 L690.0 519.2 L691.0 521.6 L692.0 523.8 L693.0 525.7 L694.0 527.2 L695.0 528.7 L696.0 530.0 L697.0 531.1 L698.0 532.1 L699.0 533.0 L700.0 533.9 L701.0 534.7 L702.0 535.3 L703.0 536.0 L704.0 536.6 L705.0 537.1 L706.0 537.6 L707.0 538.0 L708.0 538.4 L709.0 538.7 L710.0 539.1 L711.0 539.3 L712.0 539.5 L713.0 539.7 L714.0 539.9 L715.0 540.1 L716.0 540.2 L717.0 540.3 L718.0 540.5 L719.0 540.6 L720.0 540.7 L721.0 540.8 L722.0 540.9 L723.0 541.0 L724.0 541.1 L725.0 541.2 L726.0 541.3 L727.0 541.3 L728.0 541.4 L729.0 541.5 L730.0 541.5 L731.0 541.6 L732.0 541.7 L733.0 541.7 L734.0 541.8 L735.0 541.8 L736.0 541.9 L737.0 541.9 L738.0 542.0 L739.0 542.0 L740.0 542.0 L741.0 542.1 L742.0 542.1 L743.0 542.2 L744.0 542.2 L745.0 542.2 L746.0 542.2 L747.0 542.3 L748.0 542.3 L749.0 542.3 L750.0 542.3 L751.0 542.4 L752.0 542.4 L753.0 542.4 L754.0 542.4 L755.0 542.4 L756.0 542.4 L757.0 542.4 L758.0 542.3 L759.0 542.3 L760.0 542.3 L761.0 542.3 L762.0 542.3 L763.0 542.2 L764.0 542.2 L765.0 542.1 L766.0 542.0 L767.0 541.9 L768.0 541.7 L769.0 541.6 L770.0 541.5 L771.0 541.3 L772.0 541.2 L773.0 541.0 L774.0 540.9 L775.0 540.7 L776.0 540.5 L777.0 540.3 L778.0 540.1 L779.0 539.9 L780.0 539.7 L781.0 539.5 L782.0 539.3 L783.0 539.1 L784.0 538.9 L785.0 538.8 L786.0 538.6 L787.0 538.4 L788.0 538.2 L789.0 538.1 L790.0 537.9 L791.0 537.7 L792.0 537.6 L793.0 537.4 L794.0 537.3 L795.0 537.2 L796.0 537.1 L797.0 536.9 L798.0 536.8 L799.0 536.7 L800.0 536.6 L801.0 536.6 L802.0 536.5 L803.0 536.4 L804.0 536.4 L805.0 536.4 L806.0 536.4 L807.0 536.4 L808.0 536.5 L809.0 536.6 L810.0 536.8 L811.0 536.9 L812.0 537.1 L813.0 537.3 L814.0 537.5 L815.0 537.7 L816.0 537.9 L817.0 538.2 L818.0 538.4 L819.0 538.7 L820.0 539.0 L821.0 539.3 L822.0 539.6 L823.0 539.8 L824.0 540.1 L825.0 540.4 L826.0 540.6 L827.0 540.9 L828.0 541.1 L829.0 541.4 L830.0 541.6 L831.0 541.8 L832.0 542.0 L833.0 542.2 L834.0 542.4 L835.0 542.5 L836.0 542.7 L837.0 542.8 L838.0 542.9 L839.0 543.0 L840.0 543.0 L841.0 543.0 L842.0 542.9 L843.0 542.7 L844.0 542.5 L845.0 542.3 L846.0 542.1 L847.0 541.8 L848.0 541.5 L849.0 541.1 L850.0 540.7 L851.0 540.2 L852.0 539.8 L853.0 539.4 L854.0 539.1 L855.0 538.7 L856.0 538.4 L857.0 538.1 L858.0 537.8 L859.0 537.5 L860.0 537.1 L861.0 536.8 L862.0 536.5 L863.0 536.2 L864.0 535.9 L865.0 535.6 L866.0 535.4 L867.0 535.1 L868.0 534.9 L869.0 534.7 L870.0 534.5 L871.0 534.4 L872.0 534.2 L873.0 534.1 L874.0 534.0 L875.0 533.9 L876.0 533.8 L877.0 533.8 L878.0 533.7 L879.0 533.7 L880.0 533.7 L881.0 533.8 L882.0 533.8 L883.0 534.0 L884.0 534.1 L885.0 534.3 L886.0 534.5 L887.0 534.7 L888.0 534.9 L889.0 535.1 L890.0 535.3 L891.0 535.5 L892.0 535.7 L893.0 536.0 L894.0 536.2 L895.0 536.5 L896.0 536.7 L897.0 536.9 L898.0 537.0 L899.0 537.2 L900.0 537.3 L901.0 537.4 L902.0 537.6 L903.0 537.7 L904.0 537.7 L905.0 537.8 L906.0 537.8 L907.0 537.9 L908.0 537.9 L909.0 537.9 L910.0 537.9 L911.0 537.9 L912.0 537.8 L913.0 537.8 L914.0 537.7 L915.0 537.5 L916.0 537.4 L917.0 537.2 L918.0 537.0 L919.0 536.7 L920.0 536.5 L921.0 536.3 L922.0 536.0 L923.0 535.7 L924.0 535.4 L925.0 535.1 L926.0 534.8 L927.0 534.5 L928.0 534.3 L929.0 534.0 L930.0 533.7 L931.0 533.5 L932.0 533.2 L933.0 533.0 L934.0 532.7 L935.0 532.4 L936.0 532.2 L937.0 531.9 L938.0 531.6 L939.0 531.4 L940.0 531.1 L941.0 530.8 L942.0 530.5 L943.0 530.2 L944.0 529.9 L945.0 529.6 L946.0 529.3 L947.0 529.0 L948.0 528.7 L949.0 528.4 L950.0 528.1 L951.0 527.8 L952.0 527.6 L953.0 527.3 L954.0 527.0 L955.0 526.8 L956.0 526.5 L957.0 526.2 L958.0 526.0 L959.0 525.7 L960.0 525.5 L961.0 525.2 L962.0 524.9 L963.0 524.7 L964.0 524.4 L965.0 524.1 L966.0 523.8 L967.0 523.5 L968.0 523.3 L969.0 523.0 L970.0 522.7 L971.0 522.5 L972.0 522.3 L973.0 522.1 L974.0 521.9 L975.0 521.7 L976.0 521.6 L977.0 521.4 L978.0 521.2 L979.0 521.1 L980.0 520.9 L981.0 520.8 L982.0 520.6 L983.0 520.5 L984.0 520.4 L985.0 520.2 L986.0 520.1 L987.0 520.0 L988.0 519.8 L989.0 519.7 L990.0 519.6 L991.0 519.5 L992.0 519.3 L993.0 519.2 L994.0 519.0 L995.0 518.9 L996.0 518.7 L997.0 518.6 L998.0 518.4 L999.0 518.3 L1000.0 518.1 L1001.0 518.0 L1002.0 517.8 L1003.0 517.6 L1004.0 517.5 L1005.0 517.3 L1006.0 517.2 L1007.0 517.0 L1008.0 516.8 L1009.0 516.7 L1010.0 516.5 L1011.0 516.3 L1012.0 516.1 L1013.0 516.0 L1014.0 515.8 L1015.0 515.6 L1016.0 515.4 L1017.0 515.2 L1018.0 515.0 L1019.0 514.8 L1020.0 514.6 L1021.0 514.4 L1022.0 514.2 L1023.0 514.0 L1024.0 513.8 L1025.0 513.6 L1026.0 513.4 L1027.0 513.2 L1028.0 513.0 L1029.0 512.8 L1030.0 512.6 L1031.0 512.4 L1032.0 512.1 L1033.0 511.9 L1034.0 511.7 L1035.0 511.4 L1036.0 511.1 L1037.0 510.9 L1038.0 510.5 L1039.0 510.1 L1040.0 509.7 L1041.0 509.3 L1042.0 508.8 L1043.0 508.3 L1044.0 507.8 L1045.0 507.3 L1046.0 506.7 L1047.0 506.2 L1048.0 505.6 L1049.0 505.1 L1050.0 504.5 L1051.0 504.0 L1052.0 503.4 L1053.0 502.8 L1054.0 502.2 L1055.0 501.6 L1056.0 500.9 L1057.0 500.3 L1058.0 499.6 L1059.0 498.9 L1060.0 498.1 L1061.0 497.4 L1062.0 496.6 L1063.0 495.8 L1064.0 495.0 L1065.0 494.1 L1066.0 493.2 L1067.0 492.3 L1068.0 491.3 L1069.0 490.3 L1070.0 489.4 L1071.0 488.4 L1072.0 487.4 L1073.0 486.5 L1074.0 485.6 L1075.0 484.6 L1076.0 483.6 L1077.0 482.6 L1078.0 481.7 L1079.0 480.7 L1080.0 479.7 L1081.0 478.8 L1082.0 477.8 L1083.0 476.9 L1084.0 476.1 L1085.0 475.2 L1086.0 474.4 L1087.0 473.6 L1088.0 472.8 L1089.0 472.1 L1090.0 471.4 L1091.0 470.8 L1092.0 470.2 L1093.0 469.7 L1094.0 469.1 L1095.0 468.6 L1096.0 468.2 L1097.0 467.7 L1098.0 467.4 L1099.0 467.1 L1100.0 466.9 L1101.0 466.7 L1102.0 466.5 L1103.0 466.3 L1104.0 466.2 L1105.0 466.1 L1106.0 466.0 L1107.0 466.0 L1108.0 466.0 L1109.0 466.0 L1110.0 466.0 L1111.0 466.2 L1112.0 466.4 L1113.0 466.6 L1114.0 466.9 L1115.0 467.2 L1116.0 467.5 L1117.0 467.9 L1118.0 468.4 L1119.0 468.9 L1120.0 469.5 L1121.0 470.1 L1122.0 470.9 L1123.0 471.8 L1124.0 472.8 L1125.0 473.9 L1126.0 475.1 L1127.0 476.3 L1128.0 477.5 L1129.0 478.7 L1130.0 480.1 L1131.0 481.5 L1132.0 482.9 L1133.0 484.3 L1134.0 485.7 L1135.0 487.0 L1136.0 488.1 L1137.0 489.1 L1138.0 490.1 L1139.0 491.2 L1140.0 492.5 L1141.0 493.9 L1142.0 495.4 L1143.0 497.0 L1144.0 498.6 L1145.0 500.3 L1146.0 502.1 L1147.0 503.9 L1148.0 505.8 L1149.0 507.9 L1150.0 510.0 L1151.0 512.2 L1152.0 514.4 L1153.0 516.7 L1154.0 518.9 L1155.0 521.0 L1156.0 523.2 L1157.0 525.3 L1158.0 527.5 L1159.0 529.6 L1160.0 531.8 L1161.0 534.0 L1162.0 536.1 L1163.0 538.3 L1164.0 540.5 L1165.0 542.7 L1166.0 544.9 L1167.0 547.2 L1168.0 549.5 L1169.0 552.0 L1170.0 554.7 L1171.0 557.6 L1172.0 560.4 L1173.0 563.3 L1174.0 565.9 L1175.0 568.4 L1176.0 570.5 L1177.0 572.3 L1178.0 573.9 L1179.0 575.4 L1180.0 576.9 L1181.0 578.5 L1182.0 580.3 L1183.0 582.1 L1184.0 583.9 L1185.0 585.8 L1186.0 587.6 L1187.0 589.4 L1188.0 591.1 L1189.0 592.8 L1190.0 594.5 L1191.0 596.1 L1192.0 597.8 L1193.0 599.3 L1194.0 600.9 L1195.0 602.4 L1196.0 604.0 L1197.0 605.4 L1198.0 606.9 L1199.0 608.4 L1200.0 609.9 L1201.0 611.3 L1202.0 612.6 L1203.0 613.9 L1204.0 615.1 L1205.0 616.2 L1206.0 617.3 L1207.0 618.3 L1208.0 619.4 L1209.0 620.3 L1210.0 621.3 L1211.0 622.2 L1212.0 623.1 L1213.0 624.0 L1214.0 624.9 L1215.0 625.8 L1216.0 626.6 L1217.0 627.2 L1218.0 627.8 L1219.0 628.3 L1220.0 628.8 L1221.0 629.2 L1222.0 629.6 L1223.0 629.9 L1224.0 630.2 L1225.0 630.3 L1226.0 630.4 L1227.0 630.5 L1228.0 630.6 L1229.0 630.6 L1230.0 630.5 L1231.0 630.5 L1232.0 630.3 L1233.0 630.0 L1234.0 629.7 L1235.0 629.4 L1236.0 629.0 L1237.0 628.5 L1238.0 627.9 L1239.0 627.3 L1240.0 626.5 L1241.0 625.7 L1242.0 624.8 L1243.0 623.9 L1244.0 623.0 L1245.0 622.0 L1246.0 621.1 L1247.0 620.0 L1248.0 618.9 L1249.0 617.8 L1250.0 616.7 L1251.0 615.6 L1252.0 614.5 L1253.0 613.5 L1254.0 612.5 L1255.0 611.6 L1256.0 610.6 L1257.0 609.7 L1258.0 608.7 L1259.0 607.8 L1260.0 606.9 L1261.0 606.0 L1262.0 605.2 L1263.0 604.3 L1264.0 603.5 L1265.0 602.7 L1266.0 601.9 L1267.0 601.1 L1268.0 600.3 L1269.0 599.6 L1270.0 598.8 L1271.0 598.1 L1272.0 597.4 L1273.0 596.7 L1274.0 596.1 L1275.0 595.4 L1276.0 594.8 L1277.0 594.3 L1278.0 593.7 L1279.0 593.1 L1280.0 592.6 L1281.0 592.1 L1282.0 591.6 L1283.0 591.1 L1284.0 590.6 L1285.0 590.1 L1286.0 589.7 L1287.0 589.3 L1288.0 588.9 L1289.0 588.5 L1290.0 588.1 L1291.0 587.7 L1292.0 587.3 L1293.0 586.9 L1294.0 586.6 L1295.0 586.2 L1296.0 585.9 L1297.0 585.7 L1298.0 585.4 L1299.0 585.2 L1300.0 584.9 L1301.0 584.7 L1302.0 584.5 L1303.0 584.3 L1304.0 584.1 L1305.0 583.9 L1306.0 583.7 L1307.0 583.5 L1308.0 583.3 L1309.0 583.2 L1310.0 583.0 L1311.0 582.9 L1312.0 582.8 L1313.0 582.7 L1314.0 582.6 L1315.0 582.5 L1316.0 582.4 L1317.0 582.3 L1318.0 582.2 L1319.0 582.1 L1320.0 582.0 L1321.0 581.9 L1322.0 581.8 L1323.0 581.8 L1324.0 581.7 L1325.0 581.7 L1326.0 581.7 L1327.0 581.7 L1328.0 581.7 L1329.0 581.7 L1330.0 581.8 L1331.0 581.8 L1332.0 581.9 L1333.0 582.0 L1334.0 582.0 L1335.0 582.1 L1336.0 582.2 L1337.0 582.3 L1338.0 582.3 L1339.0 582.4 L1340.0 582.5 L1341.0 582.6 L1342.0 582.7 L1343.0 582.8 L1344.0 582.9 L1345.0 583.0 L1346.0 583.2 L1347.0 583.3 L1348.0 583.5 L1349.0 583.6 L1350.0 583.8 L1351.0 584.0 L1352.0 584.1 L1353.0 584.3 L1354.0 584.5 L1355.0 584.7 L1356.0 584.9 L1357.0 585.2 L1358.0 585.4 L1359.0 585.7 L1360.0 586.0 L1361.0 586.3 L1362.0 586.6 L1363.0 586.9 L1364.0 587.2 L1365.0 587.5 L1366.0 587.8 L1367.0 588.2 L1368.0 588.5 L1369.0 588.9 L1370.0 589.3 L1371.0 589.7 L1372.0 590.1 L1373.0 590.6 L1374.0 591.1 L1375.0 591.7 L1376.0 592.3 L1377.0 593.0 L1378.0 593.8 L1379.0 594.6 L1380.0 595.5 L1381.0 596.3 L1382.0 597.2 L1383.0 598.1 L1384.0 598.9 L1385.0 599.8 L1386.0 600.7 L1387.0 601.7 L1388.0 602.6 L1389.0 603.6 L1390.0 604.6 L1391.0 605.5 L1392.0 606.5 L1393.0 607.4 L1394.0 608.4 L1395.0 609.3 L1396.0 610.2 L1397.0 611.2 L1398.0 612.1 L1399.0 613.0 L1400.0 614.0 L1401.0 614.9 L1402.0 615.8 L1403.0 616.7 L1404.0 617.6 L1405.0 618.4 L1406.0 619.3 L1407.0 620.2 L1408.0 621.0 L1409.0 621.8 L1410.0 622.7 L1411.0 623.5 L1412.0 624.3 L1413.0 625.1 L1414.0 625.9 L1415.0 626.7 L1416.0 627.5 L1417.0 628.3 L1418.0 629.1 L1419.0 629.8 L1420.0 630.6 L1421.0 631.4 L1422.0 632.1 L1423.0 632.8 L1424.0 633.5 L1425.0 634.2 L1426.0 634.8 L1427.0 635.5 L1428.0 636.1 L1429.0 636.7 L1430.0 637.3 L1431.0 637.9 L1432.0 638.4 L1433.0 639.0 L1434.0 639.5 L1435.0 639.9 L1436.0 640.4 L1437.0 640.8 L1438.0 641.3 L1439.0 641.7 L1440.0 642.1 L1441.0 642.5 L1442.0 642.9 L1443.0 643.2 L1444.0 643.5 L1445.0 643.7 L1446.0 643.9 L1447.0 644.1 L1448.0 644.2 L1449.0 644.4 L1450.0 644.6 L1451.0 644.7 L1452.0 644.8 L1453.0 644.9 L1454.0 645.0 L1455.0 645.0 L1456.0 645.0 L1457.0 645.0 L1458.0 645.0 L1459.0 644.9 L1460.0 644.9 L1461.0 644.8 L1462.0 644.7 L1463.0 644.6 L1464.0 644.5 L1465.0 644.4 L1466.0 644.3 L1467.0 644.1 L1468.0 644.0 L1469.0 643.8 L1470.0 643.6 L1471.0 643.4 L1472.0 643.1 L1473.0 642.9 L1474.0 642.6 L1475.0 642.3 L1476.0 642.1 L1477.0 641.8 L1478.0 641.5 L1479.0 641.3 L1480.0 641.0 L1481.0 640.7 L1482.0 640.4 L1483.0 640.1 L1484.0 639.8 L1485.0 639.5 L1486.0 639.1 L1487.0 638.8 L1488.0 638.4 L1489.0 638.1 L1490.0 637.7 L1491.0 637.4 L1492.0 637.0 L1493.0 636.6 L1494.0 636.2 L1495.0 635.8 L1496.0 635.4 L1497.0 634.9 L1498.0 634.4 L1499.0 634.0 L1500.0 633.5 L1501.0 633.0 L1502.0 632.5 L1503.0 631.9 L1504.0 631.4 L1505.0 630.9 L1506.0 630.3 L1507.0 629.7 L1508.0 629.1 L1509.0 628.5 L1510.0 627.9 L1511.0 627.2 L1512.0 626.5 L1513.0 625.8 L1514.0 625.1 L1515.0 624.3 L1516.0 623.6 L1517.0 622.9 L1518.0 622.1 L1519.0 621.4 L1520.0 620.6 L1521.0 619.8 L1522.0 619.0 L1523.0 618.1 L1524.0 617.3 L1525.0 616.5 L1526.0 615.6 L1527.0 614.7 L1528.0 613.9 L1529.0 613.0 L1530.0 612.1 L1531.0 611.2 L1532.0 610.2 L1533.0 609.3 L1534.0 608.4 L1535.0 607.4 L1536.0 606.4 L1537.0 605.5 L1538.0 604.5 L1539.0 603.5 L1540.0 602.5 L1541.0 601.5 L1542.0 600.5 L1543.0 599.4 L1544.0 598.4 L1545.0 597.3 L1546.0 596.2 L1547.0 595.1 L1548.0 594.1 L1549.0 593.0 L1550.0 592.0 L1551.0 591.0 L1552.0 590.0 L1553.0 589.0 L1554.0 588.0 L1555.0 587.0 L1556.0 586.1 L1557.0 585.1 L1558.0 584.2 L1559.0 583.3 L1560.0 582.4 L1561.0 581.5 L1562.0 580.6 L1563.0 579.8 L1564.0 578.9 L1565.0 578.1 L1566.0 577.3 L1567.0 576.5 L1568.0 575.8 L1569.0 575.0 L1570.0 574.3 L1571.0 573.7 L1572.0 573.0 L1573.0 572.4 L1574.0 571.8 L1575.0 571.2 L1576.0 570.6 L1577.0 570.0 L1578.0 569.5 L1579.0 569.0 L1580.0 568.5 L1581.0 568.0 L1582.0 567.6 L1583.0 567.1 L1584.0 566.7 L1585.0 566.2 L1586.0 565.8 L1587.0 565.4 L1588.0 565.1 L1589.0 564.8 L1590.0 564.5 L1591.0 564.3 L1592.0 564.0 L1593.0 563.8 L1594.0 563.6 L1595.0 563.4 L1596.0 563.3 L1597.0 563.1 L1598.0 562.9 L1599.0 562.7 L1600.0 562.5 L1601.0 562.3 L1602.0 562.1 L1603.0 561.9 L1604.0 561.7 L1605.0 561.5 L1606.0 561.3 L1607.0 561.1 L1608.0 560.9 L1609.0 560.7 L1610.0 560.5 L1611.0 560.3 L1612.0 560.1 L1613.0 559.9 L1614.0 559.7 L1615.0 559.5 L1616.0 559.3 L1617.0 559.1 L1618.0 558.9 L1619.0 558.7 L1620.0 558.6 L1621.0 558.4 L1622.0 558.2 L1623.0 558.0 L1624.0 557.8 L1625.0 557.7 L1626.0 557.5 L1627.0 557.4 L1628.0 557.2 L1629.0 557.1 L1630.0 557.0 L1631.0 556.9 L1632.0 556.8 L1633.0 556.7 L1634.0 556.6 L1635.0 556.5 L1636.0 556.4 L1637.0 556.3 L1638.0 556.2 L1639.0 556.1 L1640.0 556.0 L1641.0 556.0 L1642.0 555.9 L1643.0 555.8 L1644.0 555.7 L1645.0 555.7 L1646.0 555.6 L1647.0 555.6 L1648.0 555.6 L1649.0 555.5 L1650.0 555.5 L1651.0 555.5 L1652.0 555.5 L1653.0 555.4 L1654.0 555.4 L1655.0 555.4 L1656.0 555.4 L1657.0 555.4 L1658.0 555.4 L1659.0 555.4 L1660.0 555.3 L1661.0 555.3 L1662.0 555.3 L1663.0 555.3 L1664.0 555.3 L1665.0 555.3 L1666.0 555.3 L1667.0 555.3 L1668.0 555.2 L1669.0 555.2 L1670.0 555.2 L1671.0 555.2 L1672.0 555.2 L1673.0 555.2 L1674.0 555.2 L1675.0 555.1 L1676.0 555.1 L1677.0 555.1 L1678.0 555.1 L1679.0 555.1 L1680.0 555.1 L1681.0 555.1 L1682.0 555.0 L1683.0 555.0 L1684.0 555.0 L1685.0 555.0 L1686.0 555.0 L1687.0 555.0 L1688.0 554.9 L1689.0 554.9 L1690.0 554.9 L1691.0 554.9 L1692.0 554.9 L1693.0 554.9 L1694.0 554.9 L1695.0 554.8 L1696.0 554.8 L1697.0 554.8 L1698.0 554.8 L1699.0 554.8 L1700.0 554.8 L1701.0 554.8 L1702.0 554.8 L1703.0 554.8 L1704.0 554.8 L1705.0 554.8 L1706.0 554.8 L1707.0 554.8 L1708.0 554.8 L1709.0 554.8 L1710.0 554.8 L1711.0 554.8 L1712.0 554.8 L1713.0 554.8 L1714.0 554.8 L1715.0 554.8 L1716.0 554.8 L1717.0 554.7 L1718.0 554.7 L1719.0 554.7 L1720.0 554.7 L1721.0 554.7 L1722.0 554.7 L1723.0 554.7 L1724.0 554.7 L1725.0 554.7 L1726.0 554.7 L1727.0 554.7 L1728.0 554.7 L1729.0 554.7 L1730.0 554.7 L1731.0 554.7 L1732.0 554.7 L1733.0 554.7 L1734.0 554.7 L1735.0 554.7 L1736.0 554.7 L1737.0 554.7 L1738.0 554.7 L1739.0 554.7 L1740.0 554.7 L1741.0 554.7 L1742.0 554.7 L1743.0 554.7 L1744.0 554.7 L1745.0 554.7 L1746.0 554.7 L1747.0 554.7 L1748.0 554.7 L1749.0 554.7 L1750.0 554.6 L1751.0 554.6 L1752.0 554.6 L1753.0 554.6 L1754.0 554.6 L1755.0 554.6 L1756.0 554.6 L1757.0 554.6 L1758.0 554.6 L1759.0 554.6 L1760.0 554.6 L1761.0 554.6 L1762.0 554.6 L1763.0 554.6 L1764.0 554.6 L1765.0 554.6 L1766.0 554.6 L1767.0 554.6 L1768.0 554.6 L1769.0 554.6 L1770.0 554.6 L1771.0 554.6 L1772.0 554.6 L1773.0 554.6 L1774.0 554.6 L1775.0 554.6 L1776.0 554.6 L1777.0 554.6 L1778.0 554.6 L1779.0 554.6 L1780.0 554.6 L1781.0 554.6 L1782.0 554.6 L1783.0 554.6 L1784.0 554.5 L1785.0 554.5 L1786.0 554.5 L1787.0 554.5 L1788.0 554.5 L1789.0 554.5 L1790.0 554.5 L1791.0 554.5 L1792.0 554.5 L1793.0 554.5 L1794.0 554.5 L1795.0 554.5 L1796.0 554.5 L1797.0 554.5 L1798.0 554.5 L1799.0 554.5 L1800.0 554.5 L1801.0 554.5 L1802.0 554.5 L1803.0 554.5 L1804.0 554.5 L1805.0 554.5 L1806.0 554.5 L1807.0 554.5 L1808.0 554.4 L1809.0 554.4 L1810.0 554.4 L1811.0 554.4 L1812.0 554.4 L1813.0 554.4 L1814.0 554.4 L1815.0 554.4 L1816.0 554.4 L1817.0 554.3 L1818.0 554.3 L1819.0 554.3 L1820.0 554.3 L1821.0 554.3 L1822.0 554.3 L1823.0 554.3 L1824.0 554.3 L1825.0 554.3 L1826.0 554.3 L1827.0 554.3 L1828.0 554.2 L1829.0 554.2 L1830.0 554.2 L1831.0 554.2 L1832.0 554.2 L1833.0 554.2 L1834.0 554.2 L1835.0 554.2 L1836.0 554.2 L1837.0 554.2 L1838.0 554.2 L1839.0 554.1 L1840.0 554.1 L1841.0 554.1 L1842.0 554.1 L1843.0 554.1 L1844.0 554.1 L1845.0 554.1 L1846.0 554.1 L1847.0 554.1 L1848.0 554.1 L1849.0 554.1 L1850.0 554.0 L1851.0 554.0 L1852.0 554.0 L1853.0 554.0 L1854.0 554.0 L1855.0 554.0 L1856.0 554.0 L1857.0 554.0 L1858.0 554.0 L1859.0 554.0 L1860.0 554.0 L1861.0 554.0 L1862.0 553.9 L1863.0 553.9 L1864.0 553.9 L1865.0 553.9 L1866.0 553.9 L1867.0 553.9 L1868.0 553.9 L1869.0 553.9 L1870.0 553.9 L1871.0 553.9 L1872.0 553.9 L1873.0 553.8 L1874.0 553.8 L1875.0 553.8 L1876.0 553.8 L1877.0 553.8 L1878.0 553.8 L1879.0 553.8 L1880.0 553.8 L1881.0 553.8 L1882.0 553.8 L1883.0 553.7 L1884.0 553.7 L1885.0 553.7 L1886.0 553.7 L1887.0 553.7 L1888.0 553.7 L1889.0 553.7 L1890.0 553.7 L1891.0 553.7 L1892.0 553.6 L1893.0 553.6 L1894.0 553.6 L1895.0 553.6 L1896.0 553.6 L1897.0 553.6 L1898.0 553.6 L1899.0 553.6 L1900.0 553.6 L1901.0 553.6 L1902.0 553.6 L1903.0 553.6 L1904.0 553.6 L1905.0 553.6 L1906.0 553.6 L1907.0 553.6 L1908.0 553.6 L1909.0 553.6 L1910.0 553.6 L1911.0 553.6 L1912.0 553.6 L1913.0 553.6 L1914.0 553.6 L1915.0 553.6 L1916.0 553.6 L1917.0 553.6 L1918.0 553.6 L1919.0 553.6 L1920.0 553.6 L1921.0 553.6 L1922.0 553.6 L1923.0 553.6 L1924.0 553.6 L1925.0 553.6 L1926.0 553.6 L1927.0 553.6 L1928.0 553.6 L1929.0 553.6 L1930.0 553.6 L1931.0 553.6 L1932.0 553.6 L1933.0 553.6 L1934.0 553.6 L1935.0 553.6 L1936.0 553.6 L1937.0 553.6 L1938.0 553.6 L1939.0 553.6 L1940.0 553.6 L1941.0 553.6 L1942.0 553.6 L1943.0 553.6 L1944.0 553.6 L1945.0 553.6 L1946.0 553.6 L1947.0 553.6 L1948.0 553.6 L1949.0 553.6 L1950.0 553.6 L1951.0 553.6 L1952.0 553.6 L1953.0 553.6 L1954.0 553.6 L1955.0 553.6 L1956.0 553.6 L1957.0 553.6 L1958.0 553.6 L1959.0 553.6 L1960.0 553.6 L1961.0 553.6 L1962.0 553.6 L1963.0 553.6 L1964.0 553.6 L1965.0 553.6 L1966.0 553.6 L1967.0 553.6 L1968.0 553.6 L1969.0 553.6 L1970.0 553.6 L1971.0 553.6 L1972.0 553.6 L1973.0 553.6 L1974.0 553.6 L1975.0 553.6 L1976.0 553.6 L1977.0 553.6 L1978.0 553.6 L1979.0 553.6 L1980.0 553.6 L1981.0 553.6 L1982.0 553.6 L1983.0 553.6 L1984.0 553.6 L1985.0 553.6 L1986.0 553.6 L1987.0 553.6 L1988.0 553.6 L1989.0 553.6 L1990.0 553.6 L1991.0 553.6 L1992.0 553.6 L1993.0 553.6 L1994.0 553.6 L1995.0 553.6 L1996.0 553.6 L1997.0 553.6 L1998.0 553.6 L1999.0 553.6 L2000.0 553.6 L2001.0 553.6 L2002.0 553.6 L2003.0 553.6 L2004.0 553.6 L2005.0 553.6 L2006.0 553.6 L2007.0 553.6 L2008.0 553.6 L2009.0 553.6 L2010.0 553.6 L2011.0 553.6 L2012.0 553.6 L2013.0 553.6 L2014.0 553.6 L2015.0 553.6 L2016.0 553.6 L2017.0 553.6 L2018.0 553.6 L2019.0 553.6 L2020.0 553.6 L2021.0 553.6 L2022.0 553.6 L2023.0 553.6 L2024.0 553.6 L2025.0 553.6 L2026.0 553.6 L2027.0 553.6 L2028.0 553.6 L2029.0 553.6 L2030.0 553.6 L2031.0 553.6 L2032.0 553.6 L2033.0 553.6 L2034.0 553.6 L2035.0 553.6 L2036.0 553.6 L2037.0 553.6 L2038.0 553.6 L2039.0 553.6 L2040.0 553.6 L2041.0 553.6 L2042.0 553.6 L2043.0 553.6 L2044.0 553.6 L2045.0 553.6 L2046.0 553.6 L2047.0 553.6 L2048.0 553.6 L2049.0 553.6 L2050.0 553.6 L2051.0 553.6 L2052.0 553.6 L2053.0 553.6 L2054.0 553.6 L2055.0 553.6 L2056.0 553.6 L2057.0 553.6 L2058.0 553.6 L2059.0 553.6 L2060.0 553.6 L2061.0 553.6 L2062.0 553.6 L2063.0 553.6 L2064.0 553.6 L2065.0 553.6 L2066.0 553.6 L2067.0 553.6 L2068.0 553.6 L2069.0 553.6 L2070.0 553.6 L2071.0 553.6 L2072.0 553.6 L2073.0 553.6 L2074.0 553.6 L2075.0 553.6 L2076.0 553.6 L2077.0 553.6 L2078.0 553.6 L2079.0 553.6 L2080.0 553.6 L2081.0 553.6 L2082.0 553.6 L2083.0 553.6 L2084.0 553.6 L2085.0 553.6 L2086.0 553.6 L2087.0 553.6 L2088.0 553.6 L2089.0 553.6 L2090.0 553.6 L2091.0 553.6 L2092.0 553.6 L2093.0 553.6 L2094.0 553.6 L2095.0 553.6 L2096.0 553.6 L2097.0 553.6 L2098.0 553.6 L2099.0 553.6 L2100.0 553.6 L2101.0 553.6 L2102.0 553.6 L2103.0 553.6 L2104.0 553.6 L2105.0 553.6 L2106.0 553.6 L2107.0 553.6 L2108.0 553.6 L2109.0 553.6 L2110.0 553.6 L2111.0 553.6 L2112.0 553.6 L2113.0 553.6 L2114.0 553.6 L2115.0 553.6 L2116.0 553.6 L2117.0 553.6 L2118.0 553.6 L2119.0 553.6 L2120.0 553.6 L2121.0 553.6 L2122.0 553.6 L2123.0 553.6 L2124.0 553.6 L2125.0 553.6 L2126.0 553.6 L2127.0 553.6 L2128.0 553.6 L2129.0 553.6 L2130.0 553.6 L2131.0 553.6 L2132.0 553.6 L2133.0 553.6 L2134.0 553.6 L2135.0 553.6 L2136.0 553.6 L2137.0 553.6 L2138.0 553.6 L2139.0 553.6 L2140.0 553.6 L2141.0 553.6 L2142.0 553.6 L2143.0 553.6 L2144.0 553.6 L2145.0 553.6 L2146.0 553.6 L2147.0 553.6 L2148.0 553.6 L2149.0 553.6 L2150.0 553.6 L2151.0 553.6 L2152.0 553.6 L2153.0 553.6 L2154.0 553.6 L2155.0 553.6 L2156.0 553.6 L2157.0 553.6 L2158.0 553.6 L2159.0 553.6 L2160.0 553.6 L2161.0 553.6 L2162.0 553.6 L2163.0 553.6 L2164.0 553.6 L2165.0 553.6 L2166.0 553.6 L2167.0 553.6 L2168.0 553.6 L2169.0 553.6 L2170.0 553.6 L2171.0 553.6 L2172.0 553.6 L2173.0 553.6 L2174.0 553.6 L2175.0 553.6 L2176.0 553.6 L2177.0 553.6 L2178.0 553.6 L2179.0 553.6 L2180.0 553.6 L2181.0 553.6 L2182.0 553.6 L2183.0 553.6 L2184.0 553.6 L2185.0 553.6 L2186.0 553.6 L2187.0 553.6 L2188.0 553.6 L2189.0 553.6 L2190.0 553.6 L2191.0 553.6 L2192.0 553.6 L2193.0 553.6 L2194.0 553.6 L2195.0 553.6 L2196.0 553.6 L2197.0 553.6 L2198.0 553.6 L2199.0 553.6 L2200.0 553.6 L2201.0 553.6 L2202.0 553.6 L2203.0 553.6 L2204.0 553.6 L2205.0 553.6 L2206.0 553.6 L2207.0 553.6 L2208.0 553.6 L2209.0 553.6 L2210.0 553.6 L2211.0 553.6 L2212.0 553.6 L2213.0 553.6 L2214.0 553.6 L2215.0 553.6 L2216.0 553.6 L2217.0 553.6 L2218.0 553.6 L2219.0 553.6 L2220.0 553.6 L2221.0 553.6 L2222.0 553.6 L2223.0 553.6 L2224.0 553.6 L2225.0 553.6 L2226.0 553.6 L2227.0 553.6 L2228.0 553.6 L2229.0 553.6 L2230.0 553.6 L2231.0 553.6 L2232.0 553.6 L2233.0 553.6 L2234.0 553.6 L2235.0 553.6 L2236.0 553.6 L2237.0 553.6 L2238.0 553.6 L2239.0 553.6 L2240.0 553.6 L2241.0 553.6 L2242.0 553.6 L2243.0 553.6 L2244.0 553.6 L2245.0 553.6 L2246.0 553.6 L2247.0 553.6 L2248.0 553.6 L2249.0 553.6 L2250.0 553.6 L2251.0 553.6 L2252.0 553.6 L2253.0 553.6" stroke="#0000ff" stroke-width="7.0"/>
<path d="M422.0 553.0 L424.0 553.0 L426.0 553.0 L428.0 553.0 L430.0 553.0 L432.0 553.0 L434.0 553.0 L436.0 553.0 L438.0 553.0 L440.0 553.0 L442.0 553.0 L444.0 553.0 L446.0 553.0 L448.0 553.0 L450.0 553.0 L452.0 553.0 L454.0 553.0 L456.0 553.0 L458.0 553.0 L460.0 553.0 L462.0 553.0 L464.0 553.0 L466.0 553.0 L468.0 553.0 L470.0 553.0 L472.0 553.0 L474.0 553.0 L476.0 553.0 L478.0 553.0 L480.0 553.0 L482.0 553.0 L484.0 553.0 L486.0 553.0 L488.0 553.0 L490.0 553.0 L492.0 553.0 L494.0 553.0 L496.0 553.0 L498.0 553.0 L500.0 553.0 L502.0 553.0 L504.0 553.0 L506.0 553.0 L508.0 553.0 L510.0 553.0 L512.0 553.0 L514.0 553.0 L516.0 553.0 L518.0 553.0 L520.0 553.0 L522.0 553.0 L524.0 553.0 L526.0 553.0 L528.0 553.0 L530.0 553.0 L532.0 553.0 L534.0 553.0 L536.0 553.0 L538.0 553.0 L540.0 553.0 L542.0 553.0 L544.0 553.0 L546.0 553.0 L548.0 553.0 L550.0 553.0 L552.0 553.0 L554.0 553.0 L556.0 553.0 L558.0 553.0 L560.0 553.0 L562.0 553.0 L564.0 553.0 L566.0 553.0 L568.0 553.0 L570.0 552.9 L572.0 552.9 L574.0 552.9 L576.0 552.9 L578.0 552.8 L580.0 552.8 L582.0 552.8 L584.0 552.7 L586.0 552.6 L588.0 552.5 L590.0 552.4 L592.0 552.2 L594.0 552.0 L596.0 551.8 L598.0 551.6 L600.0 551.4 L602.0 551.0 L604.0 550.5 L606.0 549.8 L608.0 549.2 L610.0 548.7 L612.0 548.3 L614.0 548.1 L616.0 547.8 L618.0 547.6 L620.0 547.4 L622.0 547.2 L624.0 547.0 L626.0 546.9 L628.0 546.7 L630.0 546.6 L632.0 546.5 L634.0 546.4 L636.0 546.3 L638.0 546.2 L640.0 546.1 L642.0 546.0 L644.0 546.0 L646.0 545.9 L648.0 545.8 L650.0 545.7 L652.0 545.7 L654.0 545.6 L656.0 545.5 L658.0 545.4 L660.0 545.3 L662.0 545.1 L664.0 544.7 L666.0 544.1 L668.0 543.5 L670.0 542.9 L672.0 542.5 L674.0 542.7 L676.0 543.2 L678.0 543.8 L680.0 544.3 L682.0 544.9 L684.0 545.2 L686.0 545.5 L688.0 545.7 L690.0 545.8 L692.0 546.0 L694.0 546.1 L696.0 546.2 L698.0 546.4 L700.0 546.5 L702.0 546.6 L704.0 546.7 L706.0 546.8 L708.0 546.9 L710.0 546.9 L712.0 547.0 L714.0 547.1 L716.0 547.2 L718.0 547.2 L720.0 547.3 L722.0 547.4 L724.0 547.4 L726.0 547.5 L728.0 547.6 L730.0 547.6 L732.0 547.7 L734.0 547.8 L736.0 547.8 L738.0 547.9 L740.0 548.0 L742.0 548.1 L744.0 548.2 L746.0 548.3 L748.0 548.4 L750.0 548.5 L752.0 548.6 L754.0 548.7 L756.0 548.8 L758.0 548.9 L760.0 549.0 L762.0 549.1 L764.0 549.2 L766.0 549.3 L768.0 549.4 L770.0 549.5 L772.0 549.6 L774.0 549.7 L776.0 549.8 L778.0 549.9 L780.0 550.0 L782.0 550.1 L784.0 550.2 L786.0 550.3 L788.0 550.4 L790.0 550.5 L792.0 550.6 L794.0 550.7 L796.0 550.8 L798.0 550.9 L800.0 551.0 L802.0 551.1 L804.0 551.2 L806.0 551.3 L808.0 551.4 L810.0 551.5 L812.0 551.6 L814.0 551.7 L816.0 551.8 L818.0 551.9 L820.0 551.9 L822.0 552.0 L824.0 552.1 L826.0 552.1 L828.0 552.2 L830.0 552.3 L832.0 552.3 L834.0 552.4 L836.0 552.5 L838.0 552.5 L840.0 552.6 L842.0 552.6 L844.0 552.6 L846.0 552.7 L848.0 552.7 L850.0 552.7 L852.0 552.7 L854.0 552.7 L856.0 552.7 L858.0 552.7 L860.0 552.7 L862.0 552.7 L864.0 552.7 L866.0 552.7 L868.0 552.7 L870.0 552.7 L872.0 552.7 L874.0 552.7 L876.0 552.8 L878.0 552.8 L880.0 552.8 L882.0 552.8 L884.0 552.8 L886.0 552.8 L888.0 552.8 L890.0 552.8 L892.0 552.8 L894.0 552.8 L896.0 552.8 L898.0 552.8 L900.0 552.8 L902.0 552.8 L904.0 552.8 L906.0 552.8 L908.0 552.8 L910.0 552.9 L912.0 552.9 L914.0 552.9 L916.0 552.9 L918.0 552.9 L920.0 552.9 L922.0 553.0 L924.0 553.0 L926.0 553.0 L928.0 553.0 L930.0 553.0 L932.0 553.0 L934.0 553.0 L936.0 553.1 L938.0 553.1 L940.0 553.1 L942.0 553.1 L944.0 553.1 L946.0 553.1 L948.0 553.1 L950.0 553.1 L952.0 553.2 L954.0 553.2 L956.0 553.2 L958.0 553.2 L960.0 553.2 L962.0 553.2 L964.0 553.2 L966.0 553.3 L968.0 553.3 L970.0 553.3 L972.0 553.3 L974.0 553.3 L976.0 553.3 L978.0 553.3 L980.0 553.4 L982.0 553.4 L984.0 553.4 L986.0 553.4 L988.0 553.4 L990.0 553.4 L992.0 553.4 L994.0 553.4 L996.0 553.5 L998.0 553.5 L1000.0 553.5 L1002.0 553.5 L1004.0 553.6 L1006.0 553.6 L1008.0 553.6 L1010.0 553.7 L1012.0 553.7 L1014.0 553.8 L1016.0 553.8 L1018.0 553.9 L1020.0 553.9 L1022.0 554.0 L1024.0 554.0 L1026.0 554.1 L1028.0 554.1 L1030.0 554.1 L1032.0 554.2 L1034.0 554.2 L1036.0 554.3 L1038.0 554.3 L1040.0 554.4 L1042.0 554.4 L1044.0 554.4 L1046.0 554.5 L1048.0 554.5 L1050.0 554.6 L1052.0 554.6 L1054.0 554.7 L1056.0 554.7 L1058.0 554.7 L1060.0 554.8 L1062.0 554.8 L1064.0 554.9 L1066.0 554.9 L1068.0 555.0 L1070.0 555.0 L1072.0 555.0 L1074.0 555.1 L1076.0 555.1 L1078.0 555.2 L1080.0 555.2 L1082.0 555.3 L1084.0 555.3 L1086.0 555.3 L1088.0 555.4 L1090.0 555.4 L1092.0 555.5 L1094.0 555.5 L1096.0 555.5 L1098.0 555.6 L1100.0 555.6 L1102.0 555.7 L1104.0 555.7 L1106.0 555.7 L1108.0 555.8 L1110.0 555.8 L1112.0 555.9 L1114.0 556.0 L1116.0 556.1 L1118.0 556.2 L1120.0 556.3 L1122.0 556.5 L1124.0 556.6 L1126.0 556.8 L1128.0 557.0 L1130.0 557.1 L1132.0 557.3 L1134.0 557.4 L1136.0 557.5 L1138.0 557.7 L1140.0 557.8 L1142.0 557.9 L1144.0 558.1 L1146.0 558.2 L1148.0 558.4 L1150.0 558.5 L1152.0 558.7 L1154.0 558.8 L1156.0 559.0 L1158.0 559.2 L1160.0 559.4 L1162.0 559.6 L1164.0 559.8 L1166.0 560.0 L1168.0 560.2 L1170.0 560.4 L1172.0 560.5 L1174.0 560.7 L1176.0 560.8 L1178.0 560.9 L1180.0 561.0 L1182.0 561.0 L1184.0 561.0 L1186.0 561.0 L1188.0 561.0 L1190.0 561.0 L1192.0 561.0 L1194.0 561.0 L1196.0 561.0 L1198.0 561.0 L1200.0 561.0 L1202.0 561.0 L1204.0 561.0 L1206.0 561.0 L1208.0 561.0 L1210.0 561.0 L1212.0 561.0 L1214.0 561.0 L1216.0 561.0 L1218.0 561.0 L1220.0 561.0 L1222.0 561.0 L1224.0 561.0 L1226.0 561.0 L1228.0 561.0 L1230.0 561.0 L1232.0 561.0 L1234.0 561.0 L1236.0 561.0 L1238.0 561.0 L1240.0 561.0 L1242.0 561.0 L1244.0 561.0 L1246.0 561.0 L1248.0 561.0 L1250.0 561.0 L1252.0 561.0 L1254.0 561.0 L1256.0 561.0 L1258.0 561.0 L1260.0 560.9 L1262.0 560.9 L1264.0 560.9 L1266.0 560.9 L1268.0 560.8 L1270.0 560.8 L1272.0 560.8 L1274.0 560.8 L1276.0 560.8 L1278.0 560.8 L1280.0 560.7 L1282.0 560.7 L1284.0 560.7 L1286.0 560.7 L1288.0 560.7 L1290.0 560.7 L1292.0 560.6 L1294.0 560.6 L1296.0 560.6 L1298.0 560.6 L1300.0 560.6 L1302.0 560.5 L1304.0 560.5 L1306.0 560.5 L1308.0 560.5 L1310.0 560.5 L1312.0 560.5 L1314.0 560.4 L1316.0 560.4 L1318.0 560.4 L1320.0 560.4 L1322.0 560.4 L1324.0 560.4 L1326.0 560.3 L1328.0 560.3 L1330.0 560.3 L1332.0 560.3 L1334.0 560.3 L1336.0 560.3 L1338.0 560.2 L1340.0 560.2 L1342.0 560.2 L1344.0 560.2 L1346.0 560.2 L1348.0 560.2 L1350.0 560.1 L1352.0 560.1 L1354.0 560.1 L1356.0 560.1 L1358.0 560.1 L1360.0 560.1 L1362.0 560.0 L1364.0 560.0 L1366.0 560.0 L1368.0 559.8 L1370.0 559.4 L1372.0 558.9 L1374.0 558.3 L1376.0 557.9 L1378.0 557.6 L1380.0 557.5 L1382.0 557.5 L1384.0 557.5 L1386.0 557.4 L1388.0 557.4 L1390.0 557.4 L1392.0 557.4 L1394.0 557.4 L1396.0 557.4 L1398.0 557.4 L1400.0 557.4 L1402.0 557.3 L1404.0 557.3 L1406.0 557.3 L1408.0 557.3 L1410.0 557.3 L1412.0 557.3 L1414.0 557.3 L1416.0 557.2 L1418.0 557.2 L1420.0 557.2 L1422.0 557.2 L1424.0 557.2 L1426.0 557.2 L1428.0 557.2 L1430.0 557.1 L1432.0 557.1 L1434.0 557.1 L1436.0 557.1 L1438.0 557.1 L1440.0 557.1 L1442.0 557.1 L1444.0 557.0 L1446.0 557.0 L1448.0 557.0 L1450.0 557.0 L1452.0 557.0 L1454.0 557.0 L1456.0 557.0 L1458.0 557.0 L1460.0 557.0 L1462.0 556.9 L1464.0 556.9 L1466.0 556.9 L1468.0 556.9 L1470.0 556.9 L1472.0 556.9 L1474.0 556.9 L1476.0 556.9 L1478.0 556.9 L1480.0 556.9 L1482.0 556.9 L1484.0 556.8 L1486.0 556.8 L1488.0 556.8 L1490.0 556.8 L1492.0 556.8 L1494.0 556.8 L1496.0 556.8 L1498.0 556.8 L1500.0 556.8 L1502.0 556.8 L1504.0 556.8 L1506.0 556.8 L1508.0 556.7 L1510.0 556.7 L1512.0 556.7 L1514.0 556.7 L1516.0 556.7 L1518.0 556.7 L1520.0 556.7 L1522.0 556.7 L1524.0 556.7 L1526.0 556.7 L1528.0 556.6 L1530.0 556.6 L1532.0 556.6 L1534.0 556.6 L1536.0 556.6 L1538.0 556.6 L1540.0 556.6 L1542.0 556.6 L1544.0 556.6 L1546.0 556.6 L1548.0 556.6 L1550.0 556.6 L1552.0 556.6 L1554.0 556.6 L1556.0 556.6 L1558.0 556.6 L1560.0 556.6 L1562.0 556.6 L1564.0 556.6 L1566.0 556.6 L1568.0 556.6 L1570.0 556.6 L1572.0 556.6 L1574.0 556.6 L1576.0 556.6 L1578.0 556.6 L1580.0 556.6 L1582.0 556.6 L1584.0 556.6 L1586.0 556.6 L1588.0 556.6 L1590.0 556.6 L1592.0 556.6 L1594.0 556.6 L1596.0 556.6 L1598.0 556.6 L1600.0 556.6 L1602.0 556.6 L1604.0 556.6 L1606.0 556.6 L1608.0 556.6 L1610.0 556.6 L1612.0 556.6 L1614.0 556.6 L1616.0 556.6 L1618.0 556.6 L1620.0 556.6 L1622.0 556.6 L1624.0 556.6 L1626.0 556.6 L1628.0 556.6 L1630.0 556.6 L1632.0 556.6 L1634.0 556.6 L1636.0 556.6 L1638.0 556.6 L1640.0 556.6 L1642.0 556.6 L1644.0 556.6 L1646.0 556.6 L1648.0 556.6 L1650.0 556.6 L1652.0 556.5 L1654.0 556.5 L1656.0 556.5 L1658.0 556.5 L1660.0 556.5 L1662.0 556.5 L1664.0 556.5 L1666.0 556.5 L1668.0 556.5 L1670.0 556.5 L1672.0 556.5 L1674.0 556.5 L1676.0 556.5 L1678.0 556.5 L1680.0 556.5 L1682.0 556.5 L1684.0 556.5 L1686.0 556.5 L1688.0 556.5 L1690.0 556.5 L1692.0 556.5 L1694.0 556.5 L1696.0 556.5 L1698.0 556.5 L1700.0 556.5 L1702.0 556.5 L1704.0 556.5 L1706.0 556.5 L1708.0 556.5 L1710.0 556.4 L1712.0 556.4 L1714.0 556.4 L1716.0 556.4 L1718.0 556.4 L1720.0 556.4 L1722.0 556.3 L1724.0 556.3 L1726.0 556.3 L1728.0 556.3 L1730.0 556.3 L1732.0 556.3 L1734.0 556.2 L1736.0 556.2 L1738.0 556.2 L1740.0 556.2 L1742.0 556.2 L1744.0 556.2 L1746.0 556.2 L1748.0 556.1 L1750.0 556.1 L1752.0 556.1 L1754.0 556.1 L1756.0 556.1 L1758.0 556.1 L1760.0 556.1 L1762.0 556.0 L1764.0 556.0 L1766.0 556.0 L1768.0 556.0 L1770.0 556.0 L1772.0 556.0 L1774.0 555.9 L1776.0 555.9 L1778.0 555.9 L1780.0 555.9 L1782.0 555.9 L1784.0 555.9 L1786.0 555.9 L1788.0 555.8 L1790.0 555.8 L1792.0 555.8 L1794.0 555.8 L1796.0 555.8 L1798.0 555.8 L1800.0 555.8 L1802.0 555.7 L1804.0 555.7 L1806.0 555.7 L1808.0 555.7 L1810.0 555.7 L1812.0 555.7 L1814.0 555.6 L1816.0 555.6 L1818.0 555.6 L1820.0 555.6 L1822.0 555.6 L1824.0 555.6 L1826.0 555.6 L1828.0 555.5 L1830.0 555.5 L1832.0 555.5 L1834.0 555.5 L1836.0 555.5 L1838.0 555.5 L1840.0 555.4 L1842.0 555.4 L1844.0 555.4 L1846.0 555.4 L1848.0 555.4 L1850.0 555.4 L1852.0 555.4 L1854.0 555.3 L1856.0 555.3 L1858.0 555.3 L1860.0 555.3 L1862.0 555.3 L1864.0 555.3 L1866.0 555.3 L1868.0 555.2 L1870.0 555.2 L1872.0 555.2 L1874.0 555.2 L1876.0 555.2 L1878.0 555.2 L1880.0 555.1 L1882.0 555.1 L1884.0 555.1 L1886.0 555.1 L1888.0 555.1 L1890.0 555.1 L1892.0 555.1 L1894.0 555.0 L1896.0 555.0 L1898.0 555.0 L1900.0 555.0 L1902.0 555.0 L1904.0 555.0 L1906.0 555.0 L1908.0 555.0 L1910.0 555.0 L1912.0 555.0 L1914.0 554.9 L1916.0 554.9 L1918.0 554.9 L1920.0 554.9 L1922.0 554.9 L1924.0 554.9 L1926.0 554.9 L1928.0 554.9 L1930.0 554.9 L1932.0 554.9 L1934.0 554.9 L1936.0 554.9 L1938.0 554.8 L1940.0 554.8 L1942.0 554.8 L1944.0 554.8 L1946.0 554.8 L1948.0 554.8 L1950.0 554.8 L1952.0 554.8 L1954.0 554.8 L1956.0 554.8 L1958.0 554.8 L1960.0 554.8 L1962.0 554.8 L1964.0 554.7 L1966.0 554.7 L1968.0 554.7 L1970.0 554.7 L1972.0 554.7 L1974.0 554.7 L1976.0 554.7 L1978.0 554.7 L1980.0 554.7 L1982.0 554.7 L1984.0 554.7 L1986.0 554.7 L1988.0 554.6 L1990.0 554.6 L1992.0 554.6 L1994.0 554.6 L1996.0 554.6 L1998.0 554.6 L2000.0 554.6 L2002.0 554.6 L2004.0 554.6 L2006.0 554.6 L2008.0 554.6 L2010.0 554.6 L2012.0 554.6 L2014.0 554.5 L2016.0 554.5 L2018.0 554.5 L2020.0 554.5 L2022.0 554.5 L2024.0 554.5 L2026.0 554.5 L2028.0 554.5 L2030.0 554.5 L2032.0 554.5 L2034.0 554.5 L2036.0 554.5 L2038.0 554.4 L2040.0 554.4 L2042.0 554.4 L2044.0 554.4 L2046.0 554.4 L2048.0 554.4 L2050.0 554.4 L2052.0 554.4 L2054.0 554.4 L2056.0 554.4 L2058.0 554.4 L2060.0 554.4 L2062.0 554.4 L2064.0 554.4 L2066.0 554.4 L2068.0 554.4 L2070.0 554.4 L2072.0 554.4 L2074.0 554.4 L2076.0 554.4 L2078.0 554.4 L2080.0 554.4 L2082.0 554.4 L2084.0 554.4 L2086.0 554.4 L2088.0 554.4 L2090.0 554.4 L2092.0 554.4 L2094.0 554.4 L2096.0 554.4 L2098.0 554.4 L2100.0 554.4 L2102.0 554.4 L2104.0 554.4 L2106.0 554.4 L2108.0 554.4 L2110.0 554.4 L2112.0 554.4 L2114.0 554.4 L2116.0 554.4 L2118.0 554.4 L2120.0 554.4 L2122.0 554.4 L2124.0 554.4 L2126.0 554.4 L2128.0 554.4 L2130.0 554.4 L2132.0 554.4 L2134.0 554.4 L2136.0 554.4 L2138.0 554.4 L2140.0 554.4 L2142.0 554.4 L2144.0 554.4 L2146.0 554.4 L2148.0 554.4 L2150.0 554.4 L2152.0 554.4 L2154.0 554.4 L2156.0 554.4 L2158.0 554.4 L2160.0 554.4 L2162.0 554.4 L2164.0 554.4 L2166.0 554.4 L2168.0 554.4 L2170.0 554.4 L2172.0 554.4 L2174.0 554.4 L2176.0 554.4 L2178.0 554.4 L2180.0 554.4 L2182.0 554.4 L2184.0 554.4 L2186.0 554.4 L2188.0 554.4 L2190.0 554.4 L2192.0 554.4 L2194.0 554.4 L2196.0 554.4 L2198.0 554.4 L2200.0 554.4 L2202.0 554.4 L2204.0 554.4 L2206.0 554.4 L2208.0 554.4 L2210.0 554.4 L2212.0 554.4 L2214.0 554.4 L2216.0 554.4 L2218.0 554.4 L2220.0 554.4 L2222.0 554.4 L2224.0 554.4 L2226.0 554.4 L2228.0 554.4 L2230.0 554.4 L2232.0 554.4 L2234.0 554.4 L2236.0 554.4 L2238.0 554.4 L2240.0 554.4 L2242.0 554.4 L2244.0 554.4 L2246.0 554.4 L2248.0 554.4 L2250.0 554.4 L2252.0 554.4" stroke="#008000" stroke-width="7.2"/>
</g>
<g stroke="#000" stroke-width="5.2" fill="none" stroke-linecap="butt">
<rect x="422.2" y="63.0" width="1830.9999999999998" height="1477.4"/>
<line x1="393.6" y1="63.0" x2="422.2" y2="63.0"/>
<line x1="408.0" y1="186.1" x2="422.2" y2="186.1"/>
<line x1="393.6" y1="309.2" x2="422.2" y2="309.2"/>
<line x1="408.0" y1="432.4" x2="422.2" y2="432.4"/>
<line x1="393.6" y1="555.5" x2="422.2" y2="555.5"/>
<line x1="408.0" y1="678.6" x2="422.2" y2="678.6"/>
<line x1="393.6" y1="801.7" x2="422.2" y2="801.7"/>
<line x1="408.0" y1="924.8" x2="422.2" y2="924.8"/>
<line x1="393.6" y1="1047.9" x2="422.2" y2="1047.9"/>
<line x1="408.0" y1="1171.0" x2="422.2" y2="1171.0"/>
<line x1="393.6" y1="1294.2" x2="422.2" y2="1294.2"/>
<line x1="408.0" y1="1417.3" x2="422.2" y2="1417.3"/>
<line x1="393.6" y1="1540.4" x2="422.2" y2="1540.4"/>
<line x1="422.2" y1="1540.4" x2="422.2" y2="1569.0"/>
<line x1="651.1" y1="1540.4" x2="651.1" y2="1554.6"/>
<line x1="879.9" y1="1540.4" x2="879.9" y2="1569.0"/>
<line x1="1108.8" y1="1540.4" x2="1108.8" y2="1554.6"/>
<line x1="1337.7" y1="1540.4" x2="1337.7" y2="1569.0"/>
<line x1="1566.6" y1="1540.4" x2="1566.6" y2="1554.6"/>
<line x1="1795.4" y1="1540.4" x2="1795.4" y2="1569.0"/>
<line x1="2024.3" y1="1540.4" x2="2024.3" y2="1554.6"/>
<line x1="2253.2" y1="1540.4" x2="2253.2" y2="1569.0"/>
</g>
<g font-size="98" text-anchor="end">
<text x="372.5" y="92.6">1.0</text>
<text x="372.5" y="338.8">0.5</text>
<text x="372.5" y="585.1">0.0</text>
<text x="372.5" y="831.3">-0.5</text>
<text x="372.5" y="1077.5">-1.0</text>
<text x="372.5" y="1323.8">-1.5</text>
<text x="372.5" y="1570.0">-2.0</text>
</g>
<g font-size="98" text-anchor="middle">
<text x="422.2" y="1665">0</text>
<text x="879.9" y="1665">200</text>
<text x="1337.7" y="1665">400</text>
<text x="1795.4" y="1665">600</text>
<text x="2253.2" y="1665">800</text>
</g>
<text x="1339.3" y="1819.0" font-size="98.2" text-anchor="middle">Magnetic field (mT)</text>
<text transform="translate(111,761.5) rotate(-90)" font-size="98" text-anchor="middle">EPR signal (a.u.)</text>
<text x="1831.5" y="190.3" font-size="68" textLength="314" lengthAdjust="spacingAndGlyphs">complex <tspan font-weight="bold">2</tspan></text>
<line x1="1832" y1="251.3" x2="1988.5" y2="251.3" stroke="#000" stroke-width="7.4" stroke-linecap="round"/>
<text x="2007" y="275.2" font-size="68">2 K</text>
<line x1="1832" y1="337.1" x2="1988.5" y2="337.1" stroke="#ff0000" stroke-width="7.4" stroke-linecap="round"/>
<text x="2007" y="360.8" font-size="68">10 K</text>
<line x1="1832" y1="423.0" x2="1988.5" y2="423.0" stroke="#0000ff" stroke-width="7.4" stroke-linecap="round"/>
<text x="2007" y="446.4" font-size="68">20 K</text>
<line x1="1832" y1="508.8" x2="1988.5" y2="508.8" stroke="#ff8000" stroke-width="7.4" stroke-linecap="round"/>
<text x="2007" y="532.0" font-size="68">35 K</text>
<line x1="1832" y1="594.7" x2="1988.5" y2="594.7" stroke="#008000" stroke-width="7.4" stroke-linecap="round"/>
<text x="2007" y="617.6" font-size="68">50 K</text>
<text x="1848.5" y="1006.9" font-size="65.5" textLength="312" lengthAdjust="spacingAndGlyphs">simulation</text>
</svg></body></html>
